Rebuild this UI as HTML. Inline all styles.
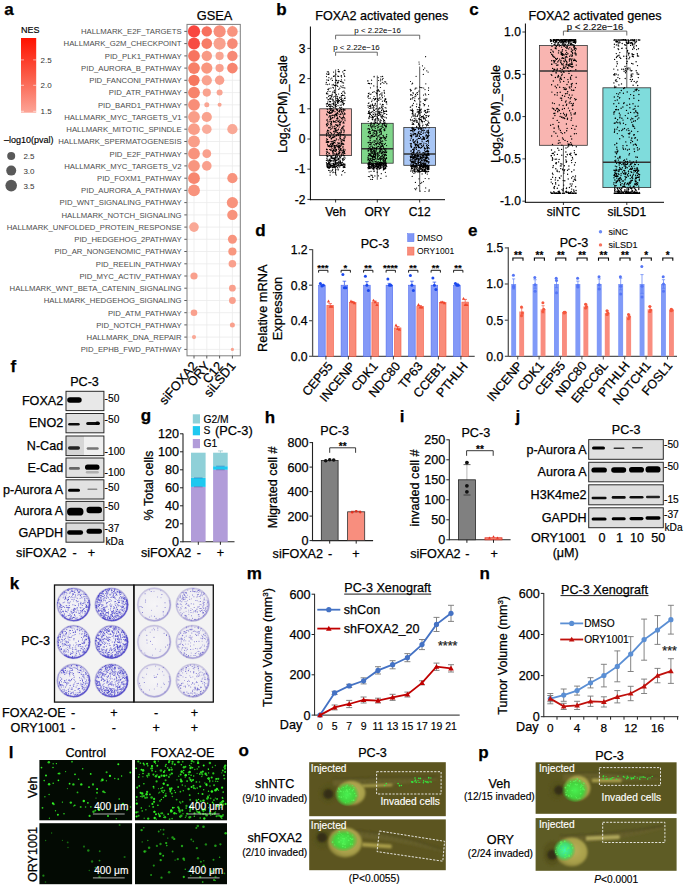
<!DOCTYPE html><html><head><meta charset="utf-8"><style>html,body{margin:0;padding:0;background:#fff;}svg{display:block;}</style></head><body><svg width="685" height="887" viewBox="0 0 685 887" font-family='"Liberation Sans", sans-serif'><text x="4.2" y="15.3" font-size="17" stroke="#000" stroke-width="0.25" font-weight="bold">a</text>
<text x="21.0" y="32.5" font-size="9" stroke="#000" stroke-width="0.15">NES</text>
<defs><linearGradient id="nes" x1="0" y1="0" x2="0" y2="1"><stop offset="0" stop-color="#ff1100"/><stop offset="0.5" stop-color="#fb5a46"/><stop offset="1" stop-color="#fca597"/></linearGradient></defs>
<rect x="21.0" y="38.0" width="15.2" height="74.7" fill="url(#nes)"/>
<line x1="21.0" y1="59.9" x2="24.0" y2="59.9" stroke="#fff" stroke-width="0.6"/>
<line x1="33.2" y1="59.9" x2="36.2" y2="59.9" stroke="#fff" stroke-width="0.6"/>
<text x="40.5" y="62.8" font-size="8" fill="#333">2.5</text>
<line x1="21.0" y1="85.3" x2="24.0" y2="85.3" stroke="#fff" stroke-width="0.6"/>
<line x1="33.2" y1="85.3" x2="36.2" y2="85.3" stroke="#fff" stroke-width="0.6"/>
<text x="40.5" y="88.2" font-size="8" fill="#333">2.0</text>
<line x1="21.0" y1="111.3" x2="24.0" y2="111.3" stroke="#fff" stroke-width="0.6"/>
<line x1="33.2" y1="111.3" x2="36.2" y2="111.3" stroke="#fff" stroke-width="0.6"/>
<text x="40.5" y="114.2" font-size="8" fill="#333">1.5</text>
<text x="4.0" y="143.2" font-size="9" stroke="#000" stroke-width="0.15">–log10(pval)</text>
<circle cx="11.2" cy="156.0" r="4.00" fill="#595959"/>
<text x="23.4" y="158.9" font-size="8" fill="#333">2.5</text>
<circle cx="11.2" cy="170.6" r="5.00" fill="#595959"/>
<text x="23.4" y="173.5" font-size="8" fill="#333">3.0</text>
<circle cx="11.2" cy="185.6" r="5.80" fill="#595959"/>
<text x="23.4" y="188.5" font-size="8" fill="#333">3.5</text>
<rect x="187.0" y="24.4" width="53.3" height="331.4" fill="#fff"/>
<line x1="194.0" y1="24.4" x2="194.0" y2="355.8" stroke="#ebebeb" stroke-width="0.8"/>
<line x1="206.8" y1="24.4" x2="206.8" y2="355.8" stroke="#ebebeb" stroke-width="0.8"/>
<line x1="219.6" y1="24.4" x2="219.6" y2="355.8" stroke="#ebebeb" stroke-width="0.8"/>
<line x1="232.4" y1="24.4" x2="232.4" y2="355.8" stroke="#ebebeb" stroke-width="0.8"/>
<line x1="187.0" y1="31.4" x2="240.3" y2="31.4" stroke="#ebebeb" stroke-width="0.8"/>
<line x1="187.0" y1="43.6" x2="240.3" y2="43.6" stroke="#ebebeb" stroke-width="0.8"/>
<line x1="187.0" y1="55.9" x2="240.3" y2="55.9" stroke="#ebebeb" stroke-width="0.8"/>
<line x1="187.0" y1="68.1" x2="240.3" y2="68.1" stroke="#ebebeb" stroke-width="0.8"/>
<line x1="187.0" y1="80.3" x2="240.3" y2="80.3" stroke="#ebebeb" stroke-width="0.8"/>
<line x1="187.0" y1="92.6" x2="240.3" y2="92.6" stroke="#ebebeb" stroke-width="0.8"/>
<line x1="187.0" y1="104.8" x2="240.3" y2="104.8" stroke="#ebebeb" stroke-width="0.8"/>
<line x1="187.0" y1="117.0" x2="240.3" y2="117.0" stroke="#ebebeb" stroke-width="0.8"/>
<line x1="187.0" y1="129.2" x2="240.3" y2="129.2" stroke="#ebebeb" stroke-width="0.8"/>
<line x1="187.0" y1="141.5" x2="240.3" y2="141.5" stroke="#ebebeb" stroke-width="0.8"/>
<line x1="187.0" y1="153.7" x2="240.3" y2="153.7" stroke="#ebebeb" stroke-width="0.8"/>
<line x1="187.0" y1="165.9" x2="240.3" y2="165.9" stroke="#ebebeb" stroke-width="0.8"/>
<line x1="187.0" y1="178.2" x2="240.3" y2="178.2" stroke="#ebebeb" stroke-width="0.8"/>
<line x1="187.0" y1="190.4" x2="240.3" y2="190.4" stroke="#ebebeb" stroke-width="0.8"/>
<line x1="187.0" y1="202.6" x2="240.3" y2="202.6" stroke="#ebebeb" stroke-width="0.8"/>
<line x1="187.0" y1="214.9" x2="240.3" y2="214.9" stroke="#ebebeb" stroke-width="0.8"/>
<line x1="187.0" y1="227.1" x2="240.3" y2="227.1" stroke="#ebebeb" stroke-width="0.8"/>
<line x1="187.0" y1="239.3" x2="240.3" y2="239.3" stroke="#ebebeb" stroke-width="0.8"/>
<line x1="187.0" y1="251.5" x2="240.3" y2="251.5" stroke="#ebebeb" stroke-width="0.8"/>
<line x1="187.0" y1="263.8" x2="240.3" y2="263.8" stroke="#ebebeb" stroke-width="0.8"/>
<line x1="187.0" y1="276.0" x2="240.3" y2="276.0" stroke="#ebebeb" stroke-width="0.8"/>
<line x1="187.0" y1="288.2" x2="240.3" y2="288.2" stroke="#ebebeb" stroke-width="0.8"/>
<line x1="187.0" y1="300.5" x2="240.3" y2="300.5" stroke="#ebebeb" stroke-width="0.8"/>
<line x1="187.0" y1="312.7" x2="240.3" y2="312.7" stroke="#ebebeb" stroke-width="0.8"/>
<line x1="187.0" y1="324.9" x2="240.3" y2="324.9" stroke="#ebebeb" stroke-width="0.8"/>
<line x1="187.0" y1="337.1" x2="240.3" y2="337.1" stroke="#ebebeb" stroke-width="0.8"/>
<line x1="187.0" y1="349.4" x2="240.3" y2="349.4" stroke="#ebebeb" stroke-width="0.8"/>
<text x="181.6" y="34.2" font-size="7.75" text-anchor="end" fill="#4d4d4d">HALLMARK_E2F_TARGETS</text>
<line x1="184.3" y1="31.4" x2="187.0" y2="31.4" stroke="#333" stroke-width="0.8"/>
<text x="181.6" y="46.4" font-size="7.75" text-anchor="end" fill="#4d4d4d">HALLMARK_G2M_CHECKPOINT</text>
<line x1="184.3" y1="43.6" x2="187.0" y2="43.6" stroke="#333" stroke-width="0.8"/>
<text x="181.6" y="58.7" font-size="7.75" text-anchor="end" fill="#4d4d4d">PID_PLK1_PATHWAY</text>
<line x1="184.3" y1="55.9" x2="187.0" y2="55.9" stroke="#333" stroke-width="0.8"/>
<text x="181.6" y="70.9" font-size="7.75" text-anchor="end" fill="#4d4d4d">PID_AURORA_B_PATHWAY</text>
<line x1="184.3" y1="68.1" x2="187.0" y2="68.1" stroke="#333" stroke-width="0.8"/>
<text x="181.6" y="83.1" font-size="7.75" text-anchor="end" fill="#4d4d4d">PID_FANCONI_PATHWAY</text>
<line x1="184.3" y1="80.3" x2="187.0" y2="80.3" stroke="#333" stroke-width="0.8"/>
<text x="181.6" y="95.4" font-size="7.75" text-anchor="end" fill="#4d4d4d">PID_ATR_PATHWAY</text>
<line x1="184.3" y1="92.6" x2="187.0" y2="92.6" stroke="#333" stroke-width="0.8"/>
<text x="181.6" y="107.6" font-size="7.75" text-anchor="end" fill="#4d4d4d">PID_BARD1_PATHWAY</text>
<line x1="184.3" y1="104.8" x2="187.0" y2="104.8" stroke="#333" stroke-width="0.8"/>
<text x="181.6" y="119.8" font-size="7.75" text-anchor="end" fill="#4d4d4d">HALLMARK_MYC_TARGETS_V1</text>
<line x1="184.3" y1="117.0" x2="187.0" y2="117.0" stroke="#333" stroke-width="0.8"/>
<text x="181.6" y="132.0" font-size="7.75" text-anchor="end" fill="#4d4d4d">HALLMARK_MITOTIC_SPINDLE</text>
<line x1="184.3" y1="129.2" x2="187.0" y2="129.2" stroke="#333" stroke-width="0.8"/>
<text x="181.6" y="144.3" font-size="7.75" text-anchor="end" fill="#4d4d4d">HALLMARK_SPERMATOGENESIS</text>
<line x1="184.3" y1="141.5" x2="187.0" y2="141.5" stroke="#333" stroke-width="0.8"/>
<text x="181.6" y="156.5" font-size="7.75" text-anchor="end" fill="#4d4d4d">PID_E2F_PATHWAY</text>
<line x1="184.3" y1="153.7" x2="187.0" y2="153.7" stroke="#333" stroke-width="0.8"/>
<text x="181.6" y="168.7" font-size="7.75" text-anchor="end" fill="#4d4d4d">HALLMARK_MYC_TARGETS_V2</text>
<line x1="184.3" y1="165.9" x2="187.0" y2="165.9" stroke="#333" stroke-width="0.8"/>
<text x="181.6" y="181.0" font-size="7.75" text-anchor="end" fill="#4d4d4d">PID_FOXM1_PATHWAY</text>
<line x1="184.3" y1="178.2" x2="187.0" y2="178.2" stroke="#333" stroke-width="0.8"/>
<text x="181.6" y="193.2" font-size="7.75" text-anchor="end" fill="#4d4d4d">PID_AURORA_A_PATHWAY</text>
<line x1="184.3" y1="190.4" x2="187.0" y2="190.4" stroke="#333" stroke-width="0.8"/>
<text x="181.6" y="205.4" font-size="7.75" text-anchor="end" fill="#4d4d4d">PID_WNT_SIGNALING_PATHWAY</text>
<line x1="184.3" y1="202.6" x2="187.0" y2="202.6" stroke="#333" stroke-width="0.8"/>
<text x="181.6" y="217.7" font-size="7.75" text-anchor="end" fill="#4d4d4d">HALLMARK_NOTCH_SIGNALING</text>
<line x1="184.3" y1="214.9" x2="187.0" y2="214.9" stroke="#333" stroke-width="0.8"/>
<text x="181.6" y="229.9" font-size="7.75" text-anchor="end" fill="#4d4d4d">HALLMARK_UNFOLDED_PROTEIN_RESPONSE</text>
<line x1="184.3" y1="227.1" x2="187.0" y2="227.1" stroke="#333" stroke-width="0.8"/>
<text x="181.6" y="242.1" font-size="7.75" text-anchor="end" fill="#4d4d4d">PID_HEDGEHOG_2PATHWAY</text>
<line x1="184.3" y1="239.3" x2="187.0" y2="239.3" stroke="#333" stroke-width="0.8"/>
<text x="181.6" y="254.3" font-size="7.75" text-anchor="end" fill="#4d4d4d">PID_AR_NONGENOMIC_PATHWAY</text>
<line x1="184.3" y1="251.5" x2="187.0" y2="251.5" stroke="#333" stroke-width="0.8"/>
<text x="181.6" y="266.6" font-size="7.75" text-anchor="end" fill="#4d4d4d">PID_REELIN_PATHWAY</text>
<line x1="184.3" y1="263.8" x2="187.0" y2="263.8" stroke="#333" stroke-width="0.8"/>
<text x="181.6" y="278.8" font-size="7.75" text-anchor="end" fill="#4d4d4d">PID_MYC_ACTIV_PATHWAY</text>
<line x1="184.3" y1="276.0" x2="187.0" y2="276.0" stroke="#333" stroke-width="0.8"/>
<text x="181.6" y="291.0" font-size="7.75" text-anchor="end" fill="#4d4d4d">HALLMARK_WNT_BETA_CATENIN_SIGNALING</text>
<line x1="184.3" y1="288.2" x2="187.0" y2="288.2" stroke="#333" stroke-width="0.8"/>
<text x="181.6" y="303.3" font-size="7.75" text-anchor="end" fill="#4d4d4d">HALLMARK_HEDGEHOG_SIGNALING</text>
<line x1="184.3" y1="300.5" x2="187.0" y2="300.5" stroke="#333" stroke-width="0.8"/>
<text x="181.6" y="315.5" font-size="7.75" text-anchor="end" fill="#4d4d4d">PID_ATM_PATHWAY</text>
<line x1="184.3" y1="312.7" x2="187.0" y2="312.7" stroke="#333" stroke-width="0.8"/>
<text x="181.6" y="327.7" font-size="7.75" text-anchor="end" fill="#4d4d4d">PID_NOTCH_PATHWAY</text>
<line x1="184.3" y1="324.9" x2="187.0" y2="324.9" stroke="#333" stroke-width="0.8"/>
<text x="181.6" y="339.9" font-size="7.75" text-anchor="end" fill="#4d4d4d">HALLMARK_DNA_REPAIR</text>
<line x1="184.3" y1="337.1" x2="187.0" y2="337.1" stroke="#333" stroke-width="0.8"/>
<text x="181.6" y="352.2" font-size="7.75" text-anchor="end" fill="#4d4d4d">PID_EPHB_FWD_PATHWAY</text>
<line x1="184.3" y1="349.4" x2="187.0" y2="349.4" stroke="#333" stroke-width="0.8"/>
<circle cx="194.0" cy="31.4" r="6.10" fill="#f9463f"/>
<circle cx="206.8" cy="31.4" r="5.20" fill="#f7705e"/>
<circle cx="219.6" cy="31.4" r="6.10" fill="#f88f7c"/>
<circle cx="232.4" cy="31.4" r="5.30" fill="#f8947f"/>
<circle cx="194.0" cy="43.6" r="6.00" fill="#f74c43"/>
<circle cx="206.8" cy="43.6" r="5.30" fill="#f77c67"/>
<circle cx="219.6" cy="43.6" r="6.10" fill="#f9a08d"/>
<circle cx="232.4" cy="43.6" r="5.30" fill="#f78a76"/>
<circle cx="194.0" cy="55.9" r="5.90" fill="#f7735f"/>
<circle cx="206.8" cy="55.9" r="5.20" fill="#f89a86"/>
<circle cx="219.6" cy="55.9" r="4.10" fill="#f9a593"/>
<circle cx="232.4" cy="55.9" r="5.20" fill="#f78a76"/>
<circle cx="194.0" cy="68.1" r="5.90" fill="#f78068"/>
<circle cx="206.8" cy="68.1" r="5.60" fill="#f9977f"/>
<circle cx="219.6" cy="68.1" r="4.10" fill="#f9a08e"/>
<circle cx="232.4" cy="68.1" r="5.30" fill="#f7856f"/>
<circle cx="194.0" cy="80.3" r="5.60" fill="#f6785f"/>
<circle cx="206.8" cy="80.3" r="5.10" fill="#f9a28e"/>
<circle cx="219.6" cy="80.3" r="4.70" fill="#f9a08e"/>
<circle cx="194.0" cy="92.6" r="5.90" fill="#f7836b"/>
<circle cx="206.8" cy="92.6" r="4.10" fill="#f9a28e"/>
<circle cx="219.6" cy="92.6" r="3.00" fill="#f9a593"/>
<circle cx="194.0" cy="104.8" r="5.90" fill="#f88e78"/>
<circle cx="206.8" cy="104.8" r="2.50" fill="#f9a593"/>
<circle cx="219.6" cy="104.8" r="2.00" fill="#f9a593"/>
<circle cx="194.0" cy="117.0" r="5.90" fill="#f99e88"/>
<circle cx="206.8" cy="117.0" r="5.10" fill="#f9a28e"/>
<circle cx="194.0" cy="129.2" r="5.90" fill="#f99e88"/>
<circle cx="206.8" cy="129.2" r="4.80" fill="#f9ab9a"/>
<circle cx="232.4" cy="129.2" r="5.10" fill="#f9a896"/>
<circle cx="194.0" cy="141.5" r="5.90" fill="#f99e88"/>
<circle cx="194.0" cy="153.7" r="5.90" fill="#f8937d"/>
<circle cx="206.8" cy="153.7" r="4.40" fill="#f9a08d"/>
<circle cx="194.0" cy="165.9" r="5.90" fill="#f8957f"/>
<circle cx="206.8" cy="165.9" r="4.80" fill="#f9a08d"/>
<circle cx="194.0" cy="178.2" r="5.90" fill="#f78770"/>
<circle cx="232.4" cy="178.2" r="5.10" fill="#f8937d"/>
<circle cx="194.0" cy="190.4" r="5.90" fill="#f8937d"/>
<circle cx="232.4" cy="202.6" r="5.60" fill="#f8937d"/>
<circle cx="232.4" cy="214.9" r="5.20" fill="#f8937d"/>
<circle cx="194.0" cy="227.1" r="4.80" fill="#f9a896"/>
<circle cx="232.4" cy="239.3" r="4.50" fill="#f8957f"/>
<circle cx="232.4" cy="251.5" r="4.10" fill="#f8977f"/>
<circle cx="232.4" cy="263.8" r="3.80" fill="#f9a08d"/>
<circle cx="194.0" cy="276.0" r="3.60" fill="#f9a08d"/>
<circle cx="232.4" cy="288.2" r="3.40" fill="#f9a08d"/>
<circle cx="232.4" cy="300.5" r="3.40" fill="#f9a08d"/>
<circle cx="194.0" cy="312.7" r="3.30" fill="#f9a08d"/>
<circle cx="232.4" cy="324.9" r="2.50" fill="#f9a08d"/>
<circle cx="194.0" cy="337.1" r="2.10" fill="#f9a896"/>
<circle cx="232.4" cy="349.4" r="1.60" fill="#f9a08d"/>
<rect x="187.0" y="24.4" width="53.3" height="331.4" fill="none" stroke="#7f7f7f" stroke-width="1"/>
<text x="214.5" y="19.5" font-size="12.8" text-anchor="middle" stroke="#000" stroke-width="0.25">GSEA</text>
<line x1="194.0" y1="355.8" x2="194.0" y2="358.5" stroke="#333" stroke-width="0.8"/>
<text x="198.0" y="366.3" font-size="12.8" text-anchor="end" stroke="#000" stroke-width="0.25" transform="rotate(-50 198.0 366.3)">siFOXA2</text>
<line x1="206.8" y1="355.8" x2="206.8" y2="358.5" stroke="#333" stroke-width="0.8"/>
<text x="210.8" y="366.3" font-size="12.8" text-anchor="end" stroke="#000" stroke-width="0.25" transform="rotate(-50 210.8 366.3)">ORY</text>
<line x1="219.6" y1="355.8" x2="219.6" y2="358.5" stroke="#333" stroke-width="0.8"/>
<text x="223.6" y="366.3" font-size="12.8" text-anchor="end" stroke="#000" stroke-width="0.25" transform="rotate(-50 223.6 366.3)">C12</text>
<line x1="232.4" y1="355.8" x2="232.4" y2="358.5" stroke="#333" stroke-width="0.8"/>
<text x="236.4" y="366.3" font-size="12.8" text-anchor="end" stroke="#000" stroke-width="0.25" transform="rotate(-50 236.4 366.3)">siLSD1</text>
<text x="276.2" y="15.3" font-size="17" stroke="#000" stroke-width="0.25" font-weight="bold">b</text>
<text x="381.7" y="19.5" font-size="12.6" text-anchor="middle" stroke="#000" stroke-width="0.25">FOXA2 activated genes</text>
<line x1="310.4" y1="26.5" x2="310.4" y2="200.2" stroke="#000" stroke-width="1"/>
<line x1="309.9" y1="199.7" x2="445.0" y2="199.7" stroke="#000" stroke-width="1"/>
<line x1="307.4" y1="48.4" x2="310.4" y2="48.4" stroke="#000" stroke-width="0.8"/>
<text x="305.4" y="52.6" font-size="12" text-anchor="end" stroke="#000" stroke-width="0.25">3</text>
<line x1="307.4" y1="78.6" x2="310.4" y2="78.6" stroke="#000" stroke-width="0.8"/>
<text x="305.4" y="82.8" font-size="12" text-anchor="end" stroke="#000" stroke-width="0.25">2</text>
<line x1="307.4" y1="108.8" x2="310.4" y2="108.8" stroke="#000" stroke-width="0.8"/>
<text x="305.4" y="113.0" font-size="12" text-anchor="end" stroke="#000" stroke-width="0.25">1</text>
<line x1="307.4" y1="139.0" x2="310.4" y2="139.0" stroke="#000" stroke-width="0.8"/>
<text x="305.4" y="143.2" font-size="12" text-anchor="end" stroke="#000" stroke-width="0.25">0</text>
<line x1="307.4" y1="169.2" x2="310.4" y2="169.2" stroke="#000" stroke-width="0.8"/>
<text x="305.4" y="173.4" font-size="12" text-anchor="end" stroke="#000" stroke-width="0.25">-1</text>
<line x1="307.4" y1="199.4" x2="310.4" y2="199.4" stroke="#000" stroke-width="0.8"/>
<text x="305.4" y="203.6" font-size="12" text-anchor="end" stroke="#000" stroke-width="0.25">-2</text>
<text x="287.0" y="104.2" font-size="12.5" text-anchor="middle" stroke="#000" stroke-width="0.25" transform="rotate(-90 287.0 104.2)">Log<tspan font-size="8.5" dy="3">2</tspan><tspan dy="-3">(CPM)_scale</tspan></text>
<line x1="335.6" y1="69.5" x2="335.6" y2="175.2" stroke="#333" stroke-width="0.8"/>
<rect x="319.7" y="108.8" width="31.8" height="46.8" fill="#fbb8b4" stroke="#333" stroke-width="0.8"/>
<line x1="319.7" y1="135.1" x2="351.5" y2="135.1" stroke="#333" stroke-width="1.5"/>
<path d="M336.7 139.0h0M334.9 90.0h0M337.3 134.2h0M335.8 160.5h0M341.2 121.4h0M331.9 165.3h0M341.5 165.4h0M326.9 114.7h0M344.4 75.8h0M337.8 118.9h0M326.4 162.6h0M327.2 132.1h0M330.7 160.1h0M334.9 167.7h0M342.1 140.0h0M338.3 133.1h0M338.7 135.1h0M331.4 138.6h0M345.0 70.4h0M339.5 100.6h0M330.5 150.2h0M327.4 152.4h0M333.7 107.3h0M333.4 100.0h0M342.2 82.7h0M330.1 175.1h0M335.0 93.0h0M333.7 76.5h0M338.1 166.1h0M331.2 106.2h0M332.4 165.5h0M340.5 81.4h0M330.8 164.4h0M327.2 165.0h0M329.5 104.5h0M334.6 128.8h0M340.0 160.1h0M338.3 163.9h0M334.1 164.4h0M331.2 158.4h0M341.4 79.8h0M342.9 151.2h0M333.6 158.6h0M338.3 99.3h0M344.9 165.0h0M331.0 158.4h0M332.4 106.7h0M327.5 151.8h0M337.2 165.4h0M337.5 156.1h0M334.7 145.6h0M335.3 82.5h0M342.6 127.2h0M329.0 160.7h0M341.6 93.4h0M329.7 155.6h0M344.0 109.9h0M344.2 159.6h0M337.6 96.8h0M328.1 141.5h0M344.4 167.4h0M339.5 156.5h0M341.8 155.0h0M331.7 124.9h0M339.8 161.2h0M330.4 166.2h0M342.3 128.8h0M331.4 123.1h0M330.0 91.5h0M331.2 171.1h0M327.2 139.5h0M333.1 161.2h0M328.6 127.5h0M343.0 146.4h0M338.6 76.4h0M337.2 115.0h0M326.8 163.5h0M343.4 170.7h0M344.4 114.0h0M338.2 169.9h0M340.0 136.5h0M345.1 149.9h0M336.5 166.0h0M343.2 110.2h0M339.5 110.2h0M343.5 104.9h0M339.1 147.2h0M342.7 95.0h0M341.1 141.9h0M337.0 98.5h0M333.4 121.9h0M337.7 126.4h0M338.2 165.8h0M342.8 71.9h0M333.5 111.1h0M337.1 110.4h0M342.0 140.0h0M340.4 165.7h0M337.5 167.7h0M330.5 136.6h0M335.5 114.2h0M343.6 123.0h0M326.3 155.1h0M339.0 151.4h0M329.3 159.2h0M338.6 94.0h0M343.0 139.8h0M338.8 149.3h0M334.3 159.5h0M343.5 103.7h0M333.4 97.0h0M332.1 126.3h0M335.5 163.7h0M342.2 100.9h0M344.2 112.9h0M329.3 153.4h0M331.3 139.1h0M334.0 158.3h0M335.5 121.9h0M342.0 150.2h0M334.7 75.9h0M326.7 166.0h0M326.9 97.7h0M336.9 113.1h0M341.1 150.8h0M328.7 170.4h0M326.6 138.8h0M330.6 101.6h0M327.0 163.5h0M334.6 121.5h0M338.5 121.4h0M344.3 103.6h0M329.9 115.7h0M329.5 137.1h0M335.1 172.5h0M329.5 112.6h0M332.7 153.8h0M336.0 114.3h0M340.5 123.0h0M341.1 143.8h0M327.8 93.9h0M339.8 88.2h0M334.7 163.9h0M343.4 121.9h0M336.9 145.2h0M341.2 97.1h0M334.9 85.7h0M330.0 119.2h0M341.6 111.7h0M339.7 120.2h0M343.2 158.4h0M344.7 76.4h0M341.1 131.2h0M343.4 149.8h0M332.7 99.2h0M334.5 165.7h0M340.7 129.8h0M326.6 136.1h0M327.3 103.4h0M329.4 104.3h0M341.1 148.6h0M328.9 163.5h0M339.8 133.3h0M339.2 100.6h0M335.5 85.3h0M327.7 84.6h0M336.1 157.8h0M339.9 152.3h0M336.0 120.5h0M336.7 100.3h0M333.3 150.5h0M343.2 100.2h0M342.3 158.8h0M336.1 80.4h0M329.9 127.4h0M335.7 131.3h0M326.6 124.0h0M335.9 80.2h0M341.3 143.2h0M335.4 128.5h0M327.4 115.0h0M334.0 131.0h0M343.6 82.9h0M335.1 154.0h0M334.3 164.0h0M343.2 102.8h0M332.1 137.0h0M337.8 160.0h0M328.6 89.8h0M326.5 106.1h0M330.4 159.8h0M332.2 115.4h0M337.9 147.0h0M340.0 164.9h0M335.8 164.2h0M329.9 155.6h0M334.4 131.9h0M334.0 145.3h0M329.1 132.0h0M338.1 159.1h0M336.2 120.5h0M337.7 99.6h0M330.5 99.1h0M341.5 109.8h0M332.1 94.6h0M343.6 150.3h0M345.1 158.0h0M328.6 96.3h0M339.9 156.4h0M327.9 154.8h0M334.1 101.4h0M328.5 105.2h0M339.1 143.1h0M329.9 170.8h0M343.4 115.9h0M328.3 80.5h0M340.5 134.5h0M339.1 134.8h0M327.4 160.2h0M326.8 164.8h0M335.9 129.6h0M328.9 127.8h0M330.0 160.6h0M344.9 100.6h0M327.9 89.4h0M344.2 166.5h0M340.6 138.2h0M335.0 149.3h0M334.3 133.5h0M326.4 124.5h0M342.1 113.9h0M334.7 160.8h0M333.8 109.9h0M329.2 159.8h0M326.4 133.8h0M341.3 95.8h0M342.5 113.6h0M333.8 121.5h0M335.7 124.6h0M341.4 75.6h0M343.4 154.9h0M340.9 109.4h0M333.8 102.9h0M342.8 95.5h0M340.7 114.6h0M333.8 107.4h0M327.4 111.7h0M335.0 148.1h0M332.9 172.6h0M338.0 120.5h0M344.0 157.0h0M332.5 117.6h0M336.9 118.3h0M333.5 131.6h0M338.3 69.6h0M340.6 113.9h0M326.5 76.6h0M340.1 122.9h0M333.7 155.1h0M329.8 166.9h0M328.0 145.3h0M343.3 155.5h0M335.7 129.8h0M336.9 80.7h0M338.2 71.3h0M327.5 103.4h0M340.5 124.8h0M343.8 167.1h0M335.1 162.4h0M335.5 161.7h0M327.2 123.4h0M334.1 85.4h0M337.5 132.3h0M331.5 146.1h0M336.8 118.8h0M339.7 152.9h0M326.4 151.8h0M326.9 156.0h0M340.4 162.7h0M343.2 144.1h0M327.1 109.0h0M344.0 73.5h0M343.3 166.0h0M335.2 140.9h0M330.7 79.0h0M343.9 132.6h0M335.0 111.7h0M341.6 77.0h0M328.3 124.2h0M334.8 122.0h0M327.1 159.1h0M328.5 132.1h0M338.8 139.8h0M331.1 138.7h0M334.1 126.4h0M336.2 106.3h0M344.2 70.4h0M330.6 110.5h0M343.1 164.5h0M338.0 105.7h0M331.3 146.6h0M336.8 115.6h0M338.1 125.4h0M329.7 108.5h0M344.7 155.7h0M342.8 91.8h0M327.3 167.3h0M334.2 153.9h0M328.0 122.1h0M327.5 130.7h0M338.9 165.6h0M338.1 129.8h0M335.2 145.5h0M332.6 158.6h0M342.0 109.3h0M328.4 166.0h0M338.0 103.4h0M330.2 107.1h0M331.0 141.3h0M333.1 103.4h0M344.9 118.9h0M336.5 149.4h0M343.6 109.2h0M333.1 141.0h0M342.7 165.2h0M327.7 165.9h0M335.3 128.3h0M331.8 115.6h0M327.5 106.5h0M338.7 158.4h0M331.9 165.7h0M339.3 111.4h0M328.8 152.9h0M339.9 146.8h0M328.3 146.0h0M336.9 113.1h0M344.0 91.2h0M334.4 92.3h0M331.9 104.0h0M333.7 150.1h0M343.1 87.7h0M333.0 155.7h0M333.0 146.1h0M333.5 143.6h0M336.8 159.8h0M336.4 104.5h0M336.8 101.0h0M340.5 161.2h0M331.4 96.9h0M335.9 169.6h0M336.9 130.4h0M338.5 80.9h0M327.3 103.9h0M341.1 130.2h0M327.7 165.6h0M343.2 110.2h0M338.1 165.6h0M340.3 163.4h0M330.8 119.4h0M340.6 157.8h0M340.6 132.8h0M332.5 143.7h0M338.9 80.5h0M336.3 135.6h0M339.6 111.9h0M333.9 92.0h0M338.8 101.9h0M341.4 99.4h0M343.0 101.2h0M338.3 82.7h0M339.6 132.6h0M334.1 104.1h0M328.9 141.6h0M344.9 109.7h0M329.3 145.3h0M334.2 159.1h0M344.5 152.2h0M332.0 166.6h0M338.4 164.5h0M329.5 106.5h0M334.8 166.5h0M343.4 126.2h0M328.2 167.4h0M330.2 160.6h0M339.7 156.7h0M330.4 125.1h0M331.4 160.5h0M340.5 161.5h0M336.5 150.5h0M335.2 102.7h0M343.0 154.8h0M332.6 92.1h0M344.3 130.1h0M330.3 136.5h0M344.1 166.9h0M333.4 104.1h0M335.9 132.2h0M344.9 153.6h0M330.6 118.5h0M335.1 172.5h0M341.2 145.6h0M337.6 112.7h0M329.1 162.6h0M331.0 149.7h0M335.9 98.0h0M345.0 120.7h0M336.3 154.3h0M340.7 163.1h0M341.7 174.9h0M341.7 100.1h0M331.2 165.7h0M327.9 112.3h0M335.0 136.7h0M337.2 83.2h0M331.9 99.1h0M334.0 105.2h0M327.8 91.6h0M330.1 101.9h0M336.1 130.5h0M341.9 162.6h0M332.0 150.6h0M331.9 166.0h0M339.7 137.8h0M339.2 146.6h0M333.6 164.8h0M344.5 138.2h0M338.5 101.6h0M333.3 172.1h0M330.6 113.0h0M334.8 128.3h0M344.9 172.6h0M330.0 104.3h0M331.6 122.9h0M336.4 145.3h0M332.5 151.7h0M338.8 143.9h0M329.9 155.1h0M332.4 110.8h0M336.8 85.5h0M332.4 111.6h0M327.9 101.8h0M327.9 163.5h0M339.6 116.4h0M333.7 160.9h0M337.4 100.9h0M330.4 165.4h0M328.5 162.6h0M327.5 142.7h0M334.2 90.8h0M338.4 133.9h0M341.7 107.3h0M332.4 144.4h0M326.4 142.3h0M339.4 143.2h0M341.1 75.9h0M337.7 118.2h0M332.4 170.6h0M338.5 148.0h0M333.3 164.8h0M341.1 134.1h0M337.7 102.0h0M340.7 162.5h0M336.5 94.6h0M335.6 147.2h0M339.7 163.5h0M335.9 74.2h0M342.0 112.4h0M344.1 159.6h0M329.9 121.7h0M330.7 165.7h0M339.3 127.0h0M343.8 149.1h0M334.9 146.5h0M344.6 164.1h0M343.3 163.7h0M336.8 130.5h0M331.1 128.7h0M345.0 93.2h0M337.5 102.7h0M341.8 164.2h0M343.1 152.4h0M337.0 156.3h0M329.6 101.5h0M327.5 130.0h0M329.5 167.6h0M343.9 74.1h0M331.9 118.4h0M340.1 117.1h0M337.3 144.8h0M326.4 103.9h0M335.0 159.4h0M333.4 163.4h0M329.4 127.8h0M331.1 133.0h0M332.4 127.9h0M326.8 120.2h0M328.9 117.1h0M337.5 82.4h0M333.9 137.5h0M339.2 122.1h0M340.4 108.1h0M345.0 136.2h0M342.3 100.8h0M334.3 142.5h0M343.3 128.1h0M336.1 132.3h0M343.3 140.6h0M327.1 149.8h0M343.2 111.4h0M337.5 110.7h0M331.9 108.6h0M327.4 125.3h0M334.6 164.1h0M333.6 134.8h0M339.3 166.9h0M330.6 132.3h0M333.6 151.0h0M327.4 156.7h0M344.5 92.8h0M342.6 117.7h0M341.4 141.5h0M340.3 157.7h0M343.3 128.1h0M341.2 165.1h0M336.3 164.1h0M326.1 84.2h0M331.8 156.1h0M327.3 149.5h0M341.6 95.7h0M332.9 143.5h0M327.0 126.1h0M343.2 167.6h0M335.6 150.9h0M344.7 87.9h0M330.0 137.3h0M343.6 151.9h0M329.8 95.5h0M332.8 100.8h0M329.4 137.3h0M345.0 97.0h0M338.1 159.2h0M342.8 160.0h0M328.1 166.9h0M332.0 111.3h0M342.6 95.1h0M328.7 112.7h0M343.9 114.5h0M327.6 139.6h0M331.9 157.6h0M329.8 112.9h0M330.6 160.8h0M341.1 117.8h0M338.7 145.5h0M337.3 96.6h0M331.8 157.2h0M338.8 89.4h0M338.3 153.4h0M344.8 165.4h0M336.1 140.0h0M327.0 131.8h0M331.5 124.6h0M341.4 155.5h0M331.5 165.5h0M330.8 108.3h0M336.5 153.2h0M343.1 160.4h0M326.7 73.9h0M340.4 138.2h0M343.8 144.5h0M329.5 135.1h0M338.4 129.2h0M338.6 146.6h0M335.9 105.8h0M342.2 134.5h0M336.0 115.7h0M329.4 84.1h0M329.2 106.1h0M330.6 123.7h0M340.8 140.0h0M341.1 105.5h0M335.4 156.7h0M337.1 157.8h0M326.8 135.2h0M339.7 124.9h0M342.7 127.4h0M329.0 160.9h0M335.5 170.8h0M334.5 140.4h0M341.3 154.5h0M343.3 166.1h0M336.4 127.8h0M330.6 105.0h0M332.0 163.3h0M332.1 167.2h0M336.1 122.3h0M337.3 154.4h0M341.7 165.5h0M330.9 161.5h0M339.2 162.4h0M341.0 101.5h0M333.9 166.5h0M330.2 146.2h0M326.9 79.9h0M340.6 135.9h0M328.8 74.4h0M340.3 138.7h0M330.7 167.3h0M328.8 96.1h0M331.8 143.9h0M327.6 141.3h0M345.0 167.5h0M340.0 107.6h0M330.9 157.1h0M330.7 129.6h0M343.8 138.2h0M332.5 146.2h0M337.7 76.1h0M333.8 167.3h0M327.2 119.3h0M339.3 148.0h0M337.3 98.4h0M334.9 96.4h0M342.1 143.9h0M340.9 144.8h0M332.7 158.2h0M336.5 160.6h0M330.0 162.1h0M335.0 158.3h0M334.6 150.8h0M339.0 71.9h0M330.0 98.6h0M327.5 144.7h0M333.0 115.0h0M326.5 153.6h0M331.1 160.7h0M343.6 143.9h0M331.2 112.5h0M329.0 146.5h0M332.9 87.3h0M339.8 107.4h0M326.5 93.7h0M333.4 149.7h0M342.9 165.7h0M340.7 149.4h0M327.1 133.0h0M330.6 143.8h0M329.0 167.3h0M326.7 125.0h0M334.2 150.5h0M328.7 130.5h0M331.0 113.4h0M338.8 111.4h0M330.0 163.3h0M339.6 153.1h0M333.4 142.9h0M330.4 98.3h0M332.7 152.2h0M326.9 158.2h0M338.1 169.1h0M341.5 128.1h0M331.8 78.1h0M343.6 117.2h0M339.2 158.2h0M344.2 117.6h0M330.6 98.1h0M327.8 121.1h0M333.6 141.0h0M333.4 166.6h0M335.5 149.2h0M329.1 153.2h0M335.1 143.1h0M338.7 161.9h0M327.9 156.4h0M334.1 148.1h0M337.2 163.1h0M336.6 113.9h0M326.5 114.0h0M333.0 144.0h0M333.8 166.4h0M335.5 166.8h0M335.0 126.0h0M330.9 149.4h0M332.7 169.3h0M336.8 96.0h0M338.8 154.6h0M335.0 160.4h0M344.2 123.0h0M337.0 146.4h0M340.8 86.1h0M337.9 121.7h0M334.0 142.4h0M341.9 153.5h0M333.4 97.0h0M326.8 93.1h0M335.7 163.7h0M332.9 150.8h0M328.9 77.7h0M330.4 160.0h0M330.6 116.1h0M336.4 175.0h0M330.6 143.8h0M338.5 135.6h0M338.0 130.0h0M341.9 128.7h0M332.4 80.4h0M342.9 147.7h0M339.7 150.4h0M339.1 114.5h0M341.8 81.4h0M337.9 162.4h0M336.8 135.8h0M331.5 145.8h0M336.2 108.9h0M330.8 156.6h0M329.5 149.5h0M328.5 133.6h0M327.4 166.4h0M339.5 165.0h0M334.7 164.6h0M335.2 106.8h0M342.6 162.2h0M327.1 97.9h0M335.7 155.3h0M333.6 104.6h0M330.9 112.4h0M332.3 112.4h0M340.5 148.7h0M341.8 100.4h0M334.1 128.0h0M337.9 113.3h0M341.3 101.5h0M333.3 164.1h0M330.5 117.3h0M326.4 160.5h0M344.0 126.1h0M328.6 80.0h0M334.1 115.4h0M333.6 121.3h0M344.9 88.0h0M339.7 167.0h0M326.9 164.4h0M340.0 152.6h0M328.4 71.8h0M326.6 149.0h0M335.3 130.6h0M332.0 145.5h0M342.0 104.2h0M333.5 152.8h0M340.6 122.7h0M333.5 76.2h0M336.5 114.7h0M328.9 104.3h0M328.1 161.3h0M330.9 88.0h0M328.4 136.0h0M326.5 149.6h0M328.8 128.1h0M331.3 121.9h0M335.3 157.3h0M331.0 146.1h0M327.3 166.9h0M332.0 95.9h0M329.6 165.9h0M345.0 136.4h0M342.6 159.2h0M334.0 136.4h0M333.6 103.6h0M336.6 166.6h0M337.9 118.6h0M343.9 153.4h0M345.0 98.4h0M341.9 139.7h0M329.4 111.4h0M329.3 168.5h0M327.5 164.3h0M340.4 146.7h0M335.9 150.7h0M330.1 172.6h0M326.3 82.4h0M341.5 132.2h0M340.1 105.0h0M341.4 143.3h0M340.7 101.8h0M328.0 74.5h0M333.7 84.3h0M330.9 113.5h0M326.5 93.1h0M330.4 127.0h0M333.1 144.2h0M341.5 118.6h0M338.2 146.2h0M331.4 147.1h0M332.2 94.1h0M332.5 165.3h0M330.1 109.7h0M336.5 109.5h0M329.5 116.1h0M328.8 164.8h0M334.3 147.4h0M335.6 172.9h0M332.2 143.0h0M344.2 131.2h0M342.8 159.0h0M340.4 149.8h0M344.9 164.7h0M344.4 140.8h0M333.9 157.9h0M329.5 113.4h0M339.0 153.7h0M332.2 84.9h0M332.9 160.6h0M328.9 73.2h0M333.3 120.9h0M330.1 120.0h0M343.0 122.9h0M338.0 99.2h0M336.9 134.6h0M342.0 164.5h0M334.7 115.1h0M334.1 117.7h0M330.5 144.5h0M337.0 124.5h0M326.7 133.5h0M334.6 121.7h0M337.4 125.3h0M329.0 88.4h0M345.0 137.6h0M332.0 110.1h0M344.9 110.2h0M342.6 143.1h0M344.9 164.0h0M330.5 135.8h0M338.4 100.6h0M341.9 87.1h0M335.8 104.5h0M327.3 71.8h0M339.6 97.9h0M341.4 155.6h0M336.3 138.8h0M329.8 98.3h0M338.3 153.2h0M336.6 166.0h0M335.4 105.4h0M341.3 156.2h0M340.7 99.3h0M343.3 129.9h0M329.0 104.6h0M328.0 146.1h0M332.7 167.4h0M341.9 98.4h0M329.6 164.4h0M342.2 144.2h0M343.2 122.8h0M344.9 166.1h0M338.1 158.9h0M339.9 97.3h0M338.8 159.6h0M326.4 140.8h0M332.1 148.3h0M331.4 121.4h0M339.3 124.2h0M328.5 160.8h0M335.0 114.7h0M328.3 163.9h0M337.7 86.4h0M329.8 146.8h0M339.2 71.4h0M332.9 110.2h0M333.9 150.7h0M338.1 163.3h0M341.7 141.3h0M334.8 142.5h0M344.0 134.4h0M339.5 147.7h0M337.1 156.7h0M342.7 152.7h0M342.3 152.6h0M334.7 116.5h0M333.5 87.9h0M337.5 109.5h0M327.3 139.3h0M331.4 141.7h0M344.2 139.9h0M339.3 152.1h0M330.7 117.0h0M328.6 142.3h0M330.9 95.6h0M332.6 141.6h0M342.3 102.4h0M336.5 125.5h0M343.1 165.1h0M333.0 165.5h0M339.8 145.4h0M332.6 117.3h0M344.1 95.4h0M338.1 169.4h0M333.0 137.6h0M332.1 138.0h0M337.6 117.1h0M344.7 80.0h0M333.6 72.1h0M338.4 101.7h0M345.1 113.9h0M334.9 166.3h0M338.6 143.2h0M344.9 158.0h0M333.1 158.7h0M333.6 163.4h0M327.7 109.7h0M338.4 161.9h0M340.2 122.1h0M341.5 155.3h0M340.8 110.8h0M335.0 164.3h0M342.4 171.3h0M343.1 85.6h0M332.8 169.2h0M336.2 131.3h0M341.1 164.6h0M335.7 151.4h0M336.9 164.1h0M327.8 163.9h0M331.7 133.8h0M330.8 106.3h0M327.1 142.1h0M334.7 158.1h0M334.8 129.0h0M328.1 99.7h0M329.0 99.7h0M336.1 80.0h0M337.7 142.8h0M344.4 98.5h0M326.3 142.2h0M341.7 162.9h0M339.6 110.4h0M336.2 162.7h0M328.2 168.1h0M344.5 151.4h0M342.2 120.0h0M334.0 167.1h0M331.1 165.9h0M343.6 164.6h0M335.4 149.1h0M342.9 118.9h0M336.9 85.2h0M343.3 135.0h0M331.8 143.7h0M331.0 109.9h0M334.3 145.9h0M332.9 137.0h0" stroke="#000" stroke-width="1.24" stroke-linecap="round"/>
<line x1="377.3" y1="75.6" x2="377.3" y2="179.8" stroke="#333" stroke-width="0.8"/>
<rect x="361.4" y="123.3" width="31.8" height="39.9" fill="#7fd68a" stroke="#333" stroke-width="0.8"/>
<line x1="361.4" y1="148.7" x2="393.2" y2="148.7" stroke="#333" stroke-width="1.5"/>
<path d="M380.3 150.1h0M370.5 131.8h0M374.9 175.9h0M383.2 161.8h0M379.2 129.3h0M380.4 142.8h0M376.2 165.7h0M385.0 165.3h0M383.4 168.3h0M380.9 167.9h0M375.5 158.1h0M368.2 113.4h0M385.2 168.3h0M369.5 147.8h0M385.8 82.1h0M375.8 166.7h0M373.7 166.0h0M370.9 136.3h0M368.8 128.7h0M383.3 165.1h0M375.8 154.4h0M376.9 138.9h0M368.4 155.4h0M386.2 125.7h0M380.4 87.5h0M374.7 157.0h0M380.6 129.4h0M372.3 166.7h0M377.5 156.6h0M377.3 116.9h0M383.4 169.9h0M377.7 152.7h0M375.9 163.8h0M382.5 155.1h0M378.2 167.0h0M381.0 164.9h0M373.1 169.0h0M379.9 157.7h0M376.5 168.5h0M373.2 164.2h0M386.0 150.0h0M386.0 149.8h0M385.4 165.2h0M371.4 156.5h0M385.1 123.4h0M372.9 177.4h0M374.3 121.1h0M368.0 163.4h0M379.6 168.9h0M386.8 83.7h0M368.3 148.3h0M382.8 159.0h0M379.9 114.6h0M377.8 163.7h0M379.7 150.0h0M385.8 162.4h0M370.9 107.9h0M384.4 160.8h0M385.7 161.5h0M381.0 147.1h0M371.9 127.9h0M372.6 161.1h0M381.0 130.1h0M384.6 166.1h0M372.4 153.3h0M386.4 152.4h0M379.7 142.6h0M386.1 102.6h0M375.7 122.2h0M384.9 139.7h0M378.8 119.1h0M374.8 157.5h0M378.5 124.7h0M381.3 173.7h0M383.0 106.4h0M385.1 107.6h0M382.8 145.1h0M369.7 155.7h0M373.7 157.2h0M380.9 99.2h0M379.6 144.4h0M378.0 166.3h0M375.3 128.3h0M375.5 163.3h0M380.8 158.9h0M369.5 165.8h0M381.0 159.5h0M380.3 122.3h0M374.7 99.1h0M377.1 169.3h0M371.2 151.9h0M374.3 131.7h0M374.0 163.4h0M367.9 96.9h0M373.1 156.8h0M376.0 164.3h0M385.3 163.9h0M381.1 148.6h0M376.6 165.3h0M383.8 137.9h0M376.5 163.2h0M383.6 112.1h0M378.0 163.7h0M375.3 122.1h0M380.4 131.1h0M378.3 89.5h0M374.5 130.3h0M373.9 125.1h0M374.7 148.7h0M370.4 159.8h0M378.1 163.7h0M368.7 163.1h0M373.2 117.6h0M379.2 98.7h0M384.4 155.1h0M373.9 107.6h0M380.0 166.3h0M379.4 113.4h0M375.6 119.6h0M372.8 136.7h0M375.0 154.1h0M375.4 155.4h0M371.0 117.2h0M372.6 164.2h0M377.7 90.2h0M383.7 168.5h0M383.4 110.1h0M381.8 156.9h0M370.4 159.9h0M383.6 111.0h0M384.5 164.1h0M373.7 171.1h0M371.0 175.2h0M381.4 165.3h0M371.4 160.5h0M373.7 164.8h0M379.3 111.3h0M380.8 167.0h0M376.3 145.0h0M380.2 145.9h0M377.4 117.9h0M376.7 134.9h0M375.2 135.1h0M377.6 153.6h0M373.1 126.8h0M377.1 101.4h0M380.9 112.0h0M380.8 93.9h0M375.5 152.9h0M382.1 137.7h0M370.3 113.8h0M369.9 168.2h0M368.9 167.6h0M372.5 176.8h0M380.8 166.7h0M386.1 136.9h0M382.0 92.9h0M368.3 95.5h0M385.4 163.7h0M371.7 150.1h0M375.8 122.6h0M373.8 144.3h0M369.5 163.4h0M385.9 137.8h0M382.3 82.3h0M374.7 99.4h0M385.3 160.4h0M380.5 138.5h0M372.1 175.4h0M381.7 149.7h0M382.2 115.2h0M375.1 158.0h0M386.6 111.3h0M371.5 149.5h0M378.0 136.0h0M372.2 156.7h0M379.4 155.3h0M378.1 166.3h0M382.0 94.9h0M375.8 163.0h0M381.8 167.0h0M371.1 135.3h0M379.1 143.8h0M375.0 140.8h0M374.5 159.7h0M374.1 76.8h0M376.5 148.4h0M375.4 165.0h0M373.9 164.2h0M374.4 156.4h0M373.4 98.3h0M380.3 158.4h0M377.6 154.6h0M369.2 133.7h0M369.7 131.3h0M383.2 163.1h0M380.6 80.8h0M376.1 165.1h0M383.8 161.3h0M371.5 163.6h0M379.9 134.7h0M376.9 139.6h0M376.5 93.3h0M375.2 98.5h0M374.6 150.7h0M382.1 126.8h0M377.8 163.4h0M377.3 125.7h0M379.5 132.2h0M374.6 126.9h0M368.3 159.9h0M382.8 108.3h0M386.2 155.0h0M370.7 106.7h0M375.8 114.0h0M372.7 159.4h0M368.8 153.7h0M370.0 168.6h0M370.8 159.8h0M383.6 166.4h0M377.1 155.6h0M385.5 138.4h0M372.1 165.7h0M385.1 111.5h0M377.8 99.7h0M371.4 156.4h0M382.3 104.8h0M382.8 143.4h0M377.9 162.5h0M369.9 105.7h0M371.3 136.8h0M383.7 113.9h0M376.1 134.0h0M377.2 172.2h0M375.4 156.8h0M385.3 167.8h0M378.5 146.4h0M384.8 113.4h0M378.1 143.6h0M374.9 112.9h0M368.3 107.2h0M377.8 118.4h0M386.6 136.2h0M375.5 163.9h0M382.0 118.0h0M382.6 146.2h0M384.3 130.7h0M374.7 133.4h0M369.4 161.0h0M368.6 166.4h0M370.5 87.8h0M370.3 138.2h0M377.9 91.6h0M383.5 164.9h0M386.4 111.5h0M375.4 163.8h0M373.2 132.3h0M381.1 141.6h0M383.5 123.1h0M373.2 123.2h0M376.0 122.7h0M368.2 165.1h0M374.6 136.3h0M377.1 167.3h0M374.0 153.6h0M378.0 141.9h0M386.6 145.6h0M373.5 106.2h0M373.8 110.3h0M368.9 98.5h0M385.5 159.2h0M381.2 132.3h0M370.1 164.3h0M369.1 93.1h0M376.0 165.0h0M380.7 115.9h0M382.6 76.4h0M385.1 152.3h0M368.8 159.3h0M384.5 93.2h0M376.9 132.4h0M372.0 164.3h0M369.6 168.1h0M384.8 149.9h0M377.6 99.6h0M376.7 131.1h0M381.2 120.5h0M383.9 83.2h0M379.0 130.6h0M376.8 165.1h0M370.7 151.7h0M375.6 164.3h0M379.7 165.0h0M386.6 158.6h0M377.6 130.0h0M375.2 152.5h0M386.1 164.4h0M380.2 104.1h0M370.5 133.4h0M371.0 144.5h0M379.0 158.9h0M372.2 165.1h0M377.0 125.3h0M370.8 108.4h0M385.6 167.4h0M381.0 137.6h0M370.6 143.0h0M377.2 86.8h0M370.6 105.1h0M378.2 161.7h0M384.1 163.2h0M369.3 162.5h0M373.0 165.3h0M384.5 96.0h0M375.9 131.5h0M383.6 168.9h0M371.6 166.3h0M384.2 152.4h0M369.0 164.8h0M368.0 105.6h0M370.5 124.9h0M371.7 160.3h0M385.3 152.2h0M378.0 113.7h0M371.1 167.5h0M382.9 160.5h0M368.3 103.5h0M386.0 158.3h0M369.3 165.6h0M384.7 162.2h0M381.5 162.4h0M380.3 166.5h0M379.1 165.1h0M384.5 124.1h0M386.5 152.4h0M385.8 154.1h0M386.8 104.0h0M373.0 166.9h0M384.6 128.8h0M382.4 162.8h0M367.9 150.0h0M367.9 167.5h0M385.5 163.7h0M384.2 130.5h0M375.3 103.4h0M380.2 128.8h0M369.6 129.2h0M370.8 108.5h0M380.9 151.8h0M383.5 123.8h0M373.5 159.5h0M368.7 125.6h0M373.8 110.1h0M373.7 154.9h0M371.1 127.0h0M369.1 166.0h0M379.6 166.2h0M367.9 81.1h0M374.6 150.9h0M374.3 159.7h0M375.9 166.8h0M368.9 162.2h0M385.4 166.0h0M386.5 126.5h0M381.8 116.5h0M369.9 163.7h0M380.8 83.6h0M370.5 126.0h0M378.0 118.8h0M371.8 167.5h0M379.6 91.2h0M369.3 167.4h0M374.5 123.3h0M370.4 149.9h0M377.2 164.9h0M371.3 152.9h0M376.3 165.6h0M369.0 166.7h0M368.8 150.2h0M382.4 124.9h0M385.9 127.8h0M375.8 165.2h0M369.2 153.6h0M368.6 111.6h0M380.6 84.1h0M368.9 83.3h0M386.1 108.0h0M378.8 120.3h0M377.0 133.6h0M378.8 112.3h0M375.5 143.8h0M378.9 135.7h0M382.5 97.7h0M381.5 158.5h0M376.9 163.6h0M381.6 146.0h0M370.6 167.9h0M379.6 164.8h0M378.4 165.1h0M375.9 109.2h0M379.1 163.8h0M376.1 153.8h0M380.8 164.9h0M386.5 157.7h0M380.8 148.9h0M386.5 101.5h0M385.4 172.3h0M385.8 167.0h0M372.7 119.2h0M378.5 126.8h0M379.7 151.4h0M380.3 151.2h0M367.9 128.9h0M381.2 134.5h0M378.0 110.9h0M370.6 144.5h0M384.8 164.5h0M384.9 168.2h0M375.1 166.4h0M368.4 136.2h0M383.0 151.7h0M371.1 155.4h0M385.8 168.3h0M380.5 167.0h0M373.1 134.7h0M380.8 142.8h0M372.4 164.2h0M371.7 101.6h0M376.4 149.3h0M384.1 120.3h0M379.7 121.8h0M369.5 144.5h0M376.0 141.1h0M374.9 122.7h0M375.1 166.4h0M377.2 114.6h0M368.9 131.6h0M372.9 163.8h0M370.1 149.6h0M374.1 96.5h0M372.4 179.4h0M379.5 148.5h0M369.4 116.4h0M384.1 90.4h0M380.1 147.2h0M370.6 159.9h0M386.1 176.2h0M376.3 108.3h0M376.9 138.3h0M369.7 129.5h0M371.1 122.9h0M379.6 139.4h0M379.5 112.8h0M383.3 164.9h0M378.5 156.0h0M386.4 117.9h0M376.4 167.0h0M383.9 159.4h0M385.1 154.6h0M375.8 118.6h0M380.7 121.9h0M373.4 166.6h0M383.6 166.0h0M373.5 154.7h0M386.5 126.6h0M380.9 165.8h0M382.8 163.7h0M382.4 123.7h0M370.1 140.2h0M369.9 112.4h0M386.0 140.5h0M376.9 162.1h0M380.1 130.8h0M375.7 158.9h0M381.4 107.7h0M380.7 165.0h0M379.2 112.4h0M372.8 107.9h0M384.2 160.9h0M370.2 162.8h0M384.6 165.6h0M371.6 115.5h0M371.6 124.1h0M368.0 136.3h0M382.1 140.9h0M379.7 148.2h0M376.5 166.6h0M374.9 119.7h0M379.2 123.9h0M381.8 117.1h0M383.4 160.0h0M375.9 116.2h0M375.7 126.5h0M374.0 140.9h0M373.7 150.9h0M379.4 107.9h0M377.7 137.1h0M371.1 150.7h0M376.3 133.8h0M377.5 157.7h0M380.1 166.2h0M374.8 119.8h0M386.2 165.3h0M373.9 136.5h0M378.7 167.4h0M384.9 163.9h0M373.1 126.7h0M369.4 154.1h0M378.4 163.8h0M375.9 109.1h0M372.7 92.4h0M383.7 167.0h0M373.1 155.8h0M379.4 151.9h0M369.8 163.9h0M380.3 138.8h0M370.8 142.5h0M376.0 111.5h0M384.6 144.4h0M377.2 166.1h0M379.9 153.1h0M372.4 163.8h0M378.4 163.7h0M385.4 160.2h0M381.6 110.4h0M383.5 154.1h0M382.7 141.2h0M370.1 94.3h0M385.0 122.1h0M374.3 154.2h0M384.8 169.2h0M368.0 164.2h0M377.6 167.4h0M385.0 130.1h0M369.7 132.0h0M384.4 100.2h0M384.9 117.2h0M380.8 114.2h0M368.2 121.5h0M367.9 80.6h0M378.6 153.0h0M374.2 147.6h0M373.8 147.8h0M368.4 132.3h0M380.2 157.7h0M368.2 151.2h0M385.4 151.0h0M381.7 146.4h0M386.4 155.5h0M383.2 146.1h0M383.3 135.9h0M385.4 154.9h0M384.9 81.6h0M374.7 105.5h0M384.8 158.0h0M379.0 115.2h0M368.0 142.6h0M368.9 142.7h0M372.0 146.0h0M370.8 137.8h0M382.4 158.7h0M370.3 140.6h0M368.2 83.3h0M381.4 153.7h0M380.2 140.4h0M369.6 106.5h0M372.6 147.8h0M376.6 138.6h0M383.0 135.6h0M375.8 148.5h0M371.0 142.9h0M375.2 104.2h0M383.8 148.7h0M386.7 114.4h0M377.9 127.5h0M382.6 152.7h0M368.0 136.4h0M380.5 142.3h0M383.6 156.9h0M384.6 124.2h0M380.4 160.7h0M374.3 142.5h0M369.5 160.4h0M373.0 114.1h0M372.6 157.6h0M377.2 142.9h0M369.3 110.9h0M383.7 157.8h0M369.0 118.6h0M386.7 151.8h0M373.8 85.9h0M374.1 123.9h0M384.8 168.2h0M386.7 166.3h0M384.0 151.5h0M384.9 150.0h0M371.1 123.7h0M371.0 171.3h0M369.9 137.9h0M375.1 167.9h0M373.6 168.5h0M372.1 135.4h0M372.8 118.9h0M375.5 156.5h0M368.7 112.7h0M369.6 116.8h0M378.4 90.3h0M377.6 123.3h0M380.8 131.4h0M371.5 165.7h0M372.0 105.1h0M368.8 163.3h0M382.8 127.0h0M384.2 169.0h0M377.2 166.6h0M372.6 147.2h0M377.1 158.9h0M372.6 119.7h0M386.4 163.6h0M369.8 162.3h0M385.4 99.8h0M377.9 164.0h0M373.9 110.2h0M367.9 157.9h0M379.3 166.2h0M384.2 148.9h0M373.0 151.8h0M370.5 154.8h0M380.9 149.8h0M378.9 164.7h0M381.0 76.7h0M380.1 159.2h0M369.9 166.8h0M381.2 117.0h0M378.5 136.0h0M383.7 157.3h0M383.5 147.1h0M374.2 124.9h0M374.4 116.3h0M383.8 136.9h0M379.6 94.8h0M370.9 164.4h0M373.6 114.7h0M378.8 165.7h0M381.9 153.4h0M377.5 164.9h0M371.1 94.0h0M375.3 155.1h0M370.5 166.2h0M378.2 159.4h0M379.9 166.0h0M373.5 156.0h0M381.9 112.6h0M372.7 151.8h0M380.1 147.7h0M380.4 122.2h0M370.8 179.4h0M378.2 77.6h0M370.0 147.3h0M383.5 119.4h0M373.0 159.7h0M373.6 167.9h0M376.3 147.4h0M369.7 176.7h0M383.6 163.5h0M384.2 92.0h0M374.7 149.0h0M382.2 107.8h0M381.1 133.8h0M377.8 98.3h0M381.7 162.8h0M372.1 100.0h0M382.3 155.4h0M368.8 117.9h0M372.4 117.2h0M368.7 166.3h0M376.4 150.9h0M381.3 164.7h0M385.4 164.7h0M374.1 76.3h0M369.1 171.8h0M374.5 145.1h0M375.6 120.2h0M370.9 162.7h0M382.3 79.7h0M372.0 130.3h0M382.2 152.0h0M373.1 133.8h0M383.2 157.3h0M380.1 168.5h0M377.6 127.8h0M385.4 143.3h0M382.1 158.9h0M381.8 126.1h0M381.0 168.1h0M370.3 155.9h0M372.8 105.4h0M373.6 150.7h0M373.3 166.7h0M379.9 137.2h0M370.7 123.5h0M383.6 161.8h0M381.8 146.2h0M375.8 150.9h0M383.8 169.1h0M381.4 106.1h0M379.8 164.0h0M373.2 130.4h0M384.7 155.8h0M379.4 162.4h0M368.2 168.7h0M373.6 168.8h0M378.8 100.3h0M370.6 149.6h0M370.3 142.8h0M374.1 168.1h0M382.7 162.7h0M380.0 142.2h0M375.3 161.5h0M373.3 166.7h0M380.5 79.1h0M379.8 158.1h0M383.2 104.7h0M370.8 146.1h0M369.1 168.5h0M382.6 115.8h0M381.5 128.3h0M378.8 165.9h0M368.4 176.5h0M367.9 136.5h0M374.5 153.7h0M374.5 110.5h0M380.7 164.2h0M386.4 165.5h0M386.6 102.0h0M371.2 136.6h0M381.4 164.3h0M381.2 152.2h0M378.6 164.1h0M373.2 112.1h0M370.5 114.3h0M368.6 131.9h0M369.2 163.3h0M377.9 164.4h0M383.3 116.7h0M372.5 104.1h0M375.9 98.4h0M381.5 131.8h0M373.1 161.9h0M374.3 152.4h0M384.3 125.5h0M368.7 132.3h0M382.4 118.2h0M371.4 83.7h0M375.3 99.4h0M371.6 143.1h0M375.8 163.1h0M372.7 142.2h0M375.9 143.3h0M380.1 163.9h0M368.5 159.1h0M375.8 163.4h0M369.1 136.8h0M369.3 108.5h0M368.3 96.3h0M374.2 159.8h0M369.5 131.0h0M383.4 164.2h0M368.9 102.9h0M374.3 167.1h0M380.7 156.7h0M379.9 97.3h0M372.0 158.4h0M369.1 168.2h0M384.2 111.3h0M372.0 156.2h0M372.2 111.3h0M384.7 154.2h0M374.5 171.1h0M376.3 164.4h0M386.0 99.0h0M383.9 122.9h0M381.8 155.8h0M385.0 125.3h0M383.9 156.5h0M378.9 164.6h0M381.9 95.9h0M371.2 122.5h0M378.5 156.1h0M372.3 117.4h0M382.0 144.6h0M372.7 129.5h0M374.6 167.1h0M378.5 164.5h0M368.7 146.0h0M385.2 98.7h0M373.0 164.5h0M368.4 93.6h0M374.7 165.3h0M368.9 113.3h0M382.2 145.8h0M376.2 135.8h0M381.3 133.4h0M372.9 149.6h0M383.1 135.3h0M380.0 167.2h0M370.9 153.4h0M369.1 158.6h0M378.4 115.5h0M384.3 152.4h0M375.3 114.9h0M379.0 169.1h0M379.3 163.6h0M383.0 167.1h0M371.3 112.4h0M369.6 115.9h0M378.5 165.8h0M375.3 163.4h0M382.2 156.2h0M384.6 120.6h0M372.7 163.4h0M375.4 114.6h0M377.4 166.6h0M379.8 163.4h0M370.9 154.2h0M384.7 123.2h0M371.8 165.5h0M370.9 148.7h0M376.1 92.6h0M371.6 167.9h0M372.6 163.9h0M384.5 137.7h0M378.2 154.7h0M377.2 93.8h0M384.4 155.6h0M375.7 130.6h0M372.5 116.4h0M372.2 167.1h0M384.1 158.4h0M369.2 162.9h0M383.0 166.8h0M385.9 148.5h0M370.5 158.3h0M382.1 164.8h0M383.8 148.3h0M377.1 95.8h0M383.9 167.4h0M378.7 109.2h0M382.7 145.4h0M368.2 156.9h0M376.7 93.8h0M384.6 158.0h0M376.2 105.9h0M386.8 124.1h0M377.4 146.9h0M370.3 98.1h0M371.7 128.1h0M382.7 158.9h0M385.2 167.8h0M385.4 126.5h0M379.1 113.0h0M369.6 154.4h0M382.6 104.3h0M373.3 159.1h0M374.1 91.7h0M372.2 165.1h0M383.2 127.6h0M380.7 162.1h0M380.5 138.6h0M382.6 165.3h0M369.8 167.0h0M385.0 138.3h0M384.0 129.4h0M380.5 112.1h0M386.2 101.6h0M370.6 114.0h0M376.3 161.0h0M376.6 143.9h0M380.0 108.3h0M386.6 101.9h0M373.3 168.8h0M369.7 83.7h0M371.1 155.6h0M376.5 131.9h0M386.2 110.7h0M373.7 109.0h0M386.7 134.5h0M376.1 153.2h0M378.6 80.5h0M378.4 175.8h0M368.5 166.2h0M382.1 109.6h0M385.6 154.3h0M368.7 163.9h0M377.1 168.4h0M380.4 162.7h0M376.8 90.8h0M370.0 114.4h0M371.8 126.1h0M378.1 111.9h0M375.2 156.8h0M381.6 163.6h0M370.5 149.5h0M375.0 161.5h0M370.9 161.5h0M381.4 143.6h0M380.9 178.4h0M377.3 164.4h0M373.4 117.0h0M369.5 113.6h0M367.8 159.9h0M381.0 165.4h0M382.4 101.2h0M379.3 163.9h0M373.0 135.1h0M384.2 168.2h0M374.3 100.0h0M382.9 166.9h0M368.7 164.5h0M371.6 80.2h0M380.3 163.4h0M380.1 126.3h0M384.9 165.2h0M371.7 156.4h0M372.1 119.1h0M372.8 153.1h0M382.2 150.1h0M386.8 166.3h0M383.9 148.4h0M374.9 151.5h0M369.1 142.1h0M370.1 164.4h0M372.8 164.9h0M385.3 165.1h0M372.7 168.7h0M379.0 168.1h0M378.3 108.9h0M382.7 155.1h0M381.4 138.7h0M372.7 125.9h0M373.5 168.0h0M381.9 164.2h0M369.0 113.3h0M378.0 140.8h0M372.3 151.8h0M383.0 78.4h0M383.5 121.2h0M384.7 101.4h0M380.5 119.9h0M373.9 169.5h0" stroke="#000" stroke-width="1.24" stroke-linecap="round"/>
<line x1="419.7" y1="66.5" x2="419.7" y2="191.8" stroke="#333" stroke-width="0.8"/>
<rect x="403.8" y="127.5" width="31.8" height="37.8" fill="#a8c6f5" stroke="#333" stroke-width="0.8"/>
<line x1="403.8" y1="154.1" x2="435.6" y2="154.1" stroke="#333" stroke-width="1.5"/>
<path d="M423.2 164.9h0M426.3 134.5h0M414.6 166.2h0M414.5 166.9h0M412.7 129.2h0M414.3 150.8h0M418.4 163.3h0M421.8 116.6h0M415.4 182.4h0M426.8 166.9h0M425.5 120.1h0M424.4 118.0h0M425.3 93.9h0M426.3 165.0h0M424.5 154.7h0M418.4 147.3h0M418.4 160.2h0M412.4 162.4h0M425.4 118.8h0M423.3 74.4h0M424.4 148.3h0M423.1 167.5h0M413.6 156.6h0M420.1 166.0h0M418.9 165.1h0M417.7 142.9h0M419.5 167.7h0M414.7 165.5h0M417.2 166.1h0M422.6 170.3h0M417.6 92.6h0M427.9 130.8h0M412.9 171.6h0M426.1 120.5h0M413.2 139.3h0M426.7 158.0h0M425.5 110.5h0M426.4 166.0h0M423.8 159.7h0M428.7 167.4h0M423.9 143.1h0M421.9 165.9h0M421.4 145.5h0M424.0 160.4h0M415.8 161.2h0M423.2 166.6h0M414.5 168.5h0M422.4 170.4h0M420.5 148.1h0M418.6 171.8h0M412.0 161.1h0M429.2 189.9h0M415.9 168.1h0M421.5 164.4h0M419.1 170.1h0M426.1 160.1h0M416.6 188.1h0M428.6 154.3h0M419.2 152.3h0M415.8 136.1h0M419.7 172.1h0M424.2 105.7h0M423.2 164.9h0M415.1 115.2h0M417.0 144.7h0M415.7 165.4h0M416.9 166.0h0M417.8 171.9h0M424.6 169.6h0M410.3 143.5h0M413.8 124.5h0M420.7 155.0h0M415.7 161.6h0M412.8 157.0h0M412.3 113.3h0M414.3 118.3h0M417.6 162.9h0M412.6 172.1h0M418.6 160.3h0M429.0 111.7h0M420.4 171.6h0M425.5 167.7h0M427.2 162.0h0M412.6 149.3h0M414.9 188.6h0M413.0 112.8h0M417.3 155.0h0M425.4 161.0h0M423.8 165.8h0M428.0 136.4h0M427.7 152.0h0M421.1 156.8h0M426.2 141.3h0M412.4 109.1h0M420.3 167.4h0M420.3 119.7h0M428.5 163.1h0M411.9 163.1h0M410.8 171.2h0M412.2 130.0h0M426.7 131.1h0M425.6 56.7h0M422.0 157.5h0M423.8 117.1h0M424.7 163.5h0M416.1 168.6h0M419.2 64.1h0M425.1 164.5h0M410.3 156.3h0M415.1 172.7h0M428.0 161.6h0M426.4 165.3h0M418.1 114.6h0M424.7 68.0h0M415.2 154.8h0M427.3 155.8h0M413.9 150.2h0M419.2 159.7h0M421.1 166.2h0M425.8 172.0h0M412.2 166.4h0M416.0 144.7h0M419.6 110.7h0M426.1 151.8h0M424.4 165.8h0M418.3 138.3h0M410.6 90.9h0M412.9 113.5h0M413.1 116.3h0M419.7 171.2h0M415.1 101.0h0M421.8 154.7h0M420.3 165.4h0M418.7 185.6h0M416.7 126.3h0M411.2 165.7h0M418.3 132.8h0M424.3 104.6h0M427.6 169.0h0M425.7 99.2h0M423.1 117.4h0M422.9 130.6h0M415.1 144.5h0M424.0 167.5h0M411.3 143.8h0M421.8 139.0h0M424.9 152.9h0M417.4 111.8h0M419.7 119.4h0M418.1 146.5h0M418.6 98.8h0M416.6 93.0h0M427.5 135.8h0M417.3 134.6h0M419.3 170.1h0M425.7 157.9h0M428.9 123.2h0M418.0 156.4h0M424.4 147.3h0M414.3 170.0h0M416.4 167.0h0M428.6 163.0h0M427.9 165.9h0M414.1 163.3h0M411.9 84.0h0M412.6 168.5h0M417.5 170.5h0M413.2 165.8h0M423.5 181.6h0M414.6 171.3h0M427.0 147.1h0M423.7 137.2h0M425.3 132.8h0M413.1 114.7h0M422.0 171.1h0M420.1 152.1h0M413.5 123.5h0M418.3 132.2h0M414.8 157.6h0M421.2 163.9h0M427.4 148.4h0M423.8 163.9h0M422.6 169.2h0M426.5 166.6h0M415.0 89.1h0M414.4 120.3h0M412.2 162.8h0M412.2 156.7h0M421.1 132.4h0M423.7 157.7h0M416.5 165.5h0M410.2 160.2h0M411.9 110.4h0M425.4 169.0h0M418.7 119.0h0M412.8 157.6h0M420.1 191.1h0M413.1 165.4h0M410.6 107.1h0M424.5 160.3h0M412.2 127.9h0M420.9 128.4h0M428.1 140.3h0M421.6 121.5h0M419.5 125.0h0M425.7 148.6h0M417.4 141.4h0M425.2 178.5h0M418.4 161.2h0M420.8 163.6h0M426.0 158.5h0M420.8 144.1h0M418.6 123.4h0M424.5 150.2h0M424.3 130.4h0M420.8 109.9h0M413.8 148.2h0M418.5 165.4h0M427.3 154.2h0M416.8 171.6h0M418.9 128.6h0M413.2 115.2h0M418.4 124.9h0M411.3 146.9h0M425.5 158.4h0M420.9 129.1h0M410.9 157.5h0M418.7 132.9h0M421.8 130.3h0M426.8 158.5h0M428.4 167.6h0M428.6 169.7h0M418.7 144.9h0M419.9 98.0h0M411.3 153.2h0M422.3 121.6h0M412.4 165.4h0M428.0 157.7h0M419.0 112.5h0M425.9 172.0h0M424.1 166.0h0M428.5 154.1h0M425.3 166.9h0M410.5 130.7h0M415.8 147.1h0M428.5 133.3h0M419.6 136.4h0M414.9 143.1h0M412.4 155.5h0M411.4 130.6h0M413.6 151.2h0M411.3 147.4h0M422.1 173.9h0M427.1 130.8h0M429.1 135.3h0M422.1 167.1h0M413.5 139.6h0M414.8 167.2h0M425.2 151.6h0M421.1 131.7h0M423.9 170.1h0M413.4 152.8h0M414.9 141.5h0M418.8 162.6h0M412.2 127.4h0M414.7 156.7h0M425.7 135.9h0M423.9 164.6h0M414.3 155.7h0M420.4 164.1h0M421.6 120.4h0M425.0 191.5h0M418.2 145.6h0M418.6 165.4h0M415.4 133.7h0M426.9 167.3h0M411.5 156.7h0M412.3 110.0h0M422.0 160.1h0M427.3 136.6h0M421.0 166.4h0M419.1 111.4h0M419.1 131.3h0M428.4 131.1h0M424.2 161.3h0M427.1 161.0h0M426.5 125.8h0M421.5 112.1h0M413.2 93.6h0M411.6 146.2h0M423.3 145.3h0M425.6 163.7h0M414.0 157.8h0M421.2 166.1h0M411.1 159.3h0M428.7 162.8h0M423.2 155.3h0M411.6 157.4h0M414.2 142.2h0M421.9 168.0h0M410.4 135.4h0M410.6 94.9h0M416.4 166.5h0M424.3 121.6h0M418.4 128.2h0M412.7 105.2h0M411.2 90.4h0M424.5 166.7h0M423.0 125.1h0M426.7 165.3h0M414.1 152.5h0M429.0 169.2h0M414.4 171.1h0M427.2 160.5h0M426.2 117.4h0M410.4 140.2h0M413.8 128.8h0M428.6 94.5h0M424.1 170.6h0M412.2 165.4h0M418.6 111.9h0M420.8 163.3h0M418.3 170.7h0M426.6 138.2h0M427.2 168.0h0M414.1 168.8h0M413.4 161.5h0M422.7 169.5h0M413.8 158.6h0M412.6 152.5h0M428.5 134.8h0M418.2 155.6h0M417.2 158.6h0M413.6 158.0h0M423.3 163.2h0M411.5 155.0h0M426.2 167.0h0M426.0 160.7h0M422.1 141.7h0M421.2 160.6h0M420.0 157.9h0M412.2 95.3h0M427.4 165.8h0M425.6 100.6h0M412.2 113.7h0M412.6 130.9h0M417.7 115.3h0M420.1 154.6h0M421.0 165.9h0M418.7 113.5h0M417.2 156.8h0M415.6 166.2h0M428.5 116.6h0M415.7 159.7h0M426.6 161.4h0M413.7 164.7h0M411.8 162.4h0M414.6 166.9h0M427.9 138.0h0M415.8 164.9h0M410.8 144.9h0M421.1 169.5h0M416.9 155.7h0M410.6 157.9h0M413.6 164.8h0M411.5 165.4h0M410.5 119.3h0M413.5 157.9h0M424.6 166.0h0M428.5 90.3h0M420.5 161.6h0M411.7 157.2h0M421.8 157.5h0M425.1 158.6h0M415.8 156.5h0M421.0 109.4h0M427.4 165.0h0M421.7 155.0h0M426.5 155.5h0M418.6 129.5h0M424.9 160.1h0M421.6 116.6h0M420.2 112.2h0M416.2 157.9h0M413.1 164.4h0M420.7 101.8h0M414.2 169.8h0M425.5 157.5h0M424.6 114.3h0M418.3 163.4h0M417.6 94.5h0M411.2 138.2h0M419.8 155.0h0M428.5 105.9h0M416.5 127.2h0M427.6 112.3h0M418.3 170.1h0M416.0 148.7h0M425.1 165.4h0M420.7 165.9h0M419.0 178.8h0M410.3 89.4h0M427.3 168.7h0M419.8 104.4h0M415.9 163.3h0M421.2 129.3h0M423.3 156.5h0M417.6 169.1h0M427.5 111.5h0M425.1 154.7h0M420.1 110.7h0M412.2 167.1h0M416.7 135.9h0M411.0 151.3h0M415.5 94.4h0M422.0 139.8h0M414.2 160.5h0M416.4 147.5h0M413.5 170.1h0M427.3 171.8h0M427.7 166.0h0M428.4 141.5h0M415.0 155.5h0M422.0 169.8h0M423.1 133.4h0M412.1 105.8h0M423.6 138.6h0M415.0 96.3h0M410.7 99.4h0M416.4 144.6h0M413.5 152.1h0M416.8 159.3h0M417.9 155.7h0M413.4 165.8h0M429.0 155.5h0M413.0 115.2h0M413.0 139.8h0M429.1 161.9h0M412.1 161.3h0M421.4 147.6h0M428.2 153.0h0M417.1 152.7h0M421.2 165.9h0M419.8 128.1h0M415.0 159.0h0M429.0 115.6h0M423.7 145.0h0M413.2 161.9h0M421.9 171.0h0M423.3 103.6h0M426.5 135.7h0M418.3 158.0h0M426.0 164.8h0M420.2 133.9h0M427.5 123.9h0M414.4 171.5h0M423.8 155.5h0M418.6 165.4h0M415.8 136.7h0M411.3 136.1h0M422.3 158.0h0M419.9 113.3h0M422.8 136.6h0M418.8 138.4h0M412.6 162.3h0M424.9 110.4h0M424.5 138.0h0M413.6 162.4h0M419.1 150.7h0M426.8 138.3h0M417.3 158.9h0M427.0 132.3h0M421.5 147.1h0M427.7 109.8h0M428.7 171.5h0M420.7 169.3h0M428.8 154.1h0M411.0 165.5h0M418.9 91.1h0M418.3 156.0h0M410.8 164.1h0M414.3 148.1h0M429.1 154.1h0M416.1 76.3h0M412.5 161.5h0M413.6 142.7h0M427.6 167.9h0M427.1 147.9h0M413.6 165.8h0M423.3 145.8h0M419.7 166.4h0M419.7 147.5h0M418.7 162.4h0M412.1 168.6h0M426.0 170.9h0M423.0 165.3h0M427.0 168.4h0M425.5 173.2h0M427.5 150.8h0M410.4 110.1h0M414.9 171.3h0M426.6 171.6h0M423.0 167.1h0M423.5 95.1h0M422.5 65.8h0M428.7 159.1h0M420.7 165.8h0M420.6 157.9h0M428.4 163.1h0M423.5 69.7h0M428.3 154.2h0M411.1 94.5h0M412.3 110.7h0M415.0 169.4h0M419.4 159.9h0M413.0 92.5h0M419.8 138.5h0M429.1 167.9h0M416.8 104.1h0M418.8 112.5h0M427.8 135.7h0M417.1 139.3h0M419.1 171.2h0M415.4 145.7h0M410.5 146.0h0M419.3 165.1h0M423.6 154.9h0M415.5 165.6h0M415.6 129.4h0M422.0 166.8h0M421.4 160.8h0M428.6 87.9h0M428.7 122.4h0M417.0 122.2h0M412.6 98.8h0M419.8 165.9h0M421.7 168.0h0M414.2 149.3h0M411.8 128.2h0M415.4 154.6h0M412.9 97.4h0M423.8 159.4h0M425.9 162.9h0M411.6 168.5h0M420.8 183.4h0M420.4 155.0h0M426.9 155.3h0M413.0 165.8h0M426.0 165.3h0M412.3 119.9h0M429.0 191.2h0M415.4 88.1h0M411.1 150.7h0M413.5 153.1h0M413.2 134.7h0M416.5 147.2h0M428.3 154.9h0M428.7 151.6h0M414.5 130.7h0M425.7 165.1h0M412.9 124.2h0M415.9 120.1h0M427.1 147.0h0M413.5 103.3h0M415.3 167.1h0M428.5 142.9h0M424.7 137.8h0M419.2 118.5h0M425.4 159.6h0M427.0 141.3h0M419.0 62.0h0M412.6 161.1h0M416.2 145.1h0M419.8 162.4h0M423.1 129.8h0M422.6 155.9h0M427.6 140.5h0M426.3 134.6h0M426.4 165.4h0M425.7 187.9h0M421.8 182.3h0M413.3 164.2h0M412.8 128.3h0M411.8 134.9h0M417.7 165.9h0M422.7 146.6h0M426.7 160.4h0M413.9 173.3h0M421.8 158.9h0M427.1 137.7h0M422.4 160.8h0M413.2 133.9h0M418.6 160.0h0M420.3 143.5h0M414.1 167.3h0M411.9 161.8h0M427.2 124.9h0M414.4 129.2h0M410.8 144.8h0M415.0 165.9h0M421.3 143.7h0M413.3 149.7h0M424.4 153.9h0M417.2 112.2h0M426.7 156.4h0M421.7 171.5h0M425.5 168.9h0M411.6 135.4h0M428.1 171.6h0M421.2 162.7h0M417.5 145.6h0M424.0 169.1h0M418.3 161.5h0M428.0 121.1h0M416.5 163.7h0M418.8 124.4h0M417.3 109.7h0M415.6 171.1h0M421.2 109.0h0M425.8 83.8h0M413.6 134.9h0M410.6 157.9h0M414.4 161.5h0M413.2 97.5h0M410.6 161.0h0M423.4 166.7h0M419.8 158.4h0M423.4 118.7h0M424.4 165.8h0M421.4 134.5h0M427.6 154.0h0M411.4 143.5h0M422.7 116.4h0M424.9 164.5h0M424.1 99.3h0M425.9 155.1h0M411.2 169.9h0M420.0 158.4h0M422.7 138.9h0M417.3 152.2h0M420.8 129.3h0M421.2 165.9h0M425.3 156.0h0M428.9 132.6h0M419.9 125.8h0M415.8 136.0h0M429.0 148.4h0M418.3 168.1h0M423.8 157.2h0M423.2 166.2h0M428.5 168.5h0M422.5 169.9h0M420.7 127.7h0M417.1 164.4h0M418.9 109.7h0M428.3 147.5h0M425.7 154.8h0M426.0 143.5h0M412.8 141.0h0M415.4 165.6h0M421.4 165.7h0M417.1 157.8h0M428.9 178.7h0M414.2 154.8h0M411.9 136.8h0M428.1 167.0h0M417.0 136.3h0M424.0 167.5h0M416.4 165.4h0M422.2 163.9h0M411.2 165.4h0M420.3 115.2h0M411.4 167.9h0M419.9 105.3h0M427.3 148.8h0M412.2 176.4h0M423.5 165.9h0M420.9 168.4h0M417.8 122.1h0M411.0 136.5h0M417.3 154.9h0M417.7 135.5h0M427.3 137.0h0M425.6 99.1h0M428.5 132.2h0M410.6 157.2h0M417.0 120.7h0M428.2 161.5h0M412.7 158.6h0M410.3 107.2h0M423.5 171.2h0M423.9 166.4h0M415.7 189.7h0M422.1 158.8h0M423.1 128.1h0M426.4 166.1h0M418.6 171.1h0M424.8 171.3h0M418.6 155.4h0M414.8 98.0h0M423.4 137.7h0M424.8 170.4h0M424.1 161.2h0M416.6 127.1h0M418.0 158.8h0M421.0 169.0h0M428.4 130.1h0M420.6 156.6h0M424.7 139.2h0M428.4 136.7h0M428.5 116.1h0M420.6 156.7h0M420.0 166.5h0M417.0 152.8h0M426.9 98.9h0M415.9 118.8h0M426.5 145.5h0M421.3 159.0h0M428.1 166.1h0M418.7 146.4h0M415.3 113.9h0M418.0 150.8h0M419.7 109.1h0M425.8 95.0h0M421.3 168.5h0M413.1 154.5h0M425.7 111.8h0M419.5 87.0h0M422.6 167.0h0M415.3 116.6h0M419.4 126.4h0M428.9 159.2h0M428.6 133.0h0M425.9 124.4h0M424.4 165.8h0M424.8 169.1h0M417.8 134.1h0M428.5 145.4h0M415.8 134.6h0M425.0 89.6h0M418.1 162.9h0M418.6 161.1h0M417.4 116.5h0M416.0 95.8h0M415.8 160.6h0M412.3 122.8h0M425.6 166.7h0M413.1 128.1h0M411.3 157.5h0M426.9 115.7h0M425.1 171.8h0M428.9 165.3h0M428.2 166.7h0M420.7 163.3h0M425.3 148.9h0M425.1 160.7h0M422.7 121.3h0M418.8 171.2h0M429.1 165.7h0M427.0 157.7h0M415.1 157.8h0M423.8 166.2h0M419.2 169.0h0M428.3 150.9h0M411.5 117.0h0M418.3 160.5h0M412.2 124.3h0M415.7 133.5h0M417.1 142.8h0M426.4 166.5h0M417.0 116.4h0M414.2 159.8h0M418.1 160.8h0M427.7 168.1h0M415.1 156.6h0M413.3 164.8h0M418.1 155.3h0M416.4 122.1h0M413.4 165.8h0M413.2 131.9h0M411.8 166.7h0M416.5 149.5h0M417.1 128.0h0M414.8 115.8h0M424.9 159.5h0M425.5 112.6h0M419.5 135.0h0M427.8 157.4h0M418.0 161.5h0M420.6 134.3h0M416.5 106.7h0M424.4 118.0h0M427.6 167.4h0M427.9 132.9h0M426.9 151.5h0M427.3 150.3h0M413.9 121.1h0M413.3 110.8h0M416.7 153.1h0M415.6 156.8h0M424.2 162.8h0M420.0 158.6h0M413.2 166.8h0M417.9 133.8h0M427.5 146.9h0M415.1 169.5h0M423.3 115.8h0M413.1 120.8h0M426.4 157.2h0M423.7 88.0h0M416.7 88.0h0M427.9 136.4h0M421.8 166.6h0M420.2 162.4h0M418.5 111.3h0M419.9 168.1h0M415.4 144.9h0M415.9 120.8h0M420.8 155.1h0M427.3 174.1h0M415.5 140.8h0M424.8 104.5h0M419.7 143.9h0M414.5 133.9h0M410.6 156.0h0M421.6 171.1h0M426.3 151.1h0M424.3 139.4h0M417.7 136.0h0M413.5 129.8h0M421.9 87.7h0M423.1 156.9h0M415.9 156.7h0M428.5 140.1h0M427.1 144.6h0M428.4 159.0h0M424.6 100.5h0M427.5 169.7h0M418.9 147.2h0M421.2 119.2h0M421.0 117.4h0M428.0 166.4h0M420.0 165.7h0M411.5 165.6h0M417.9 154.3h0M426.0 168.8h0M421.6 147.5h0M416.8 166.7h0M421.8 128.6h0M416.6 158.9h0M419.3 107.5h0M423.0 165.9h0M423.7 139.2h0M418.9 164.4h0M411.0 161.0h0M422.4 155.1h0M427.4 154.1h0M423.3 162.9h0M424.0 118.9h0M428.6 166.7h0M410.8 166.3h0M415.8 144.2h0M413.1 161.4h0M410.9 120.6h0M429.0 162.1h0M423.5 167.8h0M417.0 139.9h0M413.3 140.9h0M426.3 117.5h0M410.9 133.6h0M413.2 161.9h0M410.5 81.5h0M428.2 125.3h0M414.5 100.3h0M412.5 111.7h0M424.4 157.1h0M414.5 156.7h0M417.6 142.3h0M425.8 115.7h0M425.8 169.8h0M414.3 165.8h0M428.1 72.1h0M427.1 146.3h0M415.0 144.1h0M422.8 152.8h0M416.4 168.6h0M422.5 126.0h0M412.8 170.3h0M412.6 83.2h0M424.3 111.2h0M415.4 163.4h0M412.6 159.2h0M429.0 166.2h0M426.1 154.2h0M414.2 121.7h0M425.6 127.9h0M416.9 169.8h0M420.8 159.1h0M418.9 147.7h0M428.8 109.3h0M427.1 155.3h0M427.5 165.5h0M423.9 171.5h0M423.3 144.9h0M422.6 163.2h0M414.5 156.0h0M422.8 157.0h0M426.8 70.8h0M419.1 133.3h0M414.7 133.3h0M425.8 160.0h0M411.3 161.9h0M410.8 171.2h0M411.2 130.7h0M418.6 118.8h0M417.3 152.7h0M424.1 127.7h0M420.6 137.7h0M420.8 164.4h0M419.9 156.6h0M420.7 87.5h0M419.3 119.3h0M426.8 157.3h0M424.8 165.4h0M414.7 130.2h0M426.8 166.4h0M418.8 107.4h0M414.2 166.2h0M414.6 147.3h0M422.5 171.1h0M411.6 110.4h0M410.9 98.6h0M412.8 166.0h0M415.9 155.6h0M414.3 154.8h0M423.7 152.7h0M414.2 160.1h0M423.7 132.0h0M429.1 127.8h0M421.4 160.7h0M418.1 145.0h0M418.5 156.3h0M418.5 158.9h0M422.2 122.8h0M427.3 109.4h0M414.8 162.4h0M427.5 151.4h0M417.3 167.5h0M412.0 154.4h0M426.4 112.8h0" stroke="#000" stroke-width="1.24" stroke-linecap="round"/>
<line x1="335.6" y1="199.7" x2="335.6" y2="202.5" stroke="#000" stroke-width="0.8"/>
<text x="335.6" y="216.0" font-size="12" text-anchor="middle" stroke="#000" stroke-width="0.25">Veh</text>
<line x1="377.3" y1="199.7" x2="377.3" y2="202.5" stroke="#000" stroke-width="0.8"/>
<text x="377.3" y="216.0" font-size="12" text-anchor="middle" stroke="#000" stroke-width="0.25">ORY</text>
<line x1="419.7" y1="199.7" x2="419.7" y2="202.5" stroke="#000" stroke-width="0.8"/>
<text x="419.7" y="216.0" font-size="12" text-anchor="middle" stroke="#000" stroke-width="0.25">C12</text>
<line x1="335.6" y1="35.2" x2="419.7" y2="35.2" stroke="#444" stroke-width="0.8"/>
<line x1="335.6" y1="35.2" x2="335.6" y2="39.3" stroke="#444" stroke-width="0.8"/>
<line x1="419.7" y1="35.2" x2="419.7" y2="39.3" stroke="#444" stroke-width="0.8"/>
<text x="377.6" y="33.4" font-size="7.9" text-anchor="middle">p &lt; 2.22e−16</text>
<line x1="335.6" y1="52.2" x2="377.3" y2="52.2" stroke="#444" stroke-width="0.8"/>
<line x1="335.6" y1="52.2" x2="335.6" y2="55.8" stroke="#444" stroke-width="0.8"/>
<line x1="377.3" y1="52.2" x2="377.3" y2="55.8" stroke="#444" stroke-width="0.8"/>
<text x="356.5" y="50.2" font-size="7.9" text-anchor="middle">p &lt; 2.22e−16</text>
<text x="469.3" y="15.1" font-size="17" stroke="#000" stroke-width="0.25" font-weight="bold">c</text>
<text x="595.0" y="19.5" font-size="12.6" text-anchor="middle" stroke="#000" stroke-width="0.25">FOXA2 activated genes</text>
<line x1="525.4" y1="23.5" x2="525.4" y2="202.8" stroke="#000" stroke-width="1"/>
<line x1="524.9" y1="202.3" x2="664.0" y2="202.3" stroke="#000" stroke-width="1"/>
<line x1="522.4" y1="32.0" x2="525.4" y2="32.0" stroke="#000" stroke-width="0.8"/>
<text x="520.9" y="36.2" font-size="12.1" text-anchor="end" stroke="#000" stroke-width="0.25">1.0</text>
<line x1="522.4" y1="74.3" x2="525.4" y2="74.3" stroke="#000" stroke-width="0.8"/>
<text x="520.9" y="78.5" font-size="12.1" text-anchor="end" stroke="#000" stroke-width="0.25">0.5</text>
<line x1="522.4" y1="116.6" x2="525.4" y2="116.6" stroke="#000" stroke-width="0.8"/>
<text x="520.9" y="120.8" font-size="12.1" text-anchor="end" stroke="#000" stroke-width="0.25">0.0</text>
<line x1="522.4" y1="158.9" x2="525.4" y2="158.9" stroke="#000" stroke-width="0.8"/>
<text x="520.9" y="163.1" font-size="12.1" text-anchor="end" stroke="#000" stroke-width="0.25">-0.5</text>
<line x1="522.4" y1="201.2" x2="525.4" y2="201.2" stroke="#000" stroke-width="0.8"/>
<text x="520.9" y="205.4" font-size="12.1" text-anchor="end" stroke="#000" stroke-width="0.25">-1.0</text>
<text x="499.5" y="114.0" font-size="12.5" text-anchor="middle" stroke="#000" stroke-width="0.25" transform="rotate(-90 499.5 114.0)">Log<tspan font-size="8.5" dy="3">2</tspan><tspan dy="-3">(CPM)_scale</tspan></text>
<line x1="563.4" y1="40.5" x2="563.4" y2="192.7" stroke="#333" stroke-width="0.8"/>
<rect x="539.5" y="45.5" width="47.8" height="99.8" fill="#f9b5b1" stroke="#333" stroke-width="0.8"/>
<line x1="539.5" y1="70.9" x2="587.3" y2="70.9" stroke="#333" stroke-width="1.5"/>
<path d="M562.9 169.9h0M571.0 155.6h0M556.5 41.5h0M560.0 193.2h0M556.4 59.4h0M551.5 150.0h0M566.4 40.0h0M559.0 193.2h0M560.0 70.9h0M571.7 171.8h0M564.8 180.7h0M563.0 117.9h0M556.5 162.6h0M555.8 41.5h0M570.2 40.0h0M569.4 61.1h0M555.6 182.6h0M573.5 40.0h0M560.4 98.1h0M560.5 40.0h0M576.2 193.2h0M563.2 71.7h0M566.2 64.5h0M566.6 64.0h0M574.5 165.0h0M565.9 116.3h0M571.6 128.4h0M560.1 41.6h0M575.3 48.1h0M576.1 99.4h0M563.2 40.0h0M556.8 108.4h0M571.3 40.0h0M563.0 41.7h0M557.9 40.0h0M554.8 94.8h0M576.0 192.9h0M562.9 42.2h0M569.3 144.2h0M555.9 193.2h0M566.0 40.0h0M565.5 93.8h0M557.6 40.1h0M550.7 41.5h0M565.8 47.3h0M572.5 52.7h0M575.3 60.2h0M553.9 40.0h0M562.0 189.6h0M573.0 176.5h0M558.8 50.8h0M556.1 72.4h0M568.9 169.2h0M551.6 64.2h0M571.0 44.4h0M562.5 193.2h0M568.9 192.8h0M568.5 144.8h0M558.4 126.0h0M558.1 40.0h0M553.0 71.5h0M563.6 58.4h0M568.6 43.2h0M565.0 67.7h0M559.6 192.3h0M576.2 126.2h0M571.6 185.9h0M562.0 42.1h0M561.9 54.9h0M560.5 68.6h0M561.7 100.2h0M568.7 146.1h0M556.5 40.8h0M563.1 105.5h0M562.9 54.0h0M569.0 73.4h0M570.1 40.0h0M572.7 50.2h0M574.2 45.8h0M566.4 105.2h0M550.6 40.0h0M558.5 127.0h0M552.5 103.0h0M574.9 129.3h0M575.3 43.3h0M555.8 45.3h0M557.2 120.4h0M558.8 40.0h0M568.1 144.0h0M565.9 159.9h0M562.5 137.9h0M566.4 89.0h0M557.5 136.1h0M575.4 162.6h0M568.7 193.2h0M563.4 193.2h0M556.6 193.2h0M564.6 193.2h0M573.7 189.9h0M553.9 109.2h0M551.7 41.1h0M560.9 163.7h0M572.3 64.2h0M573.4 40.0h0M573.8 193.2h0M570.1 43.0h0M566.2 162.3h0M562.6 55.4h0M559.6 41.3h0M566.7 130.8h0M563.7 40.0h0M555.3 48.3h0M563.3 139.3h0M567.4 47.9h0M564.4 170.8h0M568.4 97.6h0M571.9 44.1h0M551.5 155.8h0M554.9 115.5h0M563.2 45.1h0M574.0 170.0h0M556.1 48.8h0M574.0 41.3h0M560.5 40.0h0M550.7 40.0h0M566.4 115.3h0M554.6 57.3h0M564.3 40.0h0M564.8 40.0h0M569.6 40.3h0M560.9 40.0h0M564.4 165.7h0M551.1 40.9h0M565.5 93.7h0M553.2 193.2h0M564.0 40.0h0M556.6 40.0h0M567.1 93.5h0M557.0 41.9h0M560.2 92.3h0M562.3 74.1h0M571.8 193.2h0M569.4 59.7h0M560.2 40.0h0M565.5 102.0h0M576.3 61.2h0M571.5 160.4h0M551.8 75.3h0M562.4 109.3h0M566.7 104.3h0M569.9 58.7h0M556.9 109.0h0M555.6 41.4h0M573.6 40.9h0M554.2 192.1h0M557.3 40.0h0M555.8 47.9h0M568.9 71.4h0M567.3 154.7h0M555.4 110.5h0M561.2 175.9h0M573.3 181.3h0M565.9 50.6h0M563.4 87.6h0M566.9 40.0h0M559.4 110.5h0M563.8 42.7h0M570.9 153.3h0M556.2 193.2h0M565.6 60.3h0M571.2 191.5h0M558.9 122.4h0M554.3 155.0h0M572.4 55.1h0M553.4 153.2h0M570.2 98.8h0M552.6 158.9h0M566.0 148.0h0M571.7 189.1h0M567.7 67.8h0M574.1 193.2h0M570.8 113.0h0M570.5 193.2h0M555.1 60.8h0M570.6 40.0h0M564.2 43.9h0M567.5 170.3h0M571.2 103.4h0M558.8 193.2h0M570.0 41.2h0M567.6 174.2h0M556.4 87.8h0M568.4 108.1h0M562.7 55.0h0M563.3 63.9h0M559.0 128.9h0M555.6 163.1h0M556.0 193.2h0M556.4 40.0h0M562.1 51.3h0M557.7 43.9h0M572.0 59.0h0M573.6 47.0h0M554.2 40.0h0M575.5 48.1h0M556.8 40.0h0M575.8 40.0h0M560.7 168.6h0M571.0 55.0h0M569.7 56.3h0M571.8 40.8h0M563.4 40.0h0M567.4 46.6h0M567.7 91.7h0M554.0 131.7h0M552.8 193.2h0M567.0 84.5h0M563.7 185.1h0M561.1 132.4h0M569.3 102.9h0M572.1 184.0h0M557.1 40.0h0M572.4 55.3h0M559.4 177.6h0M571.7 40.0h0M570.8 136.3h0M559.4 193.2h0M551.1 155.7h0M564.8 40.8h0M572.4 40.0h0M552.9 55.1h0M558.4 40.0h0M571.0 144.5h0M569.8 40.0h0M558.3 43.9h0M573.1 90.4h0M574.3 40.0h0M568.4 82.0h0M575.9 41.3h0M574.1 40.0h0M574.0 191.5h0M564.7 169.6h0M551.2 182.1h0M554.1 128.3h0M575.1 53.8h0M561.9 40.0h0M560.8 61.9h0M569.9 88.1h0M556.2 163.7h0M574.1 191.8h0M557.2 171.5h0M564.4 114.7h0M552.5 183.7h0M556.6 159.1h0M567.5 118.3h0M570.5 78.1h0M569.8 47.6h0M570.0 66.0h0M567.9 53.8h0M564.1 40.0h0M557.3 40.0h0M561.4 42.3h0M572.9 66.5h0M566.7 52.4h0M555.7 184.0h0M568.5 65.0h0M570.7 70.6h0M561.6 149.4h0M557.2 95.1h0M561.6 47.1h0M555.5 193.2h0M576.2 48.9h0M563.2 40.0h0M573.6 60.5h0M559.3 193.2h0M551.9 92.1h0M555.2 47.9h0M571.1 120.2h0M565.9 152.0h0M567.9 44.6h0M562.9 190.6h0M566.0 40.0h0M562.5 169.2h0M554.7 193.2h0M562.0 164.1h0M575.4 99.9h0M563.8 117.8h0M553.3 165.7h0M567.4 119.2h0M571.1 64.4h0M560.9 77.1h0M575.8 42.3h0M563.4 67.8h0M553.0 124.4h0M570.2 101.6h0M571.2 40.0h0M571.0 97.4h0M557.3 45.2h0M561.5 79.3h0M574.4 40.9h0M575.0 42.0h0M555.3 40.0h0M557.8 111.8h0M575.4 87.6h0M574.0 191.1h0M562.6 40.0h0M556.3 41.0h0M570.7 142.6h0M555.6 177.8h0M564.2 54.9h0M573.9 40.0h0M554.2 42.6h0M575.4 42.0h0M561.2 72.3h0M554.8 152.0h0M551.7 43.6h0M565.2 58.9h0M557.7 40.0h0M576.1 190.5h0M568.3 40.0h0M560.4 40.3h0M560.1 116.5h0M564.4 77.6h0M575.6 180.3h0M568.7 64.7h0M574.1 45.2h0M551.7 60.8h0M558.4 42.5h0M554.8 44.1h0M557.3 193.2h0M570.9 40.4h0M557.1 40.0h0M559.4 46.1h0M570.8 79.3h0M572.5 145.7h0M567.7 147.1h0M567.2 154.5h0M575.1 52.7h0M557.1 170.3h0M554.1 40.0h0M567.5 141.6h0M574.4 152.7h0M572.6 53.5h0M572.9 125.4h0M575.2 179.8h0M560.4 130.5h0M572.4 157.4h0M564.7 118.5h0M566.9 40.0h0M561.0 60.5h0M550.6 52.5h0M565.3 57.3h0M562.2 40.8h0M572.0 67.2h0M554.2 69.1h0M563.9 40.0h0M575.8 193.2h0M557.3 92.7h0M556.8 40.0h0M567.9 79.6h0M559.4 192.9h0M568.9 166.0h0M571.5 90.0h0M575.8 69.8h0M566.2 40.9h0M552.4 108.1h0M572.7 40.0h0M576.3 65.1h0M560.2 78.7h0M571.7 61.9h0M568.0 68.2h0M566.0 41.6h0M558.3 193.2h0M570.2 184.0h0M555.8 168.7h0M574.4 46.3h0M566.6 192.6h0M550.8 192.2h0M566.3 191.4h0M568.2 179.0h0M572.5 40.0h0M565.1 40.0h0M558.5 52.9h0M566.7 54.6h0M555.0 40.0h0M560.7 113.6h0M562.2 44.6h0M567.1 128.4h0M573.8 90.3h0M562.3 53.5h0M559.5 192.3h0M564.2 45.4h0M562.9 190.7h0M573.2 42.4h0M554.4 40.4h0M561.6 63.8h0M571.5 40.0h0M561.9 116.9h0M569.4 187.5h0M574.2 179.6h0M562.0 58.4h0M554.1 62.7h0M557.8 40.0h0M557.6 108.4h0M565.9 40.0h0M558.8 76.8h0M561.7 75.3h0M561.6 41.8h0M564.7 96.3h0M566.4 161.4h0M571.1 66.4h0M556.5 40.0h0M562.2 40.0h0M575.2 40.0h0M555.7 41.1h0M568.7 48.9h0M559.2 191.3h0M562.5 193.2h0M566.3 188.6h0M553.6 40.0h0M561.8 155.2h0M566.5 114.3h0M575.8 40.0h0M551.1 179.4h0M562.6 40.4h0M561.9 40.0h0M571.6 178.0h0M575.5 176.0h0M572.7 109.2h0M551.2 74.6h0M571.9 63.3h0M559.7 87.2h0M575.3 112.8h0M570.4 58.9h0M560.4 165.9h0M573.0 193.2h0M557.9 180.5h0M559.0 140.5h0M556.8 65.3h0M557.6 40.0h0M551.1 49.7h0M574.3 42.2h0M564.1 46.4h0M558.8 185.3h0M557.8 193.2h0M552.1 153.6h0M551.3 193.2h0M562.3 43.7h0M571.4 60.2h0M561.6 98.2h0M566.5 40.0h0M564.3 61.7h0M559.6 59.1h0M552.6 153.4h0M560.6 45.4h0M556.7 40.0h0M553.8 70.0h0M562.2 64.7h0M576.0 55.1h0M575.7 186.8h0M563.3 40.0h0M550.4 40.0h0M566.1 42.5h0M553.0 174.6h0M564.1 68.4h0M574.3 150.6h0M573.8 193.2h0M562.3 57.6h0M575.4 154.5h0M574.4 60.2h0M566.1 40.0h0M571.6 118.0h0M570.0 63.6h0M559.1 159.4h0M558.2 191.5h0M553.5 41.1h0M556.6 40.0h0M562.3 133.6h0M552.6 55.8h0M551.0 40.7h0M562.6 40.0h0M571.9 56.4h0M570.9 41.0h0M558.3 143.3h0M559.3 40.0h0M553.1 118.3h0M551.0 40.1h0M576.3 83.5h0M568.6 192.3h0M554.9 113.3h0M552.0 46.4h0M574.7 98.6h0M570.2 192.7h0M551.6 84.8h0M551.9 64.3h0M553.1 40.0h0M560.5 78.2h0M565.1 41.6h0M571.7 162.6h0M551.0 40.0h0M575.4 193.2h0M564.7 132.8h0M554.4 40.0h0M569.3 87.0h0M559.7 80.1h0M558.6 40.0h0M575.1 40.0h0M561.2 54.3h0M556.2 40.0h0M566.3 191.3h0M575.0 178.0h0M571.7 139.0h0M553.9 40.0h0M575.5 40.0h0M552.9 167.5h0M554.6 186.5h0M554.4 61.5h0M570.9 40.0h0M553.6 108.8h0M561.8 40.0h0M557.3 69.0h0M569.5 193.2h0M576.3 154.5h0M561.2 165.9h0M567.9 41.7h0M562.0 41.2h0M572.2 105.8h0M575.2 113.9h0M574.1 114.0h0M561.4 40.0h0M571.7 85.0h0M558.6 161.9h0M576.1 193.1h0M574.3 49.2h0M552.3 160.2h0M566.7 61.6h0M554.6 193.2h0M561.4 52.7h0M573.3 103.5h0M564.8 41.0h0M557.3 188.3h0M555.6 58.5h0M565.8 44.1h0M571.1 186.1h0M558.8 60.8h0M565.0 88.0h0M564.3 46.3h0M572.7 158.9h0M572.5 44.6h0M553.6 60.8h0M568.4 40.0h0M565.4 40.0h0M567.5 40.0h0M574.2 40.4h0M562.7 41.7h0M554.8 193.2h0M574.0 193.0h0M562.2 42.1h0M560.8 62.6h0M558.7 193.2h0M552.6 68.4h0M572.2 83.4h0M571.3 86.8h0M563.4 41.9h0M559.2 193.2h0M563.3 58.1h0M576.3 133.6h0M554.1 44.8h0M566.9 46.0h0M562.8 40.1h0M565.2 44.8h0M566.6 161.5h0M568.9 40.9h0M575.4 40.0h0M554.1 128.0h0M557.9 65.0h0M576.1 77.2h0M555.2 159.3h0M556.1 192.8h0M576.1 53.9h0M564.1 41.6h0M570.3 154.3h0M569.6 154.2h0M561.1 53.9h0M563.2 180.6h0M569.7 65.0h0M563.9 61.0h0M563.5 113.2h0M561.9 145.2h0M560.6 193.2h0M566.4 124.0h0M572.2 41.0h0M557.4 58.5h0M558.9 150.3h0M552.6 177.2h0M568.4 40.0h0M555.6 42.7h0M562.2 69.5h0M565.6 40.0h0M567.3 67.7h0M565.8 191.7h0M550.6 125.2h0M552.2 193.2h0M555.9 133.2h0M567.2 64.9h0M565.9 66.2h0M557.8 148.3h0M555.3 40.1h0M557.6 77.0h0M557.7 111.2h0M568.5 43.2h0M564.2 40.0h0M551.7 136.0h0M555.2 86.2h0M567.8 192.2h0M565.5 89.6h0M572.6 104.9h0M562.0 41.4h0M572.1 64.3h0M553.2 40.0h0M561.2 40.0h0M553.4 52.1h0M571.9 51.9h0M559.2 171.7h0M576.3 146.8h0M565.0 140.4h0M553.5 56.7h0M554.2 188.5h0M555.4 77.5h0M569.1 193.2h0M560.3 82.0h0M572.6 192.9h0M566.8 48.2h0M569.7 40.0h0M555.2 40.0h0M553.3 81.0h0M571.7 75.5h0M571.6 144.3h0M565.5 191.9h0M568.4 193.2h0M572.1 95.1h0M560.1 42.8h0M561.5 42.1h0M564.0 173.1h0M554.9 69.6h0M564.9 40.0h0M563.3 188.8h0M570.5 77.1h0M574.8 40.0h0M552.5 173.2h0M563.7 81.4h0M566.0 157.0h0M552.4 157.7h0M574.4 48.0h0M558.7 40.0h0M562.4 95.5h0M572.6 193.2h0M566.6 187.9h0M563.3 63.9h0M554.4 103.6h0M554.0 187.7h0M553.4 41.6h0M560.5 40.6h0M561.2 40.0h0M551.6 54.2h0M556.3 46.5h0M557.4 154.4h0M552.8 158.9h0M561.8 40.4h0M564.5 40.0h0M556.0 63.6h0M575.4 50.8h0M552.5 55.1h0M551.5 40.3h0M562.9 40.0h0M560.8 52.1h0M571.3 43.1h0M557.6 40.0h0M560.0 142.7h0M557.9 64.9h0M571.2 84.1h0M574.6 41.6h0M568.4 40.0h0M563.1 54.2h0M553.1 40.0h0M553.9 113.5h0M559.2 44.7h0M558.4 75.5h0M556.1 73.0h0M567.6 67.9h0M574.1 59.2h0M563.5 42.4h0M557.7 61.9h0M563.6 71.6h0M572.9 193.2h0M568.6 65.9h0M564.4 108.5h0M566.3 56.5h0M569.5 40.0h0M574.1 46.7h0M558.7 193.2h0M571.2 114.9h0M567.7 40.0h0M560.1 193.2h0M557.7 84.9h0M555.3 179.9h0M558.7 109.8h0M568.9 42.2h0M554.1 187.1h0M565.6 54.0h0M553.9 40.9h0M573.7 45.0h0M562.5 49.7h0M558.3 40.0h0M561.6 117.2h0M557.1 69.8h0M556.9 70.5h0M568.9 40.0h0M558.3 40.3h0M569.6 193.2h0M571.3 51.2h0M566.3 61.4h0M569.3 95.0h0M564.0 72.2h0M552.8 51.1h0M556.0 42.0h0M567.0 62.8h0M566.1 100.9h0M569.4 40.0h0M574.4 133.7h0M574.1 193.2h0M563.7 66.0h0M567.0 57.3h0M552.5 144.4h0M553.8 191.7h0M568.2 41.2h0M573.1 105.3h0M568.3 40.0h0M559.3 104.9h0M567.8 40.0h0M570.6 192.8h0M564.2 89.2h0M559.8 178.2h0M565.8 156.6h0M564.9 41.0h0M568.5 45.1h0M551.7 193.2h0M570.2 44.3h0M569.6 110.8h0M571.4 49.0h0" stroke="#000" stroke-width="1.40" stroke-linecap="round"/>
<line x1="626.8" y1="40.5" x2="626.8" y2="192.7" stroke="#333" stroke-width="0.8"/>
<rect x="602.9" y="87.8" width="47.8" height="99.8" fill="#7fdcdc" stroke="#333" stroke-width="0.8"/>
<line x1="602.9" y1="162.3" x2="650.7" y2="162.3" stroke="#333" stroke-width="1.5"/>
<path d="M639.8 40.0h0M616.9 191.2h0M619.8 117.7h0M622.1 40.0h0M637.8 131.6h0M615.1 100.6h0M618.7 49.6h0M629.0 58.8h0M628.5 40.8h0M629.7 104.3h0M634.1 186.5h0M630.7 40.0h0M618.6 192.3h0M627.6 193.2h0M627.3 193.2h0M631.0 171.7h0M628.9 42.7h0M629.3 182.5h0M627.5 150.0h0M639.7 193.2h0M638.0 177.3h0M627.1 40.0h0M618.3 171.6h0M622.9 147.9h0M614.8 179.9h0M634.5 151.5h0M615.2 118.3h0M635.3 170.7h0M626.8 43.0h0M629.0 154.9h0M632.7 40.0h0M623.0 120.1h0M638.3 77.6h0M626.8 193.2h0M631.8 122.3h0M620.8 168.7h0M616.9 193.2h0M620.4 189.6h0M616.3 53.6h0M619.2 165.0h0M635.5 178.2h0M623.6 193.2h0M626.5 58.5h0M633.3 174.2h0M619.8 97.6h0M615.5 185.9h0M630.6 112.4h0M626.8 193.2h0M614.6 130.9h0M613.9 82.9h0M619.9 122.2h0M617.4 152.1h0M614.0 177.8h0M630.4 175.1h0M628.1 191.2h0M635.9 177.1h0M617.9 158.3h0M627.1 61.5h0M618.8 103.3h0M636.5 172.9h0M618.9 84.9h0M615.1 191.5h0M639.0 174.5h0M628.3 191.7h0M633.8 54.6h0M638.5 193.2h0M616.4 106.5h0M618.4 193.2h0M624.5 160.0h0M633.0 126.2h0M632.7 178.3h0M634.6 43.9h0M620.0 117.1h0M637.9 193.2h0M616.5 182.4h0M622.4 167.8h0M623.0 191.9h0M621.8 69.2h0M623.5 149.2h0M638.5 193.2h0M620.0 158.0h0M617.4 181.3h0M616.7 193.2h0M634.6 164.3h0M623.7 160.6h0M629.0 42.6h0M631.6 166.5h0M631.2 70.9h0M615.9 176.4h0M625.6 192.1h0M630.3 79.4h0M614.3 123.3h0M620.0 42.6h0M638.1 106.2h0M618.3 179.2h0M637.7 171.5h0M636.4 145.3h0M619.7 78.6h0M629.5 153.6h0M628.2 188.7h0M639.3 176.9h0M619.7 138.7h0M615.0 170.4h0M621.8 130.5h0M632.4 79.5h0M617.2 188.2h0M614.0 175.4h0M634.8 168.5h0M618.0 191.6h0M623.4 193.2h0M626.8 164.6h0M625.4 187.1h0M619.7 167.5h0M636.1 191.9h0M635.3 193.2h0M637.8 150.0h0M632.8 124.9h0M634.7 188.3h0M628.4 171.3h0M637.3 192.3h0M631.7 42.8h0M617.9 151.0h0M623.8 40.0h0M629.9 193.2h0M629.7 57.3h0M618.2 74.9h0M635.0 184.5h0M635.4 181.1h0M616.7 166.8h0M633.5 186.5h0M631.1 75.2h0M623.4 93.3h0M618.7 193.2h0M615.7 173.3h0M633.0 44.6h0M637.2 193.2h0M626.2 71.3h0M617.7 193.2h0M616.9 181.0h0M616.7 178.1h0M617.7 189.1h0M620.1 115.0h0M633.7 47.2h0M620.5 178.0h0M632.9 193.2h0M632.2 176.7h0M624.0 184.7h0M619.0 42.9h0M638.8 189.6h0M619.7 41.1h0M616.7 193.2h0M633.8 170.5h0M634.2 193.2h0M625.9 164.2h0M620.0 156.4h0M615.0 180.1h0M619.9 191.5h0M626.9 145.5h0M631.4 188.2h0M627.0 105.2h0M634.6 138.1h0M616.5 174.7h0M616.7 170.2h0M636.5 162.6h0M616.3 173.4h0M629.4 182.3h0M620.7 58.4h0M617.0 176.4h0M620.8 185.2h0M633.0 193.2h0M633.1 40.0h0M633.1 85.2h0M619.9 162.3h0M616.1 169.3h0M627.4 174.8h0M616.1 79.8h0M631.6 177.6h0M634.6 41.0h0M639.4 148.9h0M629.2 134.0h0M623.5 173.5h0M632.7 43.2h0M623.3 40.0h0M631.0 193.2h0M614.7 87.6h0M621.1 108.2h0M625.9 173.3h0M618.5 193.2h0M615.0 189.8h0M616.0 193.2h0M627.2 92.0h0M634.2 193.0h0M636.2 192.5h0M636.2 181.3h0M636.3 178.6h0M635.0 40.0h0M632.6 191.2h0M628.8 188.9h0M634.7 184.0h0M623.0 145.8h0M620.9 189.3h0M619.7 181.1h0M630.1 183.5h0M631.1 42.5h0M633.2 193.2h0M616.2 153.0h0M625.4 165.1h0M614.7 190.3h0M627.4 161.4h0M628.4 133.6h0M621.7 188.6h0M624.7 44.7h0M625.2 40.0h0M635.6 144.2h0M630.2 178.6h0M624.2 173.9h0M626.8 193.2h0M633.0 103.8h0M632.4 180.2h0M631.0 192.1h0M637.5 119.1h0M619.2 40.0h0M616.6 163.2h0M629.8 169.4h0M619.6 169.2h0M632.4 162.9h0M627.6 183.2h0M637.0 72.7h0M616.9 40.0h0M624.1 102.8h0M614.6 59.4h0M624.5 128.5h0M631.7 63.4h0M625.1 179.8h0M635.4 171.4h0M636.1 61.7h0M637.1 167.8h0M626.2 48.3h0M630.3 43.3h0M614.9 75.1h0M627.6 175.0h0M620.6 193.2h0M629.1 53.3h0M624.6 184.0h0M618.4 160.1h0M633.4 161.9h0M630.6 45.4h0M637.0 112.5h0M632.4 40.0h0M621.1 173.7h0M627.5 193.1h0M619.1 163.0h0M628.7 41.8h0M620.6 40.0h0M616.9 175.4h0M620.2 123.8h0M633.2 109.3h0M617.8 55.9h0M613.8 74.7h0M633.9 193.2h0M624.3 40.0h0M630.5 193.2h0M637.5 56.1h0M617.9 77.6h0M633.3 56.7h0M627.7 68.6h0M617.7 193.2h0M636.8 193.2h0M631.9 43.4h0M636.4 183.4h0M634.0 166.1h0M625.0 190.6h0M625.4 163.9h0M617.9 193.2h0M639.4 192.7h0M618.1 44.1h0M626.4 56.3h0M626.5 110.4h0M623.8 186.4h0M622.2 193.2h0M624.1 71.2h0M614.0 182.6h0M634.0 193.2h0M631.9 70.6h0M625.5 40.0h0M625.3 40.0h0M633.7 95.5h0M630.7 180.9h0M632.8 73.9h0M617.9 96.5h0M622.3 193.2h0M617.6 127.3h0M632.5 141.5h0M628.3 193.2h0M632.1 193.2h0M627.6 193.2h0M626.5 192.0h0M621.5 83.9h0M630.2 164.7h0M634.6 191.8h0M614.4 174.5h0M630.8 182.6h0M639.2 193.2h0M635.4 181.8h0M622.7 40.0h0M613.8 69.1h0M623.4 123.3h0M616.8 41.2h0M619.4 170.9h0M625.5 173.2h0M617.6 41.8h0M633.9 98.2h0M625.8 193.2h0M634.4 134.7h0M615.9 41.7h0M637.5 175.4h0M625.7 124.6h0M628.4 193.2h0M630.0 40.6h0M625.0 66.5h0M619.8 193.2h0M627.9 69.6h0M631.0 77.1h0M635.8 111.7h0M625.9 40.6h0M634.1 112.8h0M618.8 180.6h0M619.8 157.2h0M636.6 49.6h0M617.6 119.7h0M637.4 147.8h0M623.7 69.2h0M635.1 193.2h0M632.5 168.3h0M634.9 192.5h0M631.3 81.2h0M621.4 191.8h0M623.2 136.8h0M613.9 114.0h0M628.9 130.5h0M620.2 169.2h0M617.9 122.7h0M637.5 168.8h0M627.4 51.9h0M617.3 100.0h0M638.7 186.1h0M617.3 133.6h0M623.7 192.8h0M637.9 182.9h0M624.2 166.0h0M618.9 174.4h0M637.6 169.1h0M630.3 175.6h0M624.0 164.5h0M621.8 48.4h0M628.5 173.3h0M639.6 174.8h0M636.3 90.6h0M632.6 45.0h0M627.6 163.2h0M615.2 123.0h0M614.7 185.6h0M630.9 181.4h0M632.4 190.7h0M636.5 170.2h0M624.7 170.4h0M636.5 41.8h0M630.6 94.6h0M614.2 193.2h0M618.8 178.8h0M631.5 188.7h0M631.9 53.9h0M632.3 54.0h0M618.2 40.0h0M614.7 129.3h0M623.1 163.7h0M621.0 175.6h0M625.8 40.0h0M637.9 193.2h0M638.5 48.7h0M622.8 186.4h0M614.8 174.3h0M632.0 190.3h0M621.3 190.5h0M629.4 193.2h0M627.7 118.3h0M613.8 103.7h0M626.3 42.3h0M615.0 40.0h0M634.0 193.2h0M629.6 193.2h0M615.6 109.6h0M628.6 40.0h0M619.8 180.0h0M634.7 128.3h0M616.1 41.4h0M614.4 44.3h0M618.3 191.4h0M633.4 144.9h0M615.6 193.2h0M635.6 184.4h0M632.8 54.5h0M635.1 144.2h0M627.6 50.5h0M638.5 193.2h0M637.1 89.2h0M628.6 43.3h0M625.4 168.2h0M620.5 163.2h0M630.7 168.4h0M623.5 40.0h0M637.8 115.1h0M634.0 193.2h0M613.9 112.3h0M616.4 44.9h0M620.3 193.2h0M625.0 193.2h0M625.3 115.6h0M628.8 183.9h0M622.0 135.4h0M629.9 107.8h0M613.8 184.1h0M632.2 168.1h0M619.1 190.9h0M619.2 193.1h0M628.1 67.9h0M630.3 186.1h0M622.2 43.5h0M631.9 40.0h0M614.8 189.3h0M618.3 162.6h0M618.7 193.2h0M629.3 192.8h0M628.2 189.6h0M613.9 40.1h0M636.1 82.7h0M634.1 149.0h0M623.8 163.6h0M614.7 186.1h0M614.7 111.7h0M630.8 119.7h0M631.5 118.1h0M635.8 110.8h0M638.6 177.4h0M628.1 190.8h0M617.0 56.5h0M618.1 48.8h0M625.8 40.0h0M630.7 188.3h0M617.0 61.8h0M629.9 187.4h0M625.7 68.6h0M623.7 103.5h0M618.7 45.9h0M616.5 66.1h0M616.7 143.1h0M626.7 129.9h0M617.4 180.8h0M637.7 85.5h0M632.6 49.2h0M635.4 120.9h0M624.6 87.8h0M614.5 86.1h0M631.3 191.8h0M637.1 193.2h0M634.3 40.0h0M616.0 182.9h0M629.7 192.3h0M615.7 170.9h0M639.2 192.5h0M620.7 193.2h0M618.1 173.6h0M625.7 70.3h0M615.9 160.1h0M614.3 47.1h0M625.4 174.2h0M622.8 129.3h0M632.9 187.9h0M636.8 116.1h0M637.1 182.7h0M636.4 45.8h0M622.5 172.0h0M630.9 163.7h0M638.7 100.5h0M632.8 118.7h0M634.1 192.3h0M629.9 133.0h0M617.7 192.6h0M629.3 193.2h0M617.2 193.2h0M615.3 156.8h0M628.3 42.2h0M635.1 42.7h0M636.3 89.3h0M618.1 109.8h0M638.4 164.6h0M616.0 109.9h0M614.0 170.2h0M630.3 192.2h0M633.6 135.0h0M625.8 141.9h0M633.2 40.9h0M626.6 63.4h0M622.1 48.3h0M637.4 157.3h0M634.0 91.6h0M634.0 46.1h0M626.0 166.9h0M614.7 191.0h0M619.1 40.0h0M629.9 160.9h0M624.4 191.2h0M617.3 63.7h0M634.9 193.2h0M627.5 164.0h0M638.8 188.2h0M624.7 172.0h0M635.4 164.6h0M615.5 118.2h0M633.1 192.3h0M614.9 175.4h0M631.1 40.0h0M635.2 106.3h0M619.8 52.6h0M637.5 55.8h0M633.3 193.2h0M614.3 40.0h0M615.2 151.9h0M631.2 163.0h0M617.8 188.1h0M628.9 184.3h0M631.8 138.2h0M616.2 185.6h0M630.7 142.7h0M634.9 184.7h0M629.3 149.2h0M631.5 169.4h0M635.1 89.9h0M625.1 182.6h0M634.4 170.4h0M634.4 193.2h0M631.6 193.2h0M619.1 191.9h0M635.6 175.2h0M616.8 40.0h0M638.5 40.0h0M635.7 170.3h0M621.8 191.6h0M616.6 153.7h0M617.9 193.2h0M637.5 184.5h0M621.9 118.2h0M631.1 140.3h0M635.3 120.7h0M619.3 113.3h0M616.9 129.1h0M632.0 76.3h0M627.7 43.5h0M619.8 57.3h0M634.0 172.1h0M637.1 81.5h0M631.7 172.4h0M622.1 183.6h0M623.9 193.2h0M637.3 74.1h0M620.2 177.4h0M632.7 190.9h0M636.7 40.0h0M632.7 124.9h0M617.8 69.9h0M618.1 41.9h0M618.7 193.2h0M619.7 178.3h0M634.8 108.8h0M621.9 193.2h0M615.3 166.1h0M627.2 167.7h0M619.3 191.5h0M629.1 137.1h0M616.9 81.5h0M624.9 189.6h0M615.3 40.0h0M619.2 130.7h0M615.2 173.0h0M626.6 191.5h0M634.1 40.0h0M627.8 193.2h0M638.7 74.2h0M628.2 176.2h0M634.2 48.6h0M637.0 177.4h0M625.5 72.8h0M617.1 176.6h0M621.7 193.2h0M622.2 192.7h0M623.8 56.2h0M628.5 53.2h0M618.3 109.8h0M618.7 193.2h0M635.6 192.9h0M638.8 117.9h0M635.3 190.0h0M624.6 183.4h0M631.8 138.0h0M635.2 193.2h0M625.2 78.5h0M614.9 172.8h0M636.2 70.8h0M620.6 184.4h0M627.9 193.2h0M618.5 94.1h0M633.0 63.9h0M624.3 162.7h0M614.8 187.8h0M631.6 180.5h0M621.7 169.6h0M627.4 192.4h0M629.1 166.2h0M618.0 189.6h0M632.2 56.1h0M621.6 193.2h0M626.4 191.4h0M623.6 193.2h0M637.5 172.0h0M614.8 73.8h0M628.2 113.3h0M634.5 40.0h0M626.7 159.1h0M626.5 177.2h0M623.6 88.5h0M633.8 126.5h0M614.6 193.2h0M628.5 189.4h0M625.6 166.7h0M634.2 81.4h0M633.4 186.5h0M632.3 56.3h0M618.3 179.1h0M626.9 184.2h0M639.3 177.1h0M639.4 179.2h0M623.8 170.4h0M628.1 128.6h0M618.1 191.0h0M614.8 144.7h0M618.0 176.2h0M619.3 163.2h0M621.3 179.2h0M636.0 193.2h0M633.6 193.2h0M616.3 74.1h0M635.9 183.7h0M635.9 157.0h0M618.2 45.8h0M619.9 92.7h0M632.0 43.4h0M615.0 176.3h0M614.8 40.0h0M635.1 179.9h0M638.1 171.0h0M622.2 181.0h0M615.6 161.8h0M631.3 74.1h0M615.1 171.0h0M625.5 178.0h0M619.6 188.3h0M635.2 42.2h0M630.5 193.2h0M628.7 184.9h0M620.3 182.6h0M636.9 172.9h0M638.9 94.5h0M614.7 193.2h0M636.2 190.3h0M637.8 113.2h0M638.8 40.0h0M625.9 45.2h0M628.0 187.5h0M619.2 193.2h0M631.2 169.5h0M619.5 163.1h0M635.5 137.7h0M616.3 109.4h0M617.1 151.4h0M625.6 161.5h0M618.3 190.5h0M637.6 193.2h0M615.9 87.0h0M616.6 122.0h0M615.5 80.8h0M637.3 53.8h0M624.9 191.0h0M616.4 57.6h0M629.9 68.1h0M632.0 40.1h0M639.3 180.6h0M616.1 181.9h0M638.1 173.8h0M635.3 116.5h0M638.7 193.2h0M632.3 43.9h0M616.8 147.3h0M614.4 132.2h0M625.5 149.0h0M628.6 54.9h0M635.4 189.4h0M624.5 186.2h0M626.1 173.0h0M614.9 160.7h0M616.8 143.6h0M614.7 188.6h0M631.0 164.2h0M625.4 193.2h0M623.4 181.0h0M637.4 54.0h0M633.6 121.2h0M616.7 93.6h0M631.5 131.3h0M629.4 98.7h0M636.4 185.1h0M619.9 193.2h0M624.6 40.0h0M623.1 40.0h0M637.5 65.6h0M637.4 140.0h0M630.2 69.9h0M614.3 97.0h0M616.9 42.1h0M618.3 170.0h0M617.0 149.2h0M619.0 55.2h0M638.8 90.6h0M628.6 171.3h0M632.8 175.6h0M630.6 193.2h0M636.4 160.9h0M637.7 169.8h0M622.9 107.0h0M638.7 170.7h0M638.6 56.1h0M619.5 157.3h0M621.8 164.6h0M622.0 40.0h0M625.1 176.4h0M632.4 168.7h0M621.5 40.0h0M636.9 168.7h0M621.3 90.5h0M619.5 98.0h0M622.0 187.7h0" stroke="#000" stroke-width="1.40" stroke-linecap="round"/>
<line x1="563.4" y1="202.3" x2="563.4" y2="205.0" stroke="#000" stroke-width="0.8"/>
<text x="563.4" y="216.0" font-size="12" text-anchor="middle" stroke="#000" stroke-width="0.25">siNTC</text>
<line x1="626.8" y1="202.3" x2="626.8" y2="205.0" stroke="#000" stroke-width="0.8"/>
<text x="626.8" y="216.0" font-size="12" text-anchor="middle" stroke="#000" stroke-width="0.25">siLSD1</text>
<line x1="563.4" y1="31.1" x2="626.8" y2="31.1" stroke="#444" stroke-width="0.8"/>
<line x1="563.4" y1="31.1" x2="563.4" y2="35.5" stroke="#444" stroke-width="0.8"/>
<line x1="626.8" y1="31.1" x2="626.8" y2="35.5" stroke="#444" stroke-width="0.8"/>
<text x="595.1" y="30.4" font-size="9.6" text-anchor="middle" fill="#111" stroke="#111" stroke-width="0.15">p &lt; 2.22e−16</text>
<text x="255.3" y="235.8" font-size="17" stroke="#000" stroke-width="0.25" font-weight="bold">d</text>
<text x="375.0" y="247.5" font-size="12.6" text-anchor="middle" stroke="#000" stroke-width="0.25">PC-3</text>
<rect x="407.6" y="233.7" width="6.4" height="8.0" fill="#7f96f6" stroke="#5a76f0" stroke-width="0.5"/>
<text x="417.0" y="240.8" font-size="8.5">DMSO</text>
<rect x="407.6" y="247.1" width="6.4" height="8.0" fill="#f98c7a" stroke="#f0604a" stroke-width="0.5"/>
<text x="417.0" y="254.2" font-size="8.5">ORY1001</text>
<line x1="312.6" y1="249.2" x2="312.6" y2="356.8" stroke="#555" stroke-width="1.3"/>
<line x1="312.6" y1="356.3" x2="474.7" y2="356.3" stroke="#555" stroke-width="1.3"/>
<line x1="309.1" y1="249.6" x2="312.6" y2="249.6" stroke="#555" stroke-width="1.2"/>
<text x="307.6" y="253.9" font-size="12.2" text-anchor="end" stroke="#000" stroke-width="0.25">1.2</text>
<line x1="309.1" y1="285.2" x2="312.6" y2="285.2" stroke="#555" stroke-width="1.2"/>
<text x="307.6" y="289.5" font-size="12.2" text-anchor="end" stroke="#000" stroke-width="0.25">0.8</text>
<line x1="309.1" y1="320.7" x2="312.6" y2="320.7" stroke="#555" stroke-width="1.2"/>
<text x="307.6" y="325.0" font-size="12.2" text-anchor="end" stroke="#000" stroke-width="0.25">0.4</text>
<line x1="309.1" y1="356.3" x2="312.6" y2="356.3" stroke="#555" stroke-width="1.2"/>
<text x="307.6" y="360.6" font-size="12.2" text-anchor="end" stroke="#000" stroke-width="0.25">0.0</text>
<text x="266.8" y="308.2" font-size="12.8" text-anchor="middle" stroke="#000" stroke-width="0.25" transform="rotate(-90 266.8 308.2)">Relative mRNA</text>
<text x="282.2" y="308.5" font-size="12.8" text-anchor="middle" stroke="#000" stroke-width="0.25" transform="rotate(-90 282.2 308.5)">Expression</text>
<rect x="318.6" y="285.2" width="6.6" height="71.1" fill="#8499f7" stroke="#4e6cf0" stroke-width="0.6"/>
<rect x="326.9" y="305.4" width="6.6" height="50.9" fill="#f98c7a" stroke="#f25a44" stroke-width="0.6"/>
<line x1="321.9" y1="284.3" x2="321.9" y2="285.2" stroke="#2048e8" stroke-width="0.7"/>
<line x1="320.1" y1="284.3" x2="323.7" y2="284.3" stroke="#2048e8" stroke-width="0.7"/>
<line x1="330.2" y1="303.6" x2="330.2" y2="305.4" stroke="#f04030" stroke-width="0.7"/>
<line x1="328.4" y1="303.6" x2="332.0" y2="303.6" stroke="#f04030" stroke-width="0.7"/>
<circle cx="320.4" cy="283.4" r="1.50" fill="#1a48ee"/>
<circle cx="321.9" cy="286.1" r="1.50" fill="#1a48ee"/>
<circle cx="323.4" cy="285.2" r="1.50" fill="#1a48ee"/>
<path d="M328.5 299.6L330.1 302.4L326.9 302.4Z" fill="#f0452c"/>
<path d="M330.2 304.9L331.8 307.7L328.6 307.7Z" fill="#f0452c"/>
<path d="M331.9 304.9L333.5 307.7L330.3 307.7Z" fill="#f0452c"/>
<path d="M318.6 272.6V270.3H327.9V272.6" fill="none" stroke="#000" stroke-width="0.9"/>
<text x="322.9" y="271.2" font-size="9.5" text-anchor="middle" stroke="#000" stroke-width="0.15" font-weight="bold">***</text>
<line x1="325.9" y1="356.3" x2="325.9" y2="359.5" stroke="#444" stroke-width="1.0"/>
<text x="333.4" y="366.5" font-size="12.5" text-anchor="end" stroke="#000" stroke-width="0.25" transform="rotate(-50 333.4 366.5)">CEP55</text>
<rect x="341.1" y="285.2" width="6.6" height="71.1" fill="#8499f7" stroke="#4e6cf0" stroke-width="0.6"/>
<rect x="349.4" y="302.5" width="6.6" height="53.8" fill="#f98c7a" stroke="#f25a44" stroke-width="0.6"/>
<line x1="344.4" y1="281.2" x2="344.4" y2="285.2" stroke="#2048e8" stroke-width="0.7"/>
<line x1="342.6" y1="281.2" x2="346.2" y2="281.2" stroke="#2048e8" stroke-width="0.7"/>
<line x1="352.7" y1="301.6" x2="352.7" y2="302.5" stroke="#f04030" stroke-width="0.7"/>
<line x1="350.9" y1="301.6" x2="354.5" y2="301.6" stroke="#f04030" stroke-width="0.7"/>
<circle cx="342.9" cy="274.5" r="1.50" fill="#1a48ee"/>
<circle cx="344.4" cy="287.8" r="1.50" fill="#1a48ee"/>
<circle cx="345.9" cy="287.8" r="1.50" fill="#1a48ee"/>
<path d="M351.0 299.6L352.6 302.4L349.4 302.4Z" fill="#f0452c"/>
<path d="M352.7 300.5L354.3 303.3L351.1 303.3Z" fill="#f0452c"/>
<path d="M354.4 301.4L356.0 304.2L352.8 304.2Z" fill="#f0452c"/>
<path d="M341.1 272.6V270.3H350.4V272.6" fill="none" stroke="#000" stroke-width="0.9"/>
<text x="345.4" y="271.2" font-size="9.5" text-anchor="middle" stroke="#000" stroke-width="0.15" font-weight="bold">*</text>
<line x1="348.4" y1="356.3" x2="348.4" y2="359.5" stroke="#444" stroke-width="1.0"/>
<text x="355.9" y="366.5" font-size="12.5" text-anchor="end" stroke="#000" stroke-width="0.25" transform="rotate(-50 355.9 366.5)">INCENP</text>
<rect x="363.6" y="285.2" width="6.6" height="71.1" fill="#8499f7" stroke="#4e6cf0" stroke-width="0.6"/>
<rect x="371.9" y="302.5" width="6.6" height="53.8" fill="#f98c7a" stroke="#f25a44" stroke-width="0.6"/>
<line x1="366.9" y1="281.6" x2="366.9" y2="285.2" stroke="#2048e8" stroke-width="0.7"/>
<line x1="365.1" y1="281.6" x2="368.7" y2="281.6" stroke="#2048e8" stroke-width="0.7"/>
<line x1="375.2" y1="301.2" x2="375.2" y2="302.5" stroke="#f04030" stroke-width="0.7"/>
<line x1="373.4" y1="301.2" x2="377.0" y2="301.2" stroke="#f04030" stroke-width="0.7"/>
<circle cx="365.4" cy="276.3" r="1.50" fill="#1a48ee"/>
<circle cx="366.9" cy="285.2" r="1.50" fill="#1a48ee"/>
<circle cx="368.4" cy="290.5" r="1.50" fill="#1a48ee"/>
<path d="M373.5 298.7L375.1 301.5L371.9 301.5Z" fill="#f0452c"/>
<path d="M375.2 300.5L376.8 303.3L373.6 303.3Z" fill="#f0452c"/>
<path d="M376.9 303.1L378.5 305.9L375.3 305.9Z" fill="#f0452c"/>
<path d="M363.6 272.6V270.3H372.9V272.6" fill="none" stroke="#000" stroke-width="0.9"/>
<text x="367.9" y="271.2" font-size="9.5" text-anchor="middle" stroke="#000" stroke-width="0.15" font-weight="bold">**</text>
<line x1="370.9" y1="356.3" x2="370.9" y2="359.5" stroke="#444" stroke-width="1.0"/>
<text x="378.4" y="366.5" font-size="12.5" text-anchor="end" stroke="#000" stroke-width="0.25" transform="rotate(-50 378.4 366.5)">CDK1</text>
<rect x="386.1" y="285.2" width="6.6" height="71.1" fill="#8499f7" stroke="#4e6cf0" stroke-width="0.6"/>
<rect x="394.4" y="327.9" width="6.6" height="28.4" fill="#f98c7a" stroke="#f25a44" stroke-width="0.6"/>
<line x1="389.4" y1="283.4" x2="389.4" y2="285.2" stroke="#2048e8" stroke-width="0.7"/>
<line x1="387.6" y1="283.4" x2="391.2" y2="283.4" stroke="#2048e8" stroke-width="0.7"/>
<line x1="397.7" y1="326.5" x2="397.7" y2="327.9" stroke="#f04030" stroke-width="0.7"/>
<line x1="395.9" y1="326.5" x2="399.5" y2="326.5" stroke="#f04030" stroke-width="0.7"/>
<circle cx="387.9" cy="279.0" r="1.50" fill="#1a48ee"/>
<circle cx="389.4" cy="285.2" r="1.50" fill="#1a48ee"/>
<circle cx="390.9" cy="285.2" r="1.50" fill="#1a48ee"/>
<path d="M396.0 323.6L397.6 326.4L394.4 326.4Z" fill="#f0452c"/>
<path d="M397.7 327.1L399.3 329.9L396.1 329.9Z" fill="#f0452c"/>
<path d="M399.4 328.0L401.0 330.8L397.8 330.8Z" fill="#f0452c"/>
<path d="M386.1 272.6V270.3H395.4V272.6" fill="none" stroke="#000" stroke-width="0.9"/>
<text x="390.4" y="271.2" font-size="9.5" text-anchor="middle" stroke="#000" stroke-width="0.15" font-weight="bold">****</text>
<line x1="393.4" y1="356.3" x2="393.4" y2="359.5" stroke="#444" stroke-width="1.0"/>
<text x="400.9" y="366.5" font-size="12.5" text-anchor="end" stroke="#000" stroke-width="0.25" transform="rotate(-50 400.9 366.5)">NDC80</text>
<rect x="408.6" y="285.2" width="6.6" height="71.1" fill="#8499f7" stroke="#4e6cf0" stroke-width="0.6"/>
<rect x="416.9" y="306.5" width="6.6" height="49.8" fill="#f98c7a" stroke="#f25a44" stroke-width="0.6"/>
<line x1="411.9" y1="281.2" x2="411.9" y2="285.2" stroke="#2048e8" stroke-width="0.7"/>
<line x1="410.1" y1="281.2" x2="413.7" y2="281.2" stroke="#2048e8" stroke-width="0.7"/>
<line x1="420.2" y1="305.6" x2="420.2" y2="306.5" stroke="#f04030" stroke-width="0.7"/>
<line x1="418.4" y1="305.6" x2="422.0" y2="305.6" stroke="#f04030" stroke-width="0.7"/>
<circle cx="410.4" cy="275.4" r="1.50" fill="#1a48ee"/>
<circle cx="411.9" cy="285.2" r="1.50" fill="#1a48ee"/>
<circle cx="413.4" cy="290.5" r="1.50" fill="#1a48ee"/>
<path d="M418.5 303.1L420.1 305.9L416.9 305.9Z" fill="#f0452c"/>
<path d="M420.2 305.8L421.8 308.6L418.6 308.6Z" fill="#f0452c"/>
<path d="M421.9 305.8L423.5 308.6L420.3 308.6Z" fill="#f0452c"/>
<path d="M408.6 272.6V270.3H417.9V272.6" fill="none" stroke="#000" stroke-width="0.9"/>
<text x="412.9" y="271.2" font-size="9.5" text-anchor="middle" stroke="#000" stroke-width="0.15" font-weight="bold">**</text>
<line x1="415.9" y1="356.3" x2="415.9" y2="359.5" stroke="#444" stroke-width="1.0"/>
<text x="423.4" y="366.5" font-size="12.5" text-anchor="end" stroke="#000" stroke-width="0.25" transform="rotate(-50 423.4 366.5)">TP63</text>
<rect x="431.1" y="285.2" width="6.6" height="71.1" fill="#8499f7" stroke="#4e6cf0" stroke-width="0.6"/>
<rect x="439.4" y="302.5" width="6.6" height="53.8" fill="#f98c7a" stroke="#f25a44" stroke-width="0.6"/>
<line x1="434.4" y1="282.1" x2="434.4" y2="285.2" stroke="#2048e8" stroke-width="0.7"/>
<line x1="432.6" y1="282.1" x2="436.2" y2="282.1" stroke="#2048e8" stroke-width="0.7"/>
<line x1="442.7" y1="302.1" x2="442.7" y2="302.5" stroke="#f04030" stroke-width="0.7"/>
<line x1="440.9" y1="302.1" x2="444.5" y2="302.1" stroke="#f04030" stroke-width="0.7"/>
<circle cx="432.9" cy="278.1" r="1.50" fill="#1a48ee"/>
<circle cx="434.4" cy="285.2" r="1.50" fill="#1a48ee"/>
<circle cx="435.9" cy="289.6" r="1.50" fill="#1a48ee"/>
<path d="M441.0 300.5L442.6 303.3L439.4 303.3Z" fill="#f0452c"/>
<path d="M442.7 300.5L444.3 303.3L441.1 303.3Z" fill="#f0452c"/>
<path d="M444.4 301.4L446.0 304.2L442.8 304.2Z" fill="#f0452c"/>
<path d="M431.1 272.6V270.3H440.4V272.6" fill="none" stroke="#000" stroke-width="0.9"/>
<text x="435.4" y="271.2" font-size="9.5" text-anchor="middle" stroke="#000" stroke-width="0.15" font-weight="bold">**</text>
<line x1="438.4" y1="356.3" x2="438.4" y2="359.5" stroke="#444" stroke-width="1.0"/>
<text x="445.9" y="366.5" font-size="12.5" text-anchor="end" stroke="#000" stroke-width="0.25" transform="rotate(-50 445.9 366.5)">CCEB1</text>
<rect x="453.6" y="285.2" width="6.6" height="71.1" fill="#8499f7" stroke="#4e6cf0" stroke-width="0.6"/>
<rect x="461.9" y="302.1" width="6.6" height="54.2" fill="#f98c7a" stroke="#f25a44" stroke-width="0.6"/>
<line x1="456.9" y1="283.4" x2="456.9" y2="285.2" stroke="#2048e8" stroke-width="0.7"/>
<line x1="455.1" y1="283.4" x2="458.7" y2="283.4" stroke="#2048e8" stroke-width="0.7"/>
<line x1="465.2" y1="299.4" x2="465.2" y2="302.1" stroke="#f04030" stroke-width="0.7"/>
<line x1="463.4" y1="299.4" x2="467.0" y2="299.4" stroke="#f04030" stroke-width="0.7"/>
<circle cx="455.4" cy="283.4" r="1.50" fill="#1a48ee"/>
<circle cx="456.9" cy="285.2" r="1.50" fill="#1a48ee"/>
<circle cx="458.4" cy="285.2" r="1.50" fill="#1a48ee"/>
<path d="M463.5 296.9L465.1 299.7L461.9 299.7Z" fill="#f0452c"/>
<path d="M465.2 303.1L466.8 305.9L463.6 305.9Z" fill="#f0452c"/>
<path d="M466.9 303.1L468.5 305.9L465.3 305.9Z" fill="#f0452c"/>
<path d="M453.6 272.6V270.3H462.9V272.6" fill="none" stroke="#000" stroke-width="0.9"/>
<text x="457.9" y="271.2" font-size="9.5" text-anchor="middle" stroke="#000" stroke-width="0.15" font-weight="bold">**</text>
<line x1="460.9" y1="356.3" x2="460.9" y2="359.5" stroke="#444" stroke-width="1.0"/>
<text x="468.4" y="366.5" font-size="12.5" text-anchor="end" stroke="#000" stroke-width="0.25" transform="rotate(-50 468.4 366.5)">PTHLH</text>
<text x="467.9" y="235.8" font-size="17" stroke="#000" stroke-width="0.25" font-weight="bold">e</text>
<text x="574.0" y="246.8" font-size="12.6" text-anchor="middle" stroke="#000" stroke-width="0.25">PC-3</text>
<circle cx="600.5" cy="231.7" r="1.70" fill="#6d8cf6"/>
<text x="608.5" y="235.0" font-size="9.0" fill="#111" stroke="#111" stroke-width="0.15">siNC</text>
<circle cx="600.5" cy="244.9" r="1.70" fill="#f6735f"/>
<text x="608.5" y="248.2" font-size="9.0" fill="#111" stroke="#111" stroke-width="0.15">siLSD1</text>
<line x1="508.3" y1="247.3" x2="508.3" y2="356.8" stroke="#555" stroke-width="1.3"/>
<line x1="508.3" y1="356.3" x2="677.0" y2="356.3" stroke="#555" stroke-width="1.3"/>
<line x1="504.8" y1="247.9" x2="508.3" y2="247.9" stroke="#555" stroke-width="1.2"/>
<text x="503.3" y="252.2" font-size="12.2" text-anchor="end" stroke="#000" stroke-width="0.25">1.5</text>
<line x1="504.8" y1="284.0" x2="508.3" y2="284.0" stroke="#555" stroke-width="1.2"/>
<text x="503.3" y="288.3" font-size="12.2" text-anchor="end" stroke="#000" stroke-width="0.25">1.0</text>
<line x1="504.8" y1="320.2" x2="508.3" y2="320.2" stroke="#555" stroke-width="1.2"/>
<text x="503.3" y="324.5" font-size="12.2" text-anchor="end" stroke="#000" stroke-width="0.25">0.5</text>
<line x1="504.8" y1="356.3" x2="508.3" y2="356.3" stroke="#555" stroke-width="1.2"/>
<text x="503.3" y="360.6" font-size="12.2" text-anchor="end" stroke="#000" stroke-width="0.25">0.0</text>
<rect x="511.2" y="284.0" width="4.9" height="72.3" fill="#809af8"/>
<rect x="519.2" y="311.5" width="4.9" height="44.8" fill="#f98d7f"/>
<line x1="513.6" y1="278.9" x2="513.6" y2="289.1" stroke="#5a7cf5" stroke-width="0.7"/>
<line x1="512.0" y1="278.9" x2="515.2" y2="278.9" stroke="#5a7cf5" stroke-width="0.7"/>
<line x1="512.0" y1="289.1" x2="515.2" y2="289.1" stroke="#5a7cf5" stroke-width="0.7"/>
<line x1="521.7" y1="307.9" x2="521.7" y2="315.1" stroke="#f5604a" stroke-width="0.7"/>
<line x1="520.1" y1="307.9" x2="523.3" y2="307.9" stroke="#f5604a" stroke-width="0.7"/>
<line x1="520.1" y1="315.1" x2="523.3" y2="315.1" stroke="#f5604a" stroke-width="0.7"/>
<circle cx="513.4" cy="275.3" r="1.50" fill="#5575f5"/>
<circle cx="513.6" cy="286.2" r="1.50" fill="#5575f5"/>
<circle cx="513.6" cy="287.6" r="1.50" fill="#5575f5"/>
<circle cx="521.5" cy="307.1" r="1.50" fill="#f5583e"/>
<circle cx="522.3" cy="312.9" r="1.50" fill="#f5583e"/>
<circle cx="521.5" cy="315.8" r="1.50" fill="#f5583e"/>
<path d="M512.9 260.8V258.0H523.0V260.8" fill="none" stroke="#000" stroke-width="1.1"/>
<text x="518.0" y="259.4" font-size="10" text-anchor="middle" stroke="#000" stroke-width="0.15" font-weight="bold">**</text>
<line x1="517.7" y1="356.3" x2="517.7" y2="359.5" stroke="#555" stroke-width="1.0"/>
<text x="523.2" y="366.0" font-size="12.5" text-anchor="end" stroke="#000" stroke-width="0.25" transform="rotate(-50 523.2 366.0)">INCENP</text>
<rect x="532.6" y="284.0" width="4.9" height="72.3" fill="#809af8"/>
<rect x="540.6" y="309.3" width="4.9" height="47.0" fill="#f98d7f"/>
<line x1="535.1" y1="279.7" x2="535.1" y2="288.3" stroke="#5a7cf5" stroke-width="0.7"/>
<line x1="533.5" y1="279.7" x2="536.7" y2="279.7" stroke="#5a7cf5" stroke-width="0.7"/>
<line x1="533.5" y1="288.3" x2="536.7" y2="288.3" stroke="#5a7cf5" stroke-width="0.7"/>
<line x1="543.1" y1="305.7" x2="543.1" y2="312.9" stroke="#f5604a" stroke-width="0.7"/>
<line x1="541.5" y1="305.7" x2="544.7" y2="305.7" stroke="#f5604a" stroke-width="0.7"/>
<line x1="541.5" y1="312.9" x2="544.7" y2="312.9" stroke="#f5604a" stroke-width="0.7"/>
<circle cx="534.8" cy="277.5" r="1.50" fill="#5575f5"/>
<circle cx="535.1" cy="284.7" r="1.50" fill="#5575f5"/>
<circle cx="535.1" cy="291.2" r="1.50" fill="#5575f5"/>
<circle cx="542.9" cy="302.8" r="1.50" fill="#f5583e"/>
<circle cx="543.7" cy="309.3" r="1.50" fill="#f5583e"/>
<circle cx="542.9" cy="311.5" r="1.50" fill="#f5583e"/>
<path d="M534.4 260.8V258.0H544.4V260.8" fill="none" stroke="#000" stroke-width="1.1"/>
<text x="539.4" y="259.4" font-size="10" text-anchor="middle" stroke="#000" stroke-width="0.15" font-weight="bold">**</text>
<line x1="539.1" y1="356.3" x2="539.1" y2="359.5" stroke="#555" stroke-width="1.0"/>
<text x="544.6" y="366.0" font-size="12.5" text-anchor="end" stroke="#000" stroke-width="0.25" transform="rotate(-50 544.6 366.0)">CDK1</text>
<rect x="554.0" y="284.0" width="4.9" height="72.3" fill="#809af8"/>
<rect x="562.0" y="312.2" width="4.9" height="44.1" fill="#f98d7f"/>
<line x1="556.5" y1="280.4" x2="556.5" y2="287.6" stroke="#5a7cf5" stroke-width="0.7"/>
<line x1="554.9" y1="280.4" x2="558.1" y2="280.4" stroke="#5a7cf5" stroke-width="0.7"/>
<line x1="554.9" y1="287.6" x2="558.1" y2="287.6" stroke="#5a7cf5" stroke-width="0.7"/>
<line x1="564.5" y1="311.8" x2="564.5" y2="312.6" stroke="#f5604a" stroke-width="0.7"/>
<line x1="562.9" y1="311.8" x2="566.1" y2="311.8" stroke="#f5604a" stroke-width="0.7"/>
<line x1="562.9" y1="312.6" x2="566.1" y2="312.6" stroke="#f5604a" stroke-width="0.7"/>
<circle cx="556.2" cy="278.2" r="1.50" fill="#5575f5"/>
<circle cx="556.5" cy="280.4" r="1.50" fill="#5575f5"/>
<circle cx="556.5" cy="292.7" r="1.50" fill="#5575f5"/>
<circle cx="564.2" cy="312.2" r="1.50" fill="#f5583e"/>
<circle cx="565.1" cy="312.2" r="1.50" fill="#f5583e"/>
<circle cx="564.2" cy="312.9" r="1.50" fill="#f5583e"/>
<path d="M555.8 260.8V258.0H565.8V260.8" fill="none" stroke="#000" stroke-width="1.1"/>
<text x="560.8" y="259.4" font-size="10" text-anchor="middle" stroke="#000" stroke-width="0.15" font-weight="bold">**</text>
<line x1="560.5" y1="356.3" x2="560.5" y2="359.5" stroke="#555" stroke-width="1.0"/>
<text x="566.0" y="366.0" font-size="12.5" text-anchor="end" stroke="#000" stroke-width="0.25" transform="rotate(-50 566.0 366.0)">CEP55</text>
<rect x="575.4" y="284.0" width="4.9" height="72.3" fill="#809af8"/>
<rect x="583.4" y="306.4" width="4.9" height="49.9" fill="#f98d7f"/>
<line x1="577.9" y1="281.1" x2="577.9" y2="286.9" stroke="#5a7cf5" stroke-width="0.7"/>
<line x1="576.2" y1="281.1" x2="579.5" y2="281.1" stroke="#5a7cf5" stroke-width="0.7"/>
<line x1="576.2" y1="286.9" x2="579.5" y2="286.9" stroke="#5a7cf5" stroke-width="0.7"/>
<line x1="585.9" y1="304.2" x2="585.9" y2="308.6" stroke="#f5604a" stroke-width="0.7"/>
<line x1="584.2" y1="304.2" x2="587.5" y2="304.2" stroke="#f5604a" stroke-width="0.7"/>
<line x1="584.2" y1="308.6" x2="587.5" y2="308.6" stroke="#f5604a" stroke-width="0.7"/>
<circle cx="577.6" cy="278.2" r="1.50" fill="#5575f5"/>
<circle cx="577.9" cy="285.4" r="1.50" fill="#5575f5"/>
<circle cx="577.9" cy="286.9" r="1.50" fill="#5575f5"/>
<circle cx="585.6" cy="304.2" r="1.50" fill="#f5583e"/>
<circle cx="586.5" cy="306.4" r="1.50" fill="#f5583e"/>
<circle cx="585.6" cy="307.9" r="1.50" fill="#f5583e"/>
<path d="M577.1 260.8V258.0H587.1V260.8" fill="none" stroke="#000" stroke-width="1.1"/>
<text x="582.1" y="259.4" font-size="10" text-anchor="middle" stroke="#000" stroke-width="0.15" font-weight="bold">**</text>
<line x1="581.9" y1="356.3" x2="581.9" y2="359.5" stroke="#555" stroke-width="1.0"/>
<text x="587.4" y="366.0" font-size="12.5" text-anchor="end" stroke="#000" stroke-width="0.25" transform="rotate(-50 587.4 366.0)">NDC80</text>
<rect x="596.8" y="284.0" width="4.9" height="72.3" fill="#809af8"/>
<rect x="604.8" y="312.9" width="4.9" height="43.4" fill="#f98d7f"/>
<line x1="599.2" y1="278.9" x2="599.2" y2="289.1" stroke="#5a7cf5" stroke-width="0.7"/>
<line x1="597.6" y1="278.9" x2="600.9" y2="278.9" stroke="#5a7cf5" stroke-width="0.7"/>
<line x1="597.6" y1="289.1" x2="600.9" y2="289.1" stroke="#5a7cf5" stroke-width="0.7"/>
<line x1="607.2" y1="310.8" x2="607.2" y2="315.1" stroke="#f5604a" stroke-width="0.7"/>
<line x1="605.6" y1="310.8" x2="608.9" y2="310.8" stroke="#f5604a" stroke-width="0.7"/>
<line x1="605.6" y1="315.1" x2="608.9" y2="315.1" stroke="#f5604a" stroke-width="0.7"/>
<circle cx="599.0" cy="276.8" r="1.50" fill="#5575f5"/>
<circle cx="599.2" cy="284.7" r="1.50" fill="#5575f5"/>
<circle cx="599.2" cy="289.1" r="1.50" fill="#5575f5"/>
<circle cx="607.0" cy="310.8" r="1.50" fill="#f5583e"/>
<circle cx="607.9" cy="312.9" r="1.50" fill="#f5583e"/>
<circle cx="607.0" cy="314.4" r="1.50" fill="#f5583e"/>
<path d="M598.5 260.8V258.0H608.5V260.8" fill="none" stroke="#000" stroke-width="1.1"/>
<text x="603.5" y="259.4" font-size="10" text-anchor="middle" stroke="#000" stroke-width="0.15" font-weight="bold">**</text>
<line x1="603.3" y1="356.3" x2="603.3" y2="359.5" stroke="#555" stroke-width="1.0"/>
<text x="608.8" y="366.0" font-size="12.5" text-anchor="end" stroke="#000" stroke-width="0.25" transform="rotate(-50 608.8 366.0)">ERCC6L</text>
<rect x="618.2" y="284.0" width="4.9" height="72.3" fill="#809af8"/>
<rect x="626.2" y="316.5" width="4.9" height="39.8" fill="#f98d7f"/>
<line x1="620.7" y1="278.2" x2="620.7" y2="289.8" stroke="#5a7cf5" stroke-width="0.7"/>
<line x1="619.1" y1="278.2" x2="622.3" y2="278.2" stroke="#5a7cf5" stroke-width="0.7"/>
<line x1="619.1" y1="289.8" x2="622.3" y2="289.8" stroke="#5a7cf5" stroke-width="0.7"/>
<line x1="628.7" y1="314.4" x2="628.7" y2="318.7" stroke="#f5604a" stroke-width="0.7"/>
<line x1="627.1" y1="314.4" x2="630.3" y2="314.4" stroke="#f5604a" stroke-width="0.7"/>
<line x1="627.1" y1="318.7" x2="630.3" y2="318.7" stroke="#f5604a" stroke-width="0.7"/>
<circle cx="620.4" cy="276.8" r="1.50" fill="#5575f5"/>
<circle cx="620.7" cy="286.2" r="1.50" fill="#5575f5"/>
<circle cx="620.7" cy="294.1" r="1.50" fill="#5575f5"/>
<circle cx="628.5" cy="314.4" r="1.50" fill="#f5583e"/>
<circle cx="629.3" cy="316.5" r="1.50" fill="#f5583e"/>
<circle cx="628.5" cy="318.7" r="1.50" fill="#f5583e"/>
<path d="M620.0 260.8V258.0H630.0V260.8" fill="none" stroke="#000" stroke-width="1.1"/>
<text x="625.0" y="259.4" font-size="10" text-anchor="middle" stroke="#000" stroke-width="0.15" font-weight="bold">**</text>
<line x1="624.7" y1="356.3" x2="624.7" y2="359.5" stroke="#555" stroke-width="1.0"/>
<text x="630.2" y="366.0" font-size="12.5" text-anchor="end" stroke="#000" stroke-width="0.25" transform="rotate(-50 630.2 366.0)">PTHLH</text>
<rect x="639.6" y="284.0" width="4.9" height="72.3" fill="#809af8"/>
<rect x="647.6" y="309.3" width="4.9" height="47.0" fill="#f98d7f"/>
<line x1="642.0" y1="274.6" x2="642.0" y2="293.4" stroke="#5a7cf5" stroke-width="0.7"/>
<line x1="640.4" y1="274.6" x2="643.6" y2="274.6" stroke="#5a7cf5" stroke-width="0.7"/>
<line x1="640.4" y1="293.4" x2="643.6" y2="293.4" stroke="#5a7cf5" stroke-width="0.7"/>
<line x1="650.0" y1="306.4" x2="650.0" y2="312.2" stroke="#f5604a" stroke-width="0.7"/>
<line x1="648.4" y1="306.4" x2="651.6" y2="306.4" stroke="#f5604a" stroke-width="0.7"/>
<line x1="648.4" y1="312.2" x2="651.6" y2="312.2" stroke="#f5604a" stroke-width="0.7"/>
<circle cx="641.8" cy="266.6" r="1.50" fill="#5575f5"/>
<circle cx="642.0" cy="286.2" r="1.50" fill="#5575f5"/>
<circle cx="642.0" cy="297.0" r="1.50" fill="#5575f5"/>
<circle cx="649.8" cy="306.4" r="1.50" fill="#f5583e"/>
<circle cx="650.6" cy="310.0" r="1.50" fill="#f5583e"/>
<circle cx="649.8" cy="311.5" r="1.50" fill="#f5583e"/>
<path d="M641.3 260.8V258.0H651.3V260.8" fill="none" stroke="#000" stroke-width="1.1"/>
<text x="646.3" y="259.4" font-size="10" text-anchor="middle" stroke="#000" stroke-width="0.15" font-weight="bold">*</text>
<line x1="646.1" y1="356.3" x2="646.1" y2="359.5" stroke="#555" stroke-width="1.0"/>
<text x="651.6" y="366.0" font-size="12.5" text-anchor="end" stroke="#000" stroke-width="0.25" transform="rotate(-50 651.6 366.0)">NOTCH1</text>
<rect x="661.0" y="284.0" width="4.9" height="72.3" fill="#809af8"/>
<rect x="669.0" y="310.0" width="4.9" height="46.3" fill="#f98d7f"/>
<line x1="663.5" y1="279.7" x2="663.5" y2="288.3" stroke="#5a7cf5" stroke-width="0.7"/>
<line x1="661.9" y1="279.7" x2="665.1" y2="279.7" stroke="#5a7cf5" stroke-width="0.7"/>
<line x1="661.9" y1="288.3" x2="665.1" y2="288.3" stroke="#5a7cf5" stroke-width="0.7"/>
<line x1="671.5" y1="309.3" x2="671.5" y2="310.8" stroke="#f5604a" stroke-width="0.7"/>
<line x1="669.9" y1="309.3" x2="673.1" y2="309.3" stroke="#f5604a" stroke-width="0.7"/>
<line x1="669.9" y1="310.8" x2="673.1" y2="310.8" stroke="#f5604a" stroke-width="0.7"/>
<circle cx="663.2" cy="276.8" r="1.50" fill="#5575f5"/>
<circle cx="663.5" cy="284.0" r="1.50" fill="#5575f5"/>
<circle cx="663.5" cy="291.2" r="1.50" fill="#5575f5"/>
<circle cx="671.2" cy="309.3" r="1.50" fill="#f5583e"/>
<circle cx="672.1" cy="310.0" r="1.50" fill="#f5583e"/>
<circle cx="671.2" cy="310.8" r="1.50" fill="#f5583e"/>
<path d="M662.8 260.8V258.0H672.8V260.8" fill="none" stroke="#000" stroke-width="1.1"/>
<text x="667.8" y="259.4" font-size="10" text-anchor="middle" stroke="#000" stroke-width="0.15" font-weight="bold">*</text>
<line x1="667.5" y1="356.3" x2="667.5" y2="359.5" stroke="#555" stroke-width="1.0"/>
<text x="673.0" y="366.0" font-size="12.5" text-anchor="end" stroke="#000" stroke-width="0.25" transform="rotate(-50 673.0 366.0)">FOSL1</text>
<defs><filter id="bl" x="-50%" y="-100%" width="200%" height="300%"><feGaussianBlur stdDeviation="0.7"/></filter><filter id="bl2" x="-50%" y="-100%" width="200%" height="300%"><feGaussianBlur stdDeviation="0.6"/></filter><filter id="bl3" x="-50%" y="-50%" width="200%" height="200%"><feGaussianBlur stdDeviation="1.6"/></filter></defs>
<text x="10.5" y="372.4" font-size="17" stroke="#000" stroke-width="0.25" font-weight="bold">f</text>
<text x="84.5" y="385.8" font-size="12.6" text-anchor="middle" stroke="#000" stroke-width="0.25">PC-3</text>
<rect x="66.0" y="391.3" width="37.9" height="19.3" fill="#e8e8e8"/>
<g filter="url(#bl)"><rect x="67.2" y="397.2" width="14.5" height="5.6" rx="2.8" fill="#000"/></g>
<rect x="66.0" y="391.3" width="37.9" height="19.3" fill="none" stroke="#2a2a2a" stroke-width="1.0"/>
<text x="63.2" y="405.3" font-size="12.6" text-anchor="end" stroke="#000" stroke-width="0.25">FOXA2</text>
<rect x="66.0" y="413.5" width="37.9" height="19.3" fill="#e0e0e0"/>
<g filter="url(#bl)"><rect x="68.2" y="422.9" width="11.5" height="2.6" rx="1.3" fill="#111"/><rect x="86.2" y="422.1" width="13.5" height="3.0" rx="1.5" fill="#111"/><rect x="95.2" y="421.6" width="4.5" height="3.4" rx="1.7" fill="#000"/></g>
<rect x="66.0" y="413.5" width="37.9" height="19.3" fill="none" stroke="#2a2a2a" stroke-width="1.0"/>
<text x="63.2" y="427.4" font-size="12.6" text-anchor="end" stroke="#000" stroke-width="0.25">ENO2</text>
<rect x="66.0" y="436.0" width="37.9" height="19.6" fill="#e4e4e4"/>
<rect x="66.0" y="436.0" width="18.0" height="19.6" fill="#d6d6d6"/>
<rect x="84.0" y="436.0" width="19.9" height="19.6" fill="#f0f0f0"/>
<g filter="url(#bl)"><rect x="68.0" y="446.3" width="12.0" height="3.4" rx="1.7" fill="#222"/><rect x="86.7" y="447.3" width="12.0" height="2.4" rx="1.2" fill="#777"/></g>
<rect x="66.0" y="436.0" width="37.9" height="19.6" fill="none" stroke="#2a2a2a" stroke-width="1.0"/>
<text x="63.2" y="450.1" font-size="12.6" text-anchor="end" stroke="#000" stroke-width="0.25">N-Cad</text>
<rect x="66.0" y="458.0" width="37.9" height="19.4" fill="#e2e2e2"/>
<g filter="url(#bl)"><rect x="68.9" y="467.1" width="11.0" height="2.6" rx="1.3" fill="#666"/><rect x="85.0" y="464.6" width="14.5" height="5.2" rx="2.6" fill="#000"/><rect x="85.8" y="470.9" width="13.0" height="2.6" rx="1.3" fill="#b0b0b0"/></g>
<rect x="66.0" y="458.0" width="37.9" height="19.4" fill="none" stroke="#2a2a2a" stroke-width="1.0"/>
<text x="63.2" y="472.0" font-size="12.6" text-anchor="end" stroke="#000" stroke-width="0.25">E-Cad</text>
<rect x="66.0" y="479.8" width="37.9" height="19.2" fill="#e2e2e2"/>
<g filter="url(#bl)"><rect x="68.0" y="488.8" width="12.0" height="3.0" rx="1.5" fill="#000"/><rect x="87.4" y="488.6" width="10.0" height="1.4" rx="0.7" fill="#8a8a8a"/></g>
<rect x="66.0" y="479.8" width="37.9" height="19.2" fill="none" stroke="#2a2a2a" stroke-width="1.0"/>
<text x="63.2" y="493.7" font-size="12.6" text-anchor="end" stroke="#000" stroke-width="0.25">p-Aurora A</text>
<rect x="66.0" y="501.4" width="37.9" height="19.2" fill="#dadada"/>
<g filter="url(#bl)"><rect x="67.0" y="507.8" width="16.5" height="7.8" rx="3.9" fill="#000"/><rect x="86.5" y="506.8" width="15.5" height="6.4" rx="3.2" fill="#000"/></g>
<rect x="66.0" y="501.4" width="37.9" height="19.2" fill="none" stroke="#2a2a2a" stroke-width="1.0"/>
<text x="63.2" y="515.3" font-size="12.6" text-anchor="end" stroke="#000" stroke-width="0.25">Aurora A</text>
<rect x="66.0" y="523.0" width="37.9" height="19.2" fill="#dadada"/>
<g filter="url(#bl)"><rect x="67.1" y="530.3" width="16.0" height="4.4" rx="2.2" fill="#000"/><rect x="86.5" y="528.7" width="15.5" height="5.0" rx="2.5" fill="#000"/></g>
<rect x="66.0" y="523.0" width="37.9" height="19.2" fill="none" stroke="#2a2a2a" stroke-width="1.0"/>
<text x="63.2" y="536.9" font-size="12.6" text-anchor="end" stroke="#000" stroke-width="0.25">GAPDH</text>
<text x="104.6" y="401.8" font-size="10.2" stroke="#000" stroke-width="0.15">-50</text>
<text x="104.6" y="423.2" font-size="10.2" stroke="#000" stroke-width="0.15">-50</text>
<text x="104.6" y="454.8" font-size="10.2" stroke="#000" stroke-width="0.15">-100</text>
<text x="104.6" y="475.5" font-size="10.2" stroke="#000" stroke-width="0.15">-100</text>
<text x="104.6" y="490.9" font-size="10.2" stroke="#000" stroke-width="0.15">-50</text>
<text x="104.6" y="510.0" font-size="10.2" stroke="#000" stroke-width="0.15">-50</text>
<text x="104.6" y="531.5" font-size="10.2" stroke="#000" stroke-width="0.15">-37</text>
<text x="105.5" y="545.3" font-size="10.2" stroke="#000" stroke-width="0.15">kDa</text>
<text x="66.5" y="556.9" font-size="12.6" text-anchor="end" stroke="#000" stroke-width="0.25">siFOXA2</text>
<text x="74.5" y="556.9" font-size="12.6" text-anchor="middle" stroke="#000" stroke-width="0.25">-</text>
<text x="91.5" y="556.9" font-size="12.6" text-anchor="middle" stroke="#000" stroke-width="0.25">+</text>
<text x="140.7" y="420.5" font-size="17" stroke="#000" stroke-width="0.25" font-weight="bold">g</text>
<rect x="192.8" y="414.3" width="7.2" height="9.2" fill="#8fd0d8"/>
<rect x="192.8" y="426.1" width="7.2" height="9.2" fill="#1ec8f0"/>
<rect x="192.8" y="439.0" width="7.2" height="9.2" fill="#b19cd9"/>
<text x="203.5" y="422.6" font-size="10.3" stroke="#000" stroke-width="0.15">G2/M</text>
<text x="203.5" y="434.4" font-size="10.3" stroke="#000" stroke-width="0.15">S</text>
<text x="215.0" y="435.4" font-size="12.8" stroke="#000" stroke-width="0.25">(PC-3)</text>
<text x="203.5" y="447.3" font-size="10.3" stroke="#000" stroke-width="0.15">G1</text>
<line x1="183.0" y1="433.5" x2="183.0" y2="542.3" stroke="#222" stroke-width="1.1"/>
<line x1="183.0" y1="541.8" x2="234.5" y2="541.8" stroke="#222" stroke-width="1.1"/>
<line x1="180.0" y1="433.8" x2="183.0" y2="433.8" stroke="#222" stroke-width="1"/>
<text x="179.0" y="438.2" font-size="12.6" text-anchor="end" stroke="#000" stroke-width="0.25">120</text>
<line x1="180.0" y1="451.8" x2="183.0" y2="451.8" stroke="#222" stroke-width="1"/>
<text x="179.0" y="456.2" font-size="12.6" text-anchor="end" stroke="#000" stroke-width="0.25">100</text>
<line x1="180.0" y1="469.8" x2="183.0" y2="469.8" stroke="#222" stroke-width="1"/>
<text x="179.0" y="474.2" font-size="12.6" text-anchor="end" stroke="#000" stroke-width="0.25">80</text>
<line x1="180.0" y1="487.8" x2="183.0" y2="487.8" stroke="#222" stroke-width="1"/>
<text x="179.0" y="492.2" font-size="12.6" text-anchor="end" stroke="#000" stroke-width="0.25">60</text>
<line x1="180.0" y1="505.8" x2="183.0" y2="505.8" stroke="#222" stroke-width="1"/>
<text x="179.0" y="510.2" font-size="12.6" text-anchor="end" stroke="#000" stroke-width="0.25">40</text>
<line x1="180.0" y1="523.8" x2="183.0" y2="523.8" stroke="#222" stroke-width="1"/>
<text x="179.0" y="528.2" font-size="12.6" text-anchor="end" stroke="#000" stroke-width="0.25">20</text>
<line x1="180.0" y1="541.8" x2="183.0" y2="541.8" stroke="#222" stroke-width="1"/>
<text x="179.0" y="546.2" font-size="12.6" text-anchor="end" stroke="#000" stroke-width="0.25">0</text>
<text x="153.5" y="485.6" font-size="12.6" text-anchor="middle" stroke="#000" stroke-width="0.25" transform="rotate(-90 153.5 485.6)">% Total cells</text>
<rect x="191.0" y="486.9" width="14.6" height="54.9" fill="#b19cd9"/>
<rect x="191.0" y="477.9" width="14.6" height="9.0" fill="#1ec8f0"/>
<rect x="191.0" y="452.7" width="14.6" height="25.2" fill="#8fd0d8"/>
<line x1="194.0" y1="486.9" x2="202.6" y2="486.9" stroke="#6a5aa8" stroke-width="0.6"/>
<line x1="194.0" y1="477.9" x2="202.6" y2="477.9" stroke="#1a78c8" stroke-width="0.6"/>
<rect x="213.1" y="469.8" width="14.6" height="72.0" fill="#b19cd9"/>
<rect x="213.1" y="466.2" width="14.6" height="3.6" fill="#1ec8f0"/>
<rect x="213.1" y="452.7" width="14.6" height="13.5" fill="#8fd0d8"/>
<line x1="216.1" y1="469.8" x2="224.7" y2="469.8" stroke="#6a5aa8" stroke-width="0.6"/>
<line x1="216.1" y1="466.2" x2="224.7" y2="466.2" stroke="#1a78c8" stroke-width="0.6"/>
<line x1="220.4" y1="452.7" x2="220.4" y2="450.9" stroke="#7ab8c0" stroke-width="0.6"/>
<line x1="218.0" y1="450.9" x2="223.0" y2="450.9" stroke="#7ab8c0" stroke-width="0.6"/>
<line x1="198.3" y1="541.8" x2="198.3" y2="544.8" stroke="#222" stroke-width="1"/>
<line x1="220.4" y1="541.8" x2="220.4" y2="544.8" stroke="#222" stroke-width="1"/>
<text x="191.3" y="557.4" font-size="12.6" text-anchor="end" stroke="#000" stroke-width="0.25">siFOXA2</text>
<text x="198.8" y="557.2" font-size="12.6" text-anchor="middle" stroke="#000" stroke-width="0.25">-</text>
<text x="220.4" y="557.2" font-size="12.6" text-anchor="middle" stroke="#000" stroke-width="0.25">+</text>
<text x="264.7" y="422.6" font-size="17" stroke="#000" stroke-width="0.25" font-weight="bold">h</text>
<text x="334.6" y="434.6" font-size="12.6" text-anchor="middle" stroke="#000" stroke-width="0.25">PC-3</text>
<line x1="312.5" y1="442.0" x2="312.5" y2="541.1" stroke="#222" stroke-width="1.1"/>
<line x1="312.5" y1="540.6" x2="373.1" y2="540.6" stroke="#222" stroke-width="1.1"/>
<line x1="309.5" y1="442.6" x2="312.5" y2="442.6" stroke="#222" stroke-width="1"/>
<text x="308.5" y="447.0" font-size="12.6" text-anchor="end" stroke="#000" stroke-width="0.25">800</text>
<line x1="309.5" y1="467.1" x2="312.5" y2="467.1" stroke="#222" stroke-width="1"/>
<text x="308.5" y="471.5" font-size="12.6" text-anchor="end" stroke="#000" stroke-width="0.25">600</text>
<line x1="309.5" y1="491.6" x2="312.5" y2="491.6" stroke="#222" stroke-width="1"/>
<text x="308.5" y="496.0" font-size="12.6" text-anchor="end" stroke="#000" stroke-width="0.25">400</text>
<line x1="309.5" y1="516.1" x2="312.5" y2="516.1" stroke="#222" stroke-width="1"/>
<text x="308.5" y="520.5" font-size="12.6" text-anchor="end" stroke="#000" stroke-width="0.25">200</text>
<line x1="309.5" y1="540.6" x2="312.5" y2="540.6" stroke="#222" stroke-width="1"/>
<text x="308.5" y="545.0" font-size="12.6" text-anchor="end" stroke="#000" stroke-width="0.25">0</text>
<text x="277.5" y="487.4" font-size="12.6" text-anchor="middle" stroke="#000" stroke-width="0.25" transform="rotate(-90 277.5 487.4)">Migrated cell #</text>
<rect x="321.3" y="460.4" width="16.8" height="80.2" fill="#808080" stroke="#222" stroke-width="0.8"/>
<rect x="347.6" y="511.8" width="17.1" height="28.8" fill="#f88e7e" stroke="#333" stroke-width="0.8"/>
<circle cx="325.7" cy="460.7" r="1.80" fill="#111"/>
<circle cx="329.7" cy="459.8" r="1.80" fill="#111"/>
<circle cx="333.7" cy="460.0" r="1.80" fill="#111"/>
<circle cx="352.2" cy="512.2" r="1.30" fill="#e83020"/>
<circle cx="356.2" cy="511.2" r="1.30" fill="#e83020"/>
<circle cx="360.2" cy="512.1" r="1.30" fill="#e83020"/>
<line x1="351.0" y1="511.2" x2="361.0" y2="511.2" stroke="#c03020" stroke-width="0.6"/>
<path d="M329.7 452.8V447.8H355.6V452.8" fill="none" stroke="#222" stroke-width="0.9"/>
<text x="342.7" y="450.3" font-size="10" text-anchor="middle" stroke="#000" stroke-width="0.15" font-weight="bold">**</text>
<line x1="329.7" y1="540.6" x2="329.7" y2="543.6" stroke="#222" stroke-width="1"/>
<line x1="356.2" y1="540.6" x2="356.2" y2="543.6" stroke="#222" stroke-width="1"/>
<text x="323.0" y="558.0" font-size="12.6" text-anchor="end" stroke="#000" stroke-width="0.25">siFOXA2</text>
<text x="330.2" y="558.0" font-size="12.6" text-anchor="middle" stroke="#000" stroke-width="0.25">-</text>
<text x="356.0" y="558.0" font-size="12.6" text-anchor="middle" stroke="#000" stroke-width="0.25">+</text>
<text x="399.8" y="421.7" font-size="17" stroke="#000" stroke-width="0.25" font-weight="bold">i</text>
<text x="475.8" y="436.8" font-size="12.6" text-anchor="middle" stroke="#000" stroke-width="0.25">PC-3</text>
<line x1="449.3" y1="439.5" x2="449.3" y2="540.3" stroke="#222" stroke-width="1.1"/>
<line x1="449.3" y1="539.8" x2="510.6" y2="539.8" stroke="#222" stroke-width="1.1"/>
<line x1="446.3" y1="439.8" x2="449.3" y2="439.8" stroke="#222" stroke-width="1"/>
<text x="445.3" y="444.2" font-size="12.6" text-anchor="end" stroke="#000" stroke-width="0.25">250</text>
<line x1="446.3" y1="459.8" x2="449.3" y2="459.8" stroke="#222" stroke-width="1"/>
<text x="445.3" y="464.2" font-size="12.6" text-anchor="end" stroke="#000" stroke-width="0.25">200</text>
<line x1="446.3" y1="479.8" x2="449.3" y2="479.8" stroke="#222" stroke-width="1"/>
<text x="445.3" y="484.2" font-size="12.6" text-anchor="end" stroke="#000" stroke-width="0.25">150</text>
<line x1="446.3" y1="499.8" x2="449.3" y2="499.8" stroke="#222" stroke-width="1"/>
<text x="445.3" y="504.2" font-size="12.6" text-anchor="end" stroke="#000" stroke-width="0.25">100</text>
<line x1="446.3" y1="519.8" x2="449.3" y2="519.8" stroke="#222" stroke-width="1"/>
<text x="445.3" y="524.2" font-size="12.6" text-anchor="end" stroke="#000" stroke-width="0.25">50</text>
<line x1="446.3" y1="539.8" x2="449.3" y2="539.8" stroke="#222" stroke-width="1"/>
<text x="445.3" y="544.2" font-size="12.6" text-anchor="end" stroke="#000" stroke-width="0.25">0</text>
<text x="418.5" y="488.0" font-size="12.6" text-anchor="middle" stroke="#000" stroke-width="0.25" transform="rotate(-90 418.5 488.0)">invaded cell #</text>
<line x1="466.9" y1="464.6" x2="466.9" y2="495.0" stroke="#999" stroke-width="0.7"/>
<line x1="463.5" y1="464.6" x2="470.5" y2="464.6" stroke="#222" stroke-width="0.7"/>
<rect x="458.5" y="479.8" width="16.9" height="60.0" fill="#808080" stroke="#222" stroke-width="0.8"/>
<line x1="463.5" y1="495.0" x2="470.5" y2="495.0" stroke="#222" stroke-width="0.7"/>
<circle cx="466.9" cy="462.6" r="1.90" fill="#111"/>
<circle cx="466.9" cy="485.8" r="1.90" fill="#111"/>
<circle cx="466.9" cy="491.8" r="1.90" fill="#111"/>
<rect x="485.0" y="537.8" width="17.0" height="2.0" fill="#f88e7e" stroke="#e03020" stroke-width="0.8"/>
<path d="M489.5 536.5L490.8 538.8L488.2 538.8Z" fill="#e83020"/>
<path d="M493.5 535.3L494.8 537.6L492.2 537.6Z" fill="#e83020"/>
<path d="M497.5 536.5L498.8 538.8L496.2 538.8Z" fill="#e83020"/>
<path d="M466.6 455.8V450.7H493.2V455.8" fill="none" stroke="#222" stroke-width="0.9"/>
<text x="479.9" y="452.6" font-size="10" text-anchor="middle" stroke="#000" stroke-width="0.15" font-weight="bold">**</text>
<line x1="466.9" y1="539.8" x2="466.9" y2="542.8" stroke="#222" stroke-width="1"/>
<line x1="493.5" y1="539.8" x2="493.5" y2="542.8" stroke="#222" stroke-width="1"/>
<text x="460.6" y="557.8" font-size="12.6" text-anchor="end" stroke="#000" stroke-width="0.25">siFOXA2</text>
<text x="467.3" y="557.8" font-size="12.6" text-anchor="middle" stroke="#000" stroke-width="0.25">-</text>
<text x="494.2" y="557.8" font-size="12.6" text-anchor="middle" stroke="#000" stroke-width="0.25">+</text>
<text x="515.5" y="422.0" font-size="17" stroke="#000" stroke-width="0.25" font-weight="bold">j</text>
<text x="626.2" y="433.6" font-size="12.6" text-anchor="middle" stroke="#000" stroke-width="0.25">PC-3</text>
<rect x="588.7" y="439.6" width="74.6" height="19.7" fill="#dfdfdf"/>
<g filter="url(#bl)"><rect x="592.0" y="446.5" width="13.0" height="3.0" rx="1.5" fill="#000"/><rect x="613.5" y="447.4" width="11.0" height="1.6" rx="0.8" fill="#333"/><rect x="632.0" y="446.9" width="11.0" height="1.5" rx="0.8" fill="#444"/></g>
<rect x="588.7" y="439.6" width="74.6" height="19.7" fill="none" stroke="#2a2a2a" stroke-width="1.0"/>
<text x="586.6" y="453.8" font-size="12.6" text-anchor="end" stroke="#000" stroke-width="0.25">p-Aurora A</text>
<rect x="588.7" y="462.3" width="74.6" height="19.5" fill="#dcdcdc"/>
<g filter="url(#bl)"><rect x="591.4" y="467.4" width="15.5" height="5.2" rx="2.6" fill="#000"/><rect x="611.2" y="467.2" width="15.0" height="5.6" rx="2.8" fill="#000"/><rect x="629.0" y="467.0" width="15.0" height="5.6" rx="2.8" fill="#000"/><rect x="645.5" y="466.2" width="15.0" height="6.4" rx="3.2" fill="#000"/></g>
<rect x="588.7" y="462.3" width="74.6" height="19.5" fill="none" stroke="#2a2a2a" stroke-width="1.0"/>
<text x="586.6" y="476.4" font-size="12.6" text-anchor="end" stroke="#000" stroke-width="0.25">Aurora A</text>
<rect x="588.7" y="484.8" width="74.6" height="20.0" fill="#dedede"/>
<g filter="url(#bl)"><rect x="591.6" y="496.8" width="15.0" height="2.4" rx="1.2" fill="#111"/><rect x="611.7" y="496.1" width="14.0" height="2.6" rx="1.3" fill="#111"/><rect x="629.5" y="495.9" width="14.0" height="2.6" rx="1.3" fill="#111"/><rect x="646.0" y="495.8" width="14.0" height="2.4" rx="1.2" fill="#222"/></g>
<rect x="588.7" y="484.8" width="74.6" height="20.0" fill="none" stroke="#2a2a2a" stroke-width="1.0"/>
<text x="586.6" y="499.1" font-size="12.6" text-anchor="end" stroke="#000" stroke-width="0.25">H3K4me2</text>
<rect x="588.7" y="507.8" width="74.6" height="19.9" fill="#dedede"/>
<g filter="url(#bl)"><rect x="591.6" y="517.4" width="15.0" height="3.2" rx="1.6" fill="#000"/><rect x="611.7" y="517.3" width="14.0" height="3.0" rx="1.5" fill="#000"/><rect x="629.5" y="517.0" width="14.0" height="3.2" rx="1.6" fill="#000"/><rect x="645.5" y="516.3" width="15.0" height="3.4" rx="1.7" fill="#000"/></g>
<rect x="588.7" y="507.8" width="74.6" height="19.9" fill="none" stroke="#2a2a2a" stroke-width="1.0"/>
<text x="586.6" y="522.0" font-size="12.6" text-anchor="end" stroke="#000" stroke-width="0.25">GAPDH</text>
<text x="664.0" y="448.2" font-size="10.2" stroke="#000" stroke-width="0.15">-50</text>
<text x="664.0" y="469.5" font-size="10.2" stroke="#000" stroke-width="0.15">-50</text>
<text x="664.0" y="503.1" font-size="10.2" stroke="#000" stroke-width="0.15">-15</text>
<text x="664.0" y="517.7" font-size="10.2" stroke="#000" stroke-width="0.15">-37</text>
<text x="664.5" y="531.2" font-size="10.2" stroke="#000" stroke-width="0.15">kDa</text>
<text x="586.0" y="542.3" font-size="12.6" text-anchor="end" stroke="#000" stroke-width="0.25">ORY1001</text>
<text x="565.7" y="557.0" font-size="12.6" text-anchor="middle" stroke="#000" stroke-width="0.25">(μM)</text>
<text x="602.0" y="542.3" font-size="12.6" text-anchor="middle" stroke="#000" stroke-width="0.25">0</text>
<text x="619.4" y="542.3" font-size="12.6" text-anchor="middle" stroke="#000" stroke-width="0.25">1</text>
<text x="637.0" y="542.3" font-size="12.6" text-anchor="middle" stroke="#000" stroke-width="0.25">10</text>
<text x="658.2" y="542.3" font-size="12.6" text-anchor="middle" stroke="#000" stroke-width="0.25">50</text>
<text x="9.8" y="588.5" font-size="17" stroke="#000" stroke-width="0.25" font-weight="bold">k</text>
<text x="50.0" y="644.5" font-size="12.6" text-anchor="end" stroke="#000" stroke-width="0.25">PC-3</text>
<defs><radialGradient id="well" cx="0.5" cy="0.5" r="0.5"><stop offset="0" stop-color="#f4f3f6"/><stop offset="0.8" stop-color="#eeedf3"/><stop offset="0.93" stop-color="#d9d6ea"/><stop offset="1" stop-color="#b8b2d8"/></radialGradient><radialGradient id="well2" cx="0.5" cy="0.5" r="0.5"><stop offset="0" stop-color="#f6f5f7"/><stop offset="0.85" stop-color="#efeef3"/><stop offset="0.95" stop-color="#dcd8e8"/><stop offset="1" stop-color="#c4bedc"/></radialGradient></defs>
<rect x="54.5" y="585.0" width="79.3" height="117.1" fill="#f3f3f3"/>
<rect x="134.0" y="585.0" width="79.3" height="117.1" fill="#f3f3f3"/>
<circle cx="73.6" cy="604.6" r="16.9" fill="url(#well)" stroke="#cfcde0" stroke-width="0.6"/>
<path d="M77.6 590.8h0M72.6 588.8h0M89.0 607.4h0M84.8 600.4h0M84.7 596.6h0M66.9 605.9h0M64.7 602.1h0M86.5 605.7h0M72.0 613.3h0M75.1 589.0h0M75.9 597.2h0M68.2 599.6h0M80.7 604.7h0M77.5 619.5h0M82.3 603.6h0M69.8 619.5h0M58.1 600.7h0M77.5 617.9h0M67.8 589.9h0M86.2 594.7h0M67.2 612.3h0M78.4 610.9h0M71.9 609.8h0M86.9 604.9h0M66.3 616.4h0M77.8 595.4h0M68.7 615.7h0M70.2 593.0h0M78.7 603.8h0M73.6 601.0h0M88.7 606.3h0M63.8 615.6h0M86.6 605.3h0M75.6 608.9h0M78.9 619.6h0M86.7 598.4h0M64.7 617.7h0M63.0 602.9h0M85.0 613.8h0M77.8 590.8h0M88.5 608.1h0M86.9 613.2h0M65.5 597.8h0M65.2 617.8h0M58.5 600.2h0M69.4 613.9h0M80.8 608.4h0M70.8 597.6h0M82.1 618.4h0M78.4 604.2h0M63.1 611.6h0M66.0 599.5h0M59.1 608.7h0M84.4 608.5h0M88.9 607.8h0M80.1 594.2h0M72.8 597.5h0M62.7 593.0h0M85.2 613.8h0M80.5 614.0h0M69.4 619.2h0M85.4 604.5h0M88.6 602.3h0M61.8 605.5h0M59.4 606.5h0M65.5 610.2h0M68.2 609.9h0M89.2 600.6h0M60.1 604.7h0M82.5 610.2h0M75.5 595.2h0M63.7 616.3h0M75.9 590.0h0M66.4 592.6h0M64.1 615.6h0M70.9 618.4h0M75.1 592.5h0M69.8 618.1h0M64.3 591.8h0M86.6 605.5h0M73.5 617.3h0M60.1 607.8h0M64.6 592.6h0M65.0 616.7h0M72.6 591.0h0M64.8 616.8h0M84.0 593.5h0M87.4 602.5h0M57.8 602.8h0M79.9 615.5h0M87.6 598.8h0M69.3 593.3h0M71.8 590.5h0M75.1 596.7h0M67.0 593.3h0M65.4 596.5h0M64.0 593.5h0M87.6 607.1h0M66.3 607.4h0M76.2 618.0h0M64.1 594.4h0M69.1 605.4h0M82.0 607.6h0M70.6 611.2h0M76.5 612.3h0M69.4 605.5h0M65.2 597.5h0M74.6 617.7h0M89.2 604.7h0M71.6 615.7h0M82.1 612.1h0M63.0 615.3h0M70.4 601.8h0M67.5 602.8h0M64.4 599.5h0M80.3 590.1h0M78.0 594.0h0M64.3 614.5h0M67.5 600.4h0M86.0 601.2h0M61.2 594.5h0M82.0 598.0h0M74.4 605.2h0M63.9 596.0h0M68.5 599.2h0M62.6 615.5h0M75.3 616.1h0M83.4 602.9h0M84.3 601.9h0M60.7 595.7h0M83.0 603.5h0M63.0 610.8h0M83.8 603.6h0M70.8 616.5h0M82.3 613.0h0M61.0 609.3h0M75.6 594.9h0M88.6 605.8h0M71.7 617.1h0M76.7 589.1h0M72.6 613.8h0M81.3 604.1h0M65.9 598.4h0M66.2 595.1h0M73.1 591.4h0M74.1 597.7h0M63.8 602.5h0M70.6 614.6h0" stroke="#3b36c8" stroke-width="0.64" stroke-linecap="round" stroke-opacity="0.85"/>
<path d="M61.3 607.4h0M73.3 593.8h0M86.4 607.6h0M64.6 607.2h0M85.5 594.5h0M86.3 605.8h0M60.4 611.0h0M70.2 592.0h0M60.2 606.1h0M61.8 614.9h0M80.3 595.7h0M71.2 612.7h0M87.4 610.7h0M68.4 590.4h0M71.0 615.9h0M86.0 596.8h0M66.2 605.6h0M60.8 604.8h0M79.5 613.2h0M78.6 592.5h0M74.3 610.1h0M77.5 590.1h0M87.2 606.8h0M87.7 602.7h0M68.7 589.1h0M76.3 600.5h0M68.2 597.6h0M69.9 589.1h0M71.7 611.6h0M82.8 617.3h0M62.2 611.5h0M68.0 599.2h0M77.2 607.5h0M83.5 609.4h0M69.0 602.2h0M84.0 594.6h0M67.0 607.6h0M65.3 598.6h0M84.9 600.0h0M83.9 608.4h0M81.8 616.0h0M60.1 604.1h0M58.9 599.3h0M72.5 618.0h0M73.3 617.4h0M59.2 603.1h0M74.3 611.8h0M72.7 593.7h0M71.7 596.7h0M85.4 611.6h0M85.2 612.1h0M67.7 600.7h0M80.1 598.2h0M68.2 615.4h0M88.2 607.3h0M87.1 609.3h0M80.9 602.3h0M75.9 618.3h0M80.4 603.4h0M79.5 592.2h0M68.4 599.4h0M74.6 615.3h0M65.7 597.7h0M65.6 611.6h0M77.2 598.2h0M78.2 591.8h0M80.5 595.3h0M63.2 597.7h0M72.8 591.6h0M82.8 611.0h0M74.8 608.6h0M77.0 601.7h0M74.4 592.5h0M72.9 604.7h0M62.3 594.0h0M62.3 607.1h0M77.2 609.9h0M68.1 610.1h0M81.7 597.0h0M73.4 612.2h0M78.7 612.9h0M74.5 614.4h0M85.5 607.0h0M62.9 616.1h0M67.6 590.0h0M60.0 607.0h0M85.3 615.3h0M70.1 618.0h0M71.8 590.9h0M76.0 612.1h0M74.1 608.3h0M68.8 608.0h0M63.0 616.7h0M63.6 606.6h0M72.5 594.9h0M81.0 616.8h0M69.3 596.5h0M64.0 592.0h0M85.0 602.8h0M75.6 605.4h0M61.2 612.5h0M69.1 603.2h0M57.6 602.7h0M82.5 610.5h0M78.1 601.3h0M84.8 599.8h0M73.8 609.6h0M69.7 607.6h0M73.4 609.9h0M69.7 615.2h0M78.4 605.8h0M80.5 619.1h0M63.5 611.7h0M84.5 611.0h0M81.5 611.0h0M84.8 598.6h0M81.8 594.3h0M82.3 605.6h0M61.0 605.7h0M64.3 613.7h0M71.6 591.3h0M68.1 619.2h0M79.0 594.2h0M80.3 610.5h0M82.3 609.9h0M79.8 591.3h0M80.6 612.0h0M73.8 610.6h0M68.2 607.2h0M74.0 617.6h0M72.0 599.5h0M75.1 609.2h0M66.7 611.6h0M68.0 607.7h0M73.7 594.4h0M83.8 596.8h0M74.4 590.9h0M61.4 609.2h0M65.2 592.2h0M71.4 588.8h0M72.0 618.6h0M62.6 614.7h0M80.2 607.5h0M73.0 612.5h0M70.5 618.1h0M74.1 599.2h0M86.2 606.8h0M77.0 608.2h0" stroke="#3b36c8" stroke-width="1.04" stroke-linecap="round" stroke-opacity="0.85"/>
<circle cx="73.6" cy="604.6" r="16.2" fill="none" stroke="#4a42c8" stroke-opacity="0.45" stroke-width="0.8"/>
<path d="M88.8 599.9 A15.9 15.9 0 0 1 64.2 617.5" fill="none" stroke="#4a42c8" stroke-opacity="0.75" stroke-width="1.4"/>
<circle cx="73.6" cy="642.0" r="16.9" fill="url(#well)" stroke="#cfcde0" stroke-width="0.6"/>
<path d="M88.1 637.2h0M75.2 655.2h0M66.1 650.8h0M84.0 642.8h0M79.7 630.4h0M85.4 650.0h0M79.6 653.1h0M60.3 646.7h0M78.0 626.8h0M70.8 648.3h0M58.4 645.8h0M62.8 646.2h0M87.0 636.3h0M86.0 639.6h0M84.1 650.0h0M60.5 649.2h0M78.5 641.3h0M69.9 640.1h0M82.5 633.8h0M76.0 652.9h0M76.5 651.3h0M65.6 652.1h0M74.4 656.4h0M73.7 652.7h0M82.2 628.4h0M62.4 631.7h0M80.6 650.8h0M58.6 642.9h0M75.7 645.8h0M72.3 635.7h0M78.5 656.8h0M67.0 655.2h0M82.7 631.4h0M77.8 629.2h0M84.6 642.7h0M63.0 635.6h0M67.3 647.3h0M83.7 643.7h0M66.1 648.8h0M70.1 630.5h0M84.8 640.8h0M86.9 635.1h0M66.9 629.7h0M77.4 629.9h0M64.6 636.0h0M59.8 640.1h0M82.3 646.6h0M69.8 646.8h0M74.4 629.0h0M68.6 655.3h0M71.2 657.6h0M86.4 648.2h0M66.6 629.3h0M86.3 632.4h0M81.0 630.1h0M62.6 632.8h0M65.0 641.1h0M74.7 657.5h0M58.2 637.6h0M84.8 642.2h0M78.5 652.0h0M84.6 633.9h0M61.8 631.8h0M82.2 649.0h0M60.4 637.4h0M63.6 652.1h0M77.2 657.0h0M72.5 652.0h0M84.3 633.9h0M68.3 636.1h0M75.9 656.4h0M68.7 639.8h0M84.5 631.6h0M61.2 649.1h0M62.3 639.9h0M68.6 656.8h0M65.9 636.0h0M79.7 656.8h0M76.6 644.7h0M63.3 634.2h0M76.6 649.7h0M65.6 631.5h0M71.8 628.1h0M68.3 642.5h0M88.2 638.0h0M79.7 633.7h0M85.8 635.9h0M70.6 633.5h0M58.6 644.2h0M75.9 648.1h0M80.1 646.3h0M67.9 636.9h0M73.9 635.4h0M79.4 628.9h0M70.2 627.5h0M88.7 637.8h0M86.7 639.1h0M78.8 645.9h0M75.1 647.2h0M63.0 644.8h0M73.0 628.1h0M68.7 645.4h0M64.6 651.0h0M68.0 638.1h0M69.2 632.0h0M85.5 639.2h0M87.9 649.0h0M71.0 627.7h0M81.0 648.7h0M66.2 651.6h0M86.1 635.0h0M70.8 652.7h0M69.6 630.4h0M60.5 635.2h0M68.4 650.5h0M58.5 640.2h0M69.3 644.3h0M69.0 634.1h0M72.8 647.7h0M67.3 642.9h0M58.0 637.9h0M83.7 637.5h0M69.8 646.9h0M88.5 642.5h0M64.2 653.2h0M73.6 645.1h0M64.8 650.0h0M85.4 646.1h0M82.3 640.6h0M62.1 644.1h0M72.5 648.0h0M67.5 627.3h0M85.3 646.0h0M75.6 631.0h0M63.9 635.6h0M64.1 629.7h0" stroke="#3b36c8" stroke-width="0.64" stroke-linecap="round" stroke-opacity="0.85"/>
<path d="M86.8 645.0h0M74.0 638.4h0M81.6 633.9h0M86.6 634.4h0M84.6 641.9h0M84.9 632.9h0M75.1 634.6h0M84.9 640.0h0M77.0 657.8h0M72.1 653.4h0M70.9 653.7h0M83.5 651.7h0M65.9 644.1h0M69.4 645.9h0M85.3 631.7h0M82.0 643.0h0M88.2 638.3h0M82.3 652.0h0M81.6 637.6h0M89.1 645.1h0M66.2 645.6h0M73.8 632.4h0M75.3 631.2h0M66.0 641.1h0M68.8 626.7h0M78.3 646.0h0M64.0 651.6h0M62.8 643.5h0M86.4 639.2h0M65.3 638.2h0M64.5 639.3h0M83.2 652.7h0M70.3 630.4h0M73.9 639.7h0M62.1 641.7h0M77.1 629.2h0M68.5 642.0h0M70.3 644.9h0M84.1 643.4h0M64.1 645.1h0M85.8 635.8h0M62.9 640.0h0M86.7 636.6h0M89.4 640.8h0M78.6 650.7h0M87.5 649.4h0M72.6 630.3h0M64.0 650.1h0M68.8 657.0h0M79.7 630.8h0M69.2 647.9h0M62.4 637.1h0M65.3 644.5h0M78.1 644.8h0M80.1 650.3h0M72.3 658.0h0M75.6 632.5h0M72.5 656.4h0M63.0 631.3h0M65.9 634.0h0M72.8 651.2h0M59.3 647.8h0M80.5 655.9h0M80.5 644.4h0M60.3 636.6h0M76.0 642.7h0M58.6 642.5h0M88.5 645.8h0M83.3 650.8h0M62.7 632.8h0M76.0 655.1h0M85.8 652.2h0M71.4 637.1h0M79.3 644.6h0M66.5 632.4h0M70.8 626.8h0M70.1 637.6h0M84.6 652.4h0M72.8 656.5h0M83.6 642.1h0M59.1 640.6h0M58.4 645.3h0M75.2 649.5h0M82.6 638.9h0M80.9 646.5h0M83.0 647.1h0M65.3 634.0h0M79.8 654.2h0M66.2 642.4h0M60.4 646.6h0M84.7 635.2h0M72.8 649.4h0M61.7 639.2h0M59.0 636.7h0M61.6 648.7h0M81.2 629.4h0M81.3 648.2h0M67.7 649.4h0M72.2 657.4h0M65.0 631.6h0M85.5 652.6h0M66.1 654.5h0M69.2 637.2h0M60.4 634.5h0M78.4 641.1h0M66.4 633.6h0M72.6 656.2h0M68.2 652.0h0M79.4 644.5h0M61.6 649.6h0M87.8 647.9h0M77.9 651.1h0M77.6 626.7h0M58.1 641.4h0M67.9 645.3h0M82.4 643.5h0M70.4 654.5h0M67.0 641.5h0M88.5 636.7h0M83.1 649.2h0M84.6 651.6h0M84.5 648.4h0M58.0 637.7h0M72.0 653.5h0M86.2 639.8h0M76.5 653.2h0M84.4 635.9h0M66.2 633.8h0M66.4 655.9h0M58.9 639.3h0M80.6 644.4h0M58.1 645.4h0M83.8 636.2h0M60.6 642.0h0M73.2 632.2h0M64.4 643.7h0M62.1 633.1h0" stroke="#3b36c8" stroke-width="1.04" stroke-linecap="round" stroke-opacity="0.85"/>
<circle cx="73.6" cy="642.0" r="16.2" fill="none" stroke="#4a42c8" stroke-opacity="0.45" stroke-width="0.8"/>
<path d="M88.8 637.3 A15.9 15.9 0 0 1 64.2 654.9" fill="none" stroke="#4a42c8" stroke-opacity="0.75" stroke-width="1.4"/>
<circle cx="73.6" cy="680.6" r="16.9" fill="url(#well)" stroke="#cfcde0" stroke-width="0.6"/>
<path d="M70.7 672.5h0M85.0 689.2h0M84.4 692.6h0M80.3 684.8h0M65.0 672.6h0M81.5 693.6h0M84.7 689.2h0M73.4 693.7h0M83.8 684.1h0M83.8 690.5h0M66.1 693.1h0M65.2 670.5h0M82.1 671.9h0M70.5 696.0h0M81.1 673.3h0M67.3 684.1h0M84.9 678.9h0M69.6 674.7h0M71.6 666.2h0M74.6 680.2h0M79.7 672.5h0M61.5 687.2h0M66.8 667.1h0M72.4 670.1h0M70.6 668.6h0M77.4 667.8h0M65.8 680.9h0M73.9 679.5h0M81.2 668.1h0M69.1 679.6h0M82.4 688.8h0M82.1 679.2h0M74.7 695.8h0M64.8 668.4h0M66.8 671.9h0M72.3 689.5h0M72.2 678.5h0M73.1 667.6h0M62.3 685.5h0M72.7 670.5h0M64.6 674.4h0M60.0 685.6h0M86.5 685.9h0M78.7 672.6h0M80.7 683.2h0M73.9 677.6h0M67.2 682.3h0M77.4 669.6h0M61.7 679.0h0M74.6 677.1h0M63.2 670.4h0M62.2 670.7h0M82.0 669.2h0M86.9 682.3h0M89.0 679.6h0M81.4 684.0h0M82.1 686.8h0M82.8 686.4h0M82.5 680.8h0M70.0 691.6h0M62.7 689.8h0M81.2 678.3h0M67.8 666.2h0M66.4 685.7h0M63.7 687.0h0M70.0 681.6h0M68.5 666.9h0M67.4 666.7h0M83.6 670.0h0M77.8 665.5h0M67.5 671.0h0M83.8 671.4h0M60.3 685.5h0M69.7 688.0h0M69.7 672.1h0M78.8 694.3h0M80.4 670.0h0M82.6 686.7h0M65.0 690.7h0M71.8 687.9h0M74.9 682.4h0M82.7 687.7h0M71.6 680.0h0M81.6 666.8h0M82.8 675.9h0M77.1 685.4h0M75.7 681.4h0M74.2 667.4h0M77.6 669.2h0M83.9 674.8h0M60.7 677.5h0M66.4 684.2h0M78.8 670.1h0M71.1 689.3h0M87.1 687.0h0M76.0 693.0h0M62.2 672.9h0M72.8 674.3h0M68.7 690.8h0M76.3 665.6h0M69.1 671.5h0M66.6 679.8h0M69.8 676.0h0M63.3 668.8h0M69.1 680.2h0M62.4 684.8h0M72.3 688.1h0M84.2 685.7h0M74.2 694.4h0M81.9 685.9h0M82.7 676.4h0M81.8 686.2h0M83.6 677.0h0M70.2 685.7h0M70.0 672.7h0M83.3 687.5h0M66.4 694.1h0M60.3 684.7h0M87.9 686.1h0M71.6 689.4h0M77.8 672.0h0M66.6 690.7h0M80.6 670.4h0M61.2 684.5h0M63.3 671.5h0M63.5 685.6h0M66.9 683.3h0" stroke="#3b36c8" stroke-width="0.64" stroke-linecap="round" stroke-opacity="0.85"/>
<path d="M68.3 695.1h0M65.0 674.0h0M79.5 692.3h0M72.4 668.9h0M77.1 683.5h0M85.6 672.5h0M78.4 683.3h0M70.7 693.7h0M87.0 683.5h0M79.8 690.7h0M70.0 670.8h0M81.1 670.7h0M62.5 670.3h0M80.3 694.2h0M68.5 691.5h0M83.9 689.3h0M63.0 691.8h0M87.4 675.4h0M61.4 690.7h0M88.8 680.3h0M73.5 673.4h0M59.8 684.3h0M78.1 689.2h0M83.9 675.9h0M73.2 691.9h0M61.2 685.7h0M60.8 684.4h0M83.2 682.8h0M65.5 668.0h0M64.4 680.6h0M60.5 680.3h0M76.4 665.3h0M68.3 689.2h0M80.6 692.0h0M88.7 685.0h0M71.8 692.8h0M85.6 684.1h0M82.5 680.0h0M76.3 695.1h0M85.2 683.0h0M76.1 687.1h0M67.5 695.5h0M82.1 684.3h0M80.3 680.4h0M86.2 673.7h0M76.7 665.8h0M78.2 688.8h0M82.4 684.4h0M72.1 672.7h0M85.8 681.4h0M79.5 672.4h0M71.6 665.5h0M85.8 673.1h0M64.1 689.2h0M71.0 693.3h0M73.3 684.9h0M82.2 688.7h0M73.7 686.5h0M84.1 677.7h0M79.9 670.2h0M61.5 672.7h0M65.5 687.0h0M66.8 672.9h0M77.4 665.9h0M79.5 688.6h0M71.5 679.4h0M82.6 680.9h0M75.0 690.6h0M69.2 673.2h0M71.0 693.4h0M77.5 694.4h0M85.1 691.3h0M69.9 668.0h0M59.3 681.8h0M63.0 669.5h0M85.9 687.3h0M65.5 682.4h0M84.1 687.8h0M65.4 692.4h0M61.7 678.9h0M68.7 694.9h0M63.5 672.7h0M68.4 693.3h0M64.0 682.4h0M65.5 670.2h0M66.8 683.0h0M78.0 692.7h0M79.5 677.8h0M70.2 680.6h0M83.4 682.5h0M78.7 688.8h0M83.1 674.6h0M70.1 685.3h0M63.7 670.7h0M74.1 684.0h0M81.3 674.6h0M73.0 692.3h0M61.6 681.7h0M69.8 674.0h0M59.5 682.6h0M75.2 668.0h0M61.5 670.2h0M68.9 680.5h0M66.9 692.6h0M64.2 690.9h0M63.5 671.8h0M85.9 674.4h0M70.0 666.9h0M75.3 694.6h0M63.9 671.4h0M73.7 675.3h0M64.6 681.0h0M71.4 668.3h0M59.3 683.5h0M58.8 686.1h0M86.5 679.9h0M71.3 670.5h0M87.3 688.7h0M65.1 668.6h0M76.7 668.3h0M82.8 692.8h0M64.5 672.5h0M87.2 677.0h0M80.6 667.5h0M68.7 683.0h0M88.4 675.4h0M66.3 693.2h0" stroke="#3b36c8" stroke-width="1.04" stroke-linecap="round" stroke-opacity="0.85"/>
<circle cx="73.6" cy="680.6" r="16.2" fill="none" stroke="#4a42c8" stroke-opacity="0.45" stroke-width="0.8"/>
<path d="M88.8 675.9 A15.9 15.9 0 0 1 64.2 693.5" fill="none" stroke="#4a42c8" stroke-opacity="0.75" stroke-width="1.4"/>
<circle cx="111.6" cy="604.6" r="16.9" fill="url(#well)" stroke="#cfcde0" stroke-width="0.6"/>
<path d="M105.4 593.7h0M120.6 594.5h0M125.5 602.0h0M99.4 605.1h0M98.9 599.4h0M116.3 603.4h0M101.3 604.6h0M113.3 608.9h0M108.9 620.1h0M115.4 595.3h0M107.0 596.6h0M121.9 596.8h0M105.9 615.2h0M105.4 611.7h0M111.9 604.9h0M108.6 611.6h0M125.2 599.4h0M111.6 615.3h0M104.8 597.4h0M120.5 612.7h0M110.1 617.0h0M113.2 597.3h0M105.5 607.1h0M97.5 600.7h0M105.3 618.6h0M126.9 608.9h0M97.8 611.7h0M111.5 606.2h0M108.2 588.8h0M117.0 591.3h0M110.8 606.6h0M121.7 598.1h0M120.8 617.2h0M96.4 599.2h0M120.4 609.6h0M100.2 603.1h0M107.2 615.6h0M95.9 607.1h0M113.3 594.6h0M103.4 608.9h0M112.1 611.1h0M99.9 593.4h0M105.8 593.5h0M97.9 602.8h0M118.1 613.3h0M114.5 607.3h0M122.9 605.3h0M104.4 616.4h0M108.1 613.0h0M114.7 616.4h0M96.5 606.2h0M116.4 607.4h0M97.9 597.3h0M109.3 595.0h0M115.2 601.6h0M103.5 591.0h0M107.2 606.8h0M99.0 596.2h0M112.4 613.2h0M106.3 603.9h0M103.9 607.4h0M124.2 595.5h0M114.2 592.7h0M118.5 602.3h0M96.4 606.3h0M107.1 619.4h0M104.5 619.0h0M119.8 591.2h0M109.3 589.0h0M110.5 610.2h0M123.1 597.2h0M125.1 608.0h0M105.6 613.4h0M112.9 612.5h0M102.9 613.5h0M103.5 609.6h0M98.6 595.5h0M124.8 598.7h0M114.6 601.8h0M113.7 610.6h0M111.9 590.2h0M98.4 606.6h0M98.8 610.8h0M113.2 612.9h0M118.2 606.1h0M126.7 599.7h0M102.5 610.2h0M113.5 595.1h0M117.5 615.3h0M125.5 597.9h0M107.0 605.8h0M105.9 597.8h0M108.4 614.9h0M103.7 598.3h0M99.3 605.5h0M97.9 606.9h0M96.9 610.6h0M125.0 598.4h0M100.2 597.5h0M108.1 590.3h0M104.3 608.8h0M119.3 605.6h0M105.0 616.9h0M120.9 606.1h0M109.9 601.5h0M101.7 608.8h0M123.2 597.0h0M114.3 618.4h0M118.1 619.4h0M103.5 594.3h0M119.2 598.3h0M108.3 591.7h0M115.2 598.2h0M104.3 597.9h0M105.3 617.5h0M107.0 612.9h0M102.8 591.2h0M100.5 600.0h0M110.6 618.3h0M116.1 608.3h0M101.0 597.0h0M99.9 593.5h0M126.8 603.3h0M100.8 610.4h0M103.3 613.3h0M98.7 598.0h0M118.3 602.7h0M111.5 592.0h0M100.8 597.9h0M121.4 613.2h0M110.7 597.5h0M119.0 612.3h0M111.4 589.6h0M100.5 614.1h0M112.0 597.4h0M107.3 597.0h0M109.6 618.5h0M110.4 603.8h0M99.1 596.8h0M113.8 620.6h0M98.5 610.3h0M107.4 617.0h0M103.0 601.9h0M122.8 597.4h0M98.3 604.6h0M102.1 594.8h0M110.4 615.9h0M101.0 613.7h0M113.7 608.4h0M107.4 594.7h0M97.9 605.4h0M104.7 617.9h0M111.7 593.9h0M99.2 610.8h0M126.9 607.2h0M119.6 594.8h0M117.0 619.0h0M97.0 601.5h0M104.1 618.5h0M102.9 593.9h0M103.0 618.3h0M119.5 612.5h0M124.2 610.6h0M120.8 616.7h0M119.6 602.0h0M112.0 592.3h0M112.1 615.2h0M122.4 603.4h0M118.5 599.9h0M105.1 590.6h0M110.4 595.1h0M98.6 596.0h0M104.8 599.0h0M98.2 596.0h0M113.8 611.8h0M124.5 608.6h0M110.8 605.4h0M102.2 605.0h0M106.3 602.5h0M105.9 617.3h0M98.7 602.4h0M98.5 597.8h0M99.1 599.3h0M123.9 613.2h0M116.1 599.5h0M126.7 605.4h0M99.6 594.8h0M107.0 590.1h0M119.9 611.8h0M108.0 590.5h0M110.0 616.5h0M121.6 600.4h0M114.6 616.2h0M127.6 602.4h0M114.3 612.3h0M100.8 613.9h0M106.7 593.6h0M103.6 599.2h0M113.1 613.1h0M100.2 610.2h0M121.2 616.8h0M110.4 620.2h0M119.9 611.2h0M121.8 603.4h0M117.2 595.3h0M106.2 589.5h0M104.1 608.0h0M111.6 612.5h0M116.9 613.6h0M97.8 602.6h0M111.3 614.5h0M117.2 609.5h0M122.0 609.9h0M111.2 617.1h0M110.1 619.1h0M126.0 599.5h0M113.8 620.2h0M96.1 607.4h0M96.5 608.1h0M110.9 617.3h0M101.8 615.3h0M107.5 589.7h0M122.9 606.8h0M103.3 609.4h0M102.1 599.2h0M109.7 605.0h0M126.4 600.1h0M106.2 591.7h0M124.9 604.5h0M97.3 608.3h0M123.0 600.1h0M101.2 597.2h0M106.4 595.9h0M123.0 600.4h0M127.8 604.2h0M126.9 608.9h0M108.6 609.4h0M97.6 599.2h0M119.2 610.2h0M118.1 611.3h0M111.4 597.1h0M115.8 611.9h0M120.7 614.4h0M102.7 592.4h0M109.3 589.4h0M110.0 618.8h0M103.2 612.5h0M121.1 598.8h0M115.1 593.5h0" stroke="#3b36c8" stroke-width="0.64" stroke-linecap="round" stroke-opacity="0.85"/>
<path d="M123.3 611.3h0M103.9 600.5h0M113.2 619.3h0M104.9 611.1h0M101.2 610.3h0M99.4 594.7h0M106.2 612.7h0M118.2 615.1h0M121.8 609.0h0M120.8 594.4h0M98.9 595.7h0M101.3 600.5h0M117.3 616.1h0M98.9 604.8h0M103.7 607.6h0M102.1 592.9h0M112.3 615.0h0M98.8 600.2h0M101.8 606.4h0M103.7 596.5h0M100.9 615.6h0M99.9 599.8h0M112.2 618.4h0M119.8 600.3h0M108.4 597.8h0M102.1 605.1h0M112.4 616.4h0M119.4 602.5h0M114.4 608.0h0M101.7 615.0h0M113.0 596.3h0M115.8 620.1h0M100.4 613.2h0M98.3 595.3h0M103.5 591.3h0M104.9 607.2h0M119.7 616.2h0M117.7 604.2h0M102.4 591.8h0M110.0 599.5h0M114.9 588.8h0M98.4 609.8h0M123.7 598.6h0M122.6 610.1h0M118.8 602.4h0M124.6 599.0h0M117.6 609.2h0M99.1 610.7h0M112.9 616.5h0M114.5 590.3h0M98.7 610.7h0M101.9 612.0h0M106.1 615.2h0M123.2 601.8h0M121.4 615.8h0M117.5 592.1h0M119.7 597.8h0M125.9 611.4h0M101.8 613.8h0M100.2 601.0h0M101.2 593.4h0M111.7 620.1h0M100.1 613.9h0M114.3 596.8h0M113.6 617.5h0M96.1 605.4h0M125.4 603.3h0M101.6 601.8h0M108.8 617.0h0M123.9 601.9h0M110.2 618.6h0M101.2 595.4h0M106.4 595.0h0M113.7 593.8h0M116.6 594.7h0M116.3 613.4h0M118.9 612.0h0M127.0 604.2h0M112.3 616.0h0M120.8 592.2h0M108.4 613.3h0M119.9 613.7h0M104.6 609.8h0M115.9 610.1h0M107.4 617.2h0M126.8 600.8h0M109.4 618.3h0M103.9 616.9h0M98.0 611.7h0M111.7 590.6h0M111.8 590.5h0M117.7 613.2h0M122.1 601.8h0M110.7 608.8h0M102.2 608.3h0M118.8 618.1h0M118.1 605.3h0M110.1 594.2h0M104.4 595.2h0M103.7 614.1h0M122.6 607.5h0M109.9 588.8h0M113.5 610.7h0M96.9 603.9h0M111.8 590.2h0M114.9 597.9h0M117.1 611.1h0M117.4 591.4h0M104.0 611.2h0M107.7 618.4h0M123.3 604.0h0M118.3 602.1h0M127.1 604.3h0M114.6 613.4h0M117.1 614.9h0M97.4 597.8h0M96.5 605.4h0M123.4 601.2h0M112.7 611.6h0M98.7 596.5h0M126.3 604.1h0M100.3 595.3h0M97.4 601.7h0M107.6 612.5h0M96.1 602.0h0M109.0 601.4h0M100.2 593.1h0M99.8 607.9h0M101.5 595.7h0M121.6 597.7h0M114.7 589.5h0M108.8 590.6h0M103.1 605.1h0M114.3 613.8h0M113.5 620.4h0M119.1 591.7h0M122.8 606.3h0M106.6 598.2h0M102.9 615.8h0M118.5 615.9h0M114.3 591.2h0M98.0 598.9h0M124.6 604.8h0M103.6 609.9h0M116.7 607.1h0M105.1 590.0h0M106.8 592.6h0M101.5 593.1h0M102.6 611.8h0M127.0 600.0h0M114.8 597.7h0M104.1 615.9h0M109.4 618.5h0M98.2 599.4h0M123.9 609.1h0M126.6 600.3h0M107.7 618.6h0M122.2 614.1h0M104.4 615.1h0M108.6 616.2h0M106.4 606.8h0M115.7 612.7h0M119.0 612.0h0M115.1 604.0h0M115.6 601.4h0M119.9 612.5h0M100.0 604.1h0M106.7 603.2h0M110.9 606.8h0M119.5 592.9h0M104.8 609.1h0M105.3 619.2h0M111.7 611.5h0M103.0 617.3h0M124.3 599.3h0M115.9 617.3h0M106.1 615.4h0M102.5 596.6h0M105.6 589.7h0M116.2 593.1h0M115.9 616.2h0M109.8 618.3h0M104.9 610.2h0M123.5 607.0h0M122.1 602.0h0M103.2 613.7h0M107.8 593.4h0M101.4 611.5h0M109.5 617.5h0M99.2 611.0h0M103.4 616.1h0M116.1 617.4h0M99.5 605.2h0M113.7 606.8h0M112.7 592.8h0M119.9 592.2h0M126.2 601.5h0M116.5 611.5h0M113.5 597.5h0M108.2 612.2h0M117.8 600.6h0M112.4 613.2h0M107.8 592.0h0M107.7 602.5h0M99.7 600.4h0M115.3 592.7h0M121.2 593.1h0M121.7 607.3h0M123.4 606.6h0M98.2 606.3h0M118.8 592.1h0M106.6 591.2h0M110.0 594.3h0M114.2 617.9h0M96.5 607.2h0M115.7 616.5h0M96.7 607.1h0M119.5 592.5h0M100.9 598.2h0M112.5 616.5h0M124.6 597.5h0M115.7 605.5h0M122.1 610.4h0M105.2 614.4h0M113.1 595.5h0M123.1 598.4h0M105.4 610.3h0M113.5 591.4h0M116.1 615.2h0M101.5 600.0h0M102.3 591.6h0M119.2 591.5h0M100.0 604.2h0M109.1 589.7h0M115.8 615.0h0M107.8 618.4h0M111.5 614.1h0M103.1 593.5h0M98.2 596.2h0M120.7 596.5h0M105.4 600.7h0M103.6 618.6h0M117.4 609.6h0M111.2 600.8h0M116.5 594.3h0M126.5 607.1h0M110.7 614.7h0M121.0 606.3h0M106.6 612.5h0M100.0 602.3h0" stroke="#3b36c8" stroke-width="1.04" stroke-linecap="round" stroke-opacity="0.85"/>
<circle cx="111.6" cy="604.6" r="16.2" fill="none" stroke="#4a42c8" stroke-opacity="0.45" stroke-width="0.8"/>
<path d="M126.8 599.9 A15.9 15.9 0 0 1 102.2 617.5" fill="none" stroke="#4a42c8" stroke-opacity="0.75" stroke-width="1.4"/>
<circle cx="111.6" cy="642.0" r="16.9" fill="url(#well)" stroke="#cfcde0" stroke-width="0.6"/>
<path d="M116.0 647.0h0M107.9 657.1h0M107.3 653.9h0M125.8 635.8h0M122.4 649.2h0M108.5 631.5h0M109.2 654.7h0M122.0 646.2h0M116.7 631.9h0M100.7 644.3h0M109.8 634.3h0M103.0 649.5h0M107.4 656.0h0M107.9 637.5h0M125.2 646.7h0M119.6 635.0h0M101.3 648.8h0M109.9 649.0h0M122.9 635.3h0M125.1 639.3h0M121.9 646.8h0M104.6 649.9h0M116.1 644.5h0M124.0 632.4h0M117.9 645.6h0M119.6 655.9h0M113.1 651.9h0M120.1 643.7h0M113.5 630.2h0M106.0 642.3h0M113.3 635.0h0M122.6 631.0h0M119.5 651.8h0M124.5 648.0h0M107.1 655.9h0M108.2 657.1h0M97.2 642.4h0M102.5 642.5h0M118.1 651.6h0M99.1 639.4h0M104.1 653.9h0M115.9 654.7h0M112.4 654.5h0M116.9 655.7h0M120.6 646.2h0M101.9 639.4h0M118.1 648.2h0M105.9 656.4h0M104.5 647.2h0M111.3 626.9h0M96.7 637.6h0M101.1 641.9h0M109.5 637.3h0M124.6 634.3h0M102.5 630.0h0M107.8 656.4h0M118.3 653.0h0M95.8 640.8h0M119.7 641.2h0M114.7 655.0h0M101.0 631.2h0M121.3 632.7h0M109.8 652.1h0M115.3 654.4h0M97.7 644.0h0M117.6 648.0h0M104.6 638.4h0M116.1 627.0h0M97.7 635.8h0M104.4 655.0h0M120.5 635.8h0M104.9 635.4h0M123.8 646.2h0M115.4 629.6h0M98.1 649.6h0M126.7 645.7h0M105.0 627.9h0M97.5 646.8h0M117.6 630.3h0M115.2 650.1h0M121.9 631.8h0M103.0 639.4h0M107.0 653.5h0M108.5 656.8h0M99.1 649.7h0M118.9 640.2h0M117.7 646.5h0M109.3 645.2h0M113.7 645.2h0M111.2 657.8h0M114.8 655.8h0M114.5 642.1h0M118.3 640.0h0M111.6 653.9h0M108.6 638.3h0M115.9 651.3h0M108.8 630.7h0M101.8 638.0h0M103.8 639.0h0M115.6 639.9h0M97.6 634.8h0M102.0 649.2h0M98.9 635.2h0M98.3 646.9h0M109.7 630.9h0M107.1 648.9h0M114.1 650.8h0M105.8 656.1h0M125.3 646.3h0M96.2 645.1h0M122.9 650.9h0M116.6 629.7h0M119.8 647.4h0M112.9 631.0h0M125.0 647.7h0M120.5 636.8h0M120.1 647.1h0M118.1 628.1h0M107.7 630.9h0M119.1 629.6h0M110.6 633.7h0M115.4 626.7h0M101.8 649.7h0M127.7 641.3h0M96.7 641.4h0M122.5 631.0h0M119.9 651.1h0M120.4 652.0h0M102.1 637.6h0M104.0 632.3h0M125.8 637.2h0M121.3 639.1h0M105.6 650.4h0M125.9 639.8h0M115.1 630.1h0M105.6 655.8h0M124.0 636.9h0M114.0 644.4h0M97.5 635.8h0M114.7 631.0h0M119.1 651.0h0M112.3 631.4h0M98.0 642.4h0M114.3 641.9h0M110.6 647.8h0M125.2 636.4h0M101.3 651.4h0M104.5 629.4h0M114.5 629.3h0M99.2 639.0h0M113.2 632.7h0M117.1 645.7h0M124.5 645.9h0M117.0 656.4h0M110.9 653.9h0M102.6 633.9h0M103.5 639.7h0M121.1 655.0h0M114.6 650.3h0M118.2 642.5h0M127.1 638.3h0M113.8 638.2h0M115.0 654.6h0M123.1 652.3h0M105.2 630.0h0M112.8 656.0h0M106.4 636.4h0M103.8 635.9h0M125.7 644.9h0M125.7 640.1h0M101.5 636.9h0M119.2 634.9h0M118.8 647.2h0M100.0 646.2h0M115.3 654.4h0M96.2 638.6h0M111.4 630.9h0M115.5 639.9h0M111.0 657.1h0M123.1 644.9h0M126.2 639.5h0M124.7 640.2h0M119.7 633.1h0M125.1 635.2h0M99.7 641.4h0M115.6 640.7h0M106.2 639.0h0M117.7 653.8h0M108.3 652.1h0M109.6 643.5h0M109.4 631.2h0M124.9 637.5h0M111.0 657.3h0M106.9 629.5h0M121.0 653.4h0M103.7 635.1h0M120.4 636.8h0M108.6 631.0h0M116.0 638.7h0M127.3 638.5h0M116.9 632.9h0M124.2 652.0h0M108.7 637.1h0M127.5 645.1h0M103.5 629.2h0M119.1 651.4h0M99.2 642.1h0M118.5 637.0h0M118.9 654.4h0M100.7 634.2h0M127.3 640.1h0M126.2 647.2h0M118.1 651.4h0M124.2 649.2h0M100.4 632.0h0M124.4 637.4h0M109.9 626.8h0M98.7 638.1h0M123.9 644.2h0M108.4 634.2h0M100.7 645.5h0M100.1 651.9h0M116.4 628.5h0M113.0 657.0h0M98.6 644.7h0M122.8 648.8h0M111.8 650.3h0M114.6 627.6h0M102.9 635.2h0M100.2 639.3h0M106.3 649.9h0M123.6 631.4h0M116.7 646.7h0M97.2 647.3h0M100.8 633.8h0M122.6 634.6h0M116.5 636.1h0M120.0 646.3h0M101.7 641.1h0M98.6 634.8h0M117.6 656.9h0M101.8 637.1h0M107.2 629.6h0M121.6 649.3h0M115.7 627.9h0M113.8 636.8h0M110.8 640.1h0M107.7 654.8h0M111.3 648.2h0M98.5 639.2h0M118.6 655.2h0M107.2 654.7h0M113.4 646.2h0M115.2 647.7h0M115.9 641.3h0M112.1 631.2h0M100.1 641.2h0M120.4 638.8h0M120.0 639.8h0M121.2 630.9h0M118.0 641.5h0M99.6 635.5h0M99.4 646.3h0M127.4 640.1h0" stroke="#3b36c8" stroke-width="0.64" stroke-linecap="round" stroke-opacity="0.85"/>
<path d="M121.6 654.3h0M107.7 630.0h0M118.0 636.8h0M122.1 652.0h0M107.4 633.0h0M127.0 641.8h0M116.6 633.7h0M103.1 652.0h0M118.8 647.6h0M107.8 643.8h0M113.6 648.7h0M118.4 649.8h0M111.3 650.5h0M97.3 649.4h0M98.7 638.6h0M118.9 627.8h0M122.5 630.6h0M121.8 631.9h0M103.5 635.5h0M120.9 637.3h0M121.2 642.0h0M106.7 649.7h0M98.6 635.7h0M117.7 648.3h0M115.7 656.8h0M118.1 631.4h0M99.6 643.8h0M118.8 638.9h0M105.1 630.5h0M108.9 631.2h0M116.4 651.9h0M112.4 631.3h0M96.4 640.6h0M124.2 636.5h0M125.1 639.9h0M118.1 635.3h0M98.5 635.8h0M118.1 653.4h0M114.7 642.6h0M99.2 651.3h0M99.2 646.7h0M110.4 626.6h0M104.5 633.6h0M119.8 638.9h0M118.2 637.9h0M119.2 652.1h0M116.7 657.3h0M110.7 655.9h0M113.5 635.0h0M123.7 632.3h0M102.9 631.2h0M119.3 641.9h0M104.9 634.1h0M110.1 645.4h0M99.3 644.1h0M103.2 649.7h0M109.6 639.4h0M119.7 649.0h0M106.4 632.5h0M99.2 649.3h0M106.8 637.1h0M98.4 643.4h0M100.9 653.9h0M123.9 644.4h0M114.1 648.8h0M115.4 649.4h0M117.4 638.8h0M98.5 642.8h0M108.9 654.6h0M110.2 626.7h0M123.0 643.6h0M112.2 642.1h0M125.6 644.8h0M99.9 640.6h0M108.4 652.4h0M126.8 637.5h0M97.5 638.6h0M106.9 626.8h0M117.4 649.0h0M117.6 646.6h0M102.9 635.0h0M119.2 646.2h0M101.5 644.8h0M123.5 632.3h0M110.6 657.0h0M108.7 656.7h0M98.8 639.2h0M102.8 639.7h0M114.3 632.9h0M113.4 633.1h0M119.9 642.5h0M120.2 634.1h0M111.4 655.5h0M105.6 652.8h0M108.3 655.4h0M119.5 642.0h0M114.5 645.3h0M106.5 650.9h0M98.8 642.4h0M115.3 635.2h0M117.4 654.9h0M117.7 647.2h0M103.5 632.6h0M112.6 656.2h0M124.1 633.1h0M120.4 650.2h0M110.1 634.1h0M107.7 638.1h0M125.7 643.8h0M112.0 649.5h0M118.5 632.6h0M100.2 651.5h0M108.9 641.3h0M109.5 650.2h0M107.9 657.3h0M106.4 632.1h0M126.2 647.9h0M104.7 630.8h0M117.3 646.2h0M106.1 650.9h0M125.4 639.2h0M99.2 647.9h0M126.4 635.5h0M100.1 644.2h0M121.4 649.7h0M108.4 628.8h0M101.2 635.9h0M100.3 631.2h0M122.0 632.6h0M97.8 645.8h0M126.6 636.7h0M117.5 642.0h0M117.4 636.6h0M114.2 628.7h0M109.2 652.3h0M117.5 647.6h0M114.9 648.0h0M97.0 638.5h0M126.8 640.7h0M116.8 652.5h0M123.4 652.1h0M118.6 631.7h0M110.8 649.0h0M122.8 649.8h0M111.4 626.7h0M113.8 629.4h0M115.8 636.0h0M102.2 650.5h0M97.2 646.0h0M110.1 637.6h0M107.6 640.3h0M104.1 646.7h0M108.0 631.1h0M103.5 652.9h0M113.2 633.1h0M106.9 639.3h0M101.7 631.7h0M114.9 643.9h0M114.7 628.8h0M125.1 640.7h0M99.0 648.3h0M112.8 657.9h0M106.4 646.3h0M108.1 640.4h0M116.3 653.7h0M98.5 644.5h0M115.1 628.4h0M105.6 628.4h0M105.8 639.1h0M116.2 655.0h0M100.8 640.6h0M120.0 646.8h0M103.2 647.1h0M126.2 640.7h0M123.5 632.5h0M95.5 640.8h0M124.8 644.4h0M118.9 629.8h0M103.4 635.3h0M117.5 639.6h0M100.4 645.0h0M117.7 635.5h0M98.0 650.3h0M108.7 654.2h0M101.3 632.4h0M126.7 643.7h0M123.7 639.6h0M109.0 639.4h0M119.8 649.3h0M121.4 639.7h0M102.9 643.4h0M123.4 651.7h0M108.8 639.9h0M124.7 645.1h0M113.3 627.0h0M112.2 655.2h0M114.5 657.4h0M96.2 636.9h0M96.6 637.6h0M124.0 637.2h0M107.1 652.8h0M127.6 641.4h0M116.1 636.5h0M115.2 656.1h0M120.1 645.2h0M124.8 649.4h0M115.9 627.5h0M123.9 652.5h0M124.5 649.4h0M115.4 636.5h0M111.0 634.6h0M95.6 643.8h0M120.7 635.0h0M125.1 640.7h0M98.4 646.6h0M115.3 639.1h0M120.9 653.1h0M109.9 655.9h0M118.0 651.8h0M105.7 643.2h0M108.2 628.2h0M124.6 634.0h0M111.6 656.4h0M110.1 627.4h0M118.4 642.6h0M119.0 655.8h0M126.1 637.0h0M100.3 640.0h0M116.6 644.6h0M100.7 631.4h0M115.0 650.8h0M112.2 636.2h0M120.7 645.2h0M105.7 655.8h0M104.3 638.8h0M100.9 640.3h0M100.1 639.0h0M102.0 641.9h0M115.5 657.5h0M100.5 644.7h0M105.1 651.9h0M123.9 636.5h0M104.4 644.5h0M127.7 642.1h0M102.2 652.3h0M109.8 629.8h0M120.2 645.8h0M125.1 640.9h0M122.5 637.3h0M106.3 630.8h0M113.1 628.3h0M106.2 629.4h0M111.4 656.2h0M99.7 632.2h0M103.3 632.9h0M112.3 652.6h0M115.3 657.2h0M102.6 636.2h0M121.9 648.7h0M112.6 632.4h0M104.3 642.8h0M117.5 645.1h0M96.7 647.9h0M122.3 647.3h0M103.8 641.2h0" stroke="#3b36c8" stroke-width="1.04" stroke-linecap="round" stroke-opacity="0.85"/>
<circle cx="111.6" cy="642.0" r="16.2" fill="none" stroke="#4a42c8" stroke-opacity="0.45" stroke-width="0.8"/>
<path d="M126.8 637.3 A15.9 15.9 0 0 1 102.2 654.9" fill="none" stroke="#4a42c8" stroke-opacity="0.75" stroke-width="1.4"/>
<circle cx="111.6" cy="680.6" r="16.9" fill="url(#well)" stroke="#cfcde0" stroke-width="0.6"/>
<path d="M98.9 690.0h0M113.9 692.8h0M121.3 692.1h0M115.2 690.0h0M121.3 670.0h0M105.9 690.8h0M124.3 689.7h0M105.6 693.9h0M111.0 696.2h0M120.7 668.3h0M114.5 690.4h0M123.6 686.8h0M106.9 692.7h0M122.5 689.1h0M110.1 694.5h0M109.4 667.8h0M108.0 687.7h0M106.3 667.5h0M126.8 683.4h0M105.1 689.6h0M96.2 680.7h0M117.2 689.4h0M105.4 690.5h0M109.2 678.1h0M98.7 689.2h0M120.1 672.5h0M127.0 676.7h0M117.5 693.8h0M105.8 689.7h0M114.9 666.1h0M120.1 692.9h0M120.6 680.2h0M102.9 674.7h0M109.3 669.3h0M112.3 678.8h0M106.3 665.9h0M107.9 670.6h0M112.7 672.0h0M99.3 672.4h0M106.5 667.0h0M123.6 672.2h0M123.9 672.9h0M123.9 687.7h0M118.8 676.1h0M115.8 676.1h0M120.7 691.6h0M108.3 665.5h0M106.7 687.9h0M101.7 670.8h0M119.5 670.2h0M117.9 672.5h0M121.1 667.7h0M112.0 692.2h0M101.8 688.0h0M123.3 687.9h0M119.9 686.0h0M109.0 687.1h0M114.8 668.3h0M119.9 673.5h0M123.4 677.4h0M106.9 690.0h0M113.6 673.0h0M124.1 676.5h0M112.7 668.4h0M118.8 677.3h0M113.7 685.9h0M126.2 687.5h0M127.5 680.0h0M106.9 683.2h0M126.1 677.8h0M122.2 673.6h0M111.3 669.1h0M108.5 676.0h0M110.1 672.0h0M121.2 682.3h0M113.0 692.3h0M123.9 681.1h0M113.8 692.0h0M103.3 673.7h0M97.3 682.2h0M108.9 691.8h0M110.8 667.3h0M118.0 687.1h0M110.1 694.6h0M97.9 675.7h0M108.1 685.8h0M119.5 667.0h0M125.3 680.3h0M115.1 664.8h0M96.2 680.6h0M108.1 695.7h0M127.3 678.7h0M126.1 676.9h0M105.7 668.0h0M110.6 673.9h0M116.5 677.0h0M122.2 670.1h0M109.1 694.8h0M98.4 681.5h0M99.0 671.8h0M109.3 669.5h0M101.9 669.6h0M106.1 671.2h0M121.8 688.6h0M117.4 688.3h0M121.1 688.6h0M99.3 672.7h0M109.5 673.6h0M126.0 683.6h0M97.5 682.9h0M125.1 672.9h0M115.4 667.8h0M111.0 672.3h0M111.4 666.5h0M112.7 692.3h0M117.1 690.2h0M105.6 668.2h0M114.7 667.6h0M103.9 674.5h0M101.4 669.8h0M109.8 688.5h0M107.7 690.0h0M101.6 690.3h0M119.8 677.8h0M122.6 673.6h0M120.1 688.4h0M116.4 677.6h0M115.0 682.3h0M100.5 687.7h0M109.2 684.3h0M118.3 691.9h0M111.9 691.6h0M121.0 672.6h0M112.0 667.5h0M126.5 681.9h0M114.3 674.8h0M101.0 686.7h0M111.3 695.9h0M115.3 669.1h0M124.5 686.4h0M117.7 673.4h0M101.0 688.7h0M96.3 677.9h0M109.4 695.9h0M102.0 689.8h0M110.7 679.2h0M105.9 691.7h0M102.7 685.7h0M124.8 677.9h0M125.0 675.7h0M121.5 682.2h0M115.7 674.1h0M112.0 674.1h0M115.3 664.9h0M115.1 692.3h0M117.1 694.7h0M109.4 680.9h0M127.3 680.2h0M123.6 683.7h0M100.5 685.1h0M101.8 690.2h0M118.5 671.7h0M111.6 695.4h0M123.8 684.1h0M123.9 681.6h0M101.3 689.3h0M95.8 680.0h0M111.9 672.7h0M101.1 676.8h0M100.0 688.9h0M123.6 684.4h0M120.7 685.1h0M99.4 682.0h0M106.0 687.3h0M114.1 679.8h0M105.8 694.8h0M109.6 664.6h0M107.3 692.2h0M118.3 668.2h0M97.6 685.2h0M114.7 695.6h0M126.3 678.8h0M113.9 684.5h0M105.3 668.2h0M118.9 681.6h0M127.3 679.5h0M126.0 686.6h0M98.0 685.5h0M108.2 690.9h0M100.3 689.1h0M119.4 682.2h0M107.3 682.9h0M98.9 674.1h0M123.6 670.1h0M96.6 676.8h0M107.3 668.9h0M117.8 692.6h0M99.3 684.1h0M99.4 681.5h0M101.9 673.0h0M117.4 689.0h0M111.8 664.4h0M116.2 672.0h0M104.5 693.5h0M114.9 689.8h0M111.6 683.8h0M127.0 677.8h0M124.9 678.5h0M106.8 679.1h0M110.2 696.6h0M114.9 679.1h0M123.8 675.3h0M114.5 675.4h0M120.3 670.9h0M121.7 682.4h0M104.2 691.9h0M115.9 687.0h0M106.7 676.7h0M123.9 688.6h0M115.3 673.1h0M103.7 675.7h0M115.0 673.0h0M122.7 687.5h0M106.5 671.4h0M117.8 687.3h0M122.7 682.1h0M115.5 684.0h0M115.6 671.4h0M99.3 690.1h0M118.1 667.8h0M114.3 696.4h0M122.8 672.1h0M125.5 684.4h0M113.4 665.6h0M124.4 684.0h0M117.5 680.9h0M101.2 673.2h0M114.9 675.0h0M118.9 689.3h0M110.4 693.6h0M113.7 689.1h0M123.6 689.2h0M117.5 687.6h0M105.5 668.2h0M118.1 690.1h0M114.7 679.1h0M123.9 685.5h0M118.4 668.9h0M119.7 677.7h0M104.2 683.5h0M122.9 677.9h0M110.7 668.5h0M108.7 694.5h0M100.1 683.5h0M115.0 690.5h0M119.5 680.0h0M120.0 693.9h0M102.9 694.2h0M97.4 683.5h0M100.9 686.0h0" stroke="#3b36c8" stroke-width="0.64" stroke-linecap="round" stroke-opacity="0.85"/>
<path d="M107.5 680.1h0M119.8 676.1h0M109.0 693.8h0M98.5 673.1h0M110.5 667.1h0M114.6 694.6h0M110.9 665.3h0M111.0 666.1h0M120.6 679.5h0M123.9 673.4h0M108.2 689.8h0M127.0 680.4h0M120.0 691.9h0M102.1 678.0h0M110.3 682.7h0M123.2 674.8h0M122.5 671.8h0M117.6 674.4h0M111.5 689.4h0M112.0 694.3h0M110.8 677.9h0M108.1 676.4h0M105.1 680.3h0M98.1 688.2h0M118.3 675.2h0M96.1 683.1h0M112.1 695.0h0M112.1 683.9h0M114.4 667.7h0M116.3 686.4h0M111.0 690.6h0M111.6 669.9h0M111.2 669.8h0M123.4 673.6h0M124.5 678.3h0M101.1 677.5h0M114.0 688.8h0M118.1 672.1h0M96.6 684.7h0M106.6 690.0h0M99.1 683.9h0M105.5 665.6h0M101.7 676.3h0M123.2 677.6h0M114.3 672.8h0M103.9 686.7h0M111.6 685.1h0M110.7 690.8h0M121.4 690.0h0M101.9 677.9h0M100.8 674.1h0M111.1 688.6h0M126.2 679.7h0M118.4 684.7h0M127.0 680.4h0M122.6 678.0h0M122.3 673.0h0M116.1 681.2h0M96.8 683.7h0M112.6 674.0h0M112.0 681.6h0M110.9 666.2h0M102.0 672.7h0M110.8 693.8h0M103.9 673.2h0M113.8 671.8h0M100.7 669.4h0M109.9 688.3h0M99.2 685.0h0M122.7 681.9h0M103.7 688.5h0M118.4 680.0h0M125.9 677.4h0M107.8 672.2h0M111.8 694.8h0M109.3 667.6h0M99.0 676.9h0M110.7 689.9h0M101.3 680.6h0M114.7 691.6h0M116.8 680.3h0M119.7 673.5h0M119.7 693.8h0M112.6 688.8h0M111.9 682.1h0M107.5 667.9h0M103.7 679.2h0M109.3 667.2h0M112.2 666.7h0M115.8 685.0h0M98.1 685.3h0M109.6 666.6h0M108.2 666.4h0M121.0 673.9h0M97.9 682.1h0M103.3 693.1h0M102.8 674.7h0M117.5 695.6h0M119.5 686.6h0M98.1 682.6h0M104.1 690.0h0M102.1 675.4h0M103.9 681.6h0M104.1 680.1h0M101.2 687.1h0M114.8 670.9h0M102.6 679.1h0M100.9 692.5h0M106.9 670.1h0M114.0 668.6h0M113.1 696.0h0M99.5 682.7h0M103.9 671.6h0M110.0 688.8h0M103.1 684.2h0M108.5 690.3h0M99.9 669.8h0M120.0 686.5h0M100.8 672.5h0M124.0 684.2h0M115.5 667.9h0M105.3 669.3h0M103.8 687.9h0M112.4 671.2h0M97.6 677.0h0M108.3 692.5h0M127.2 684.5h0M107.0 692.7h0M126.1 677.6h0M109.3 667.7h0M120.2 680.0h0M119.8 672.1h0M109.7 683.9h0M118.2 693.0h0M110.4 682.9h0M120.7 669.9h0M104.7 676.0h0M112.9 665.3h0M98.1 681.4h0M110.2 689.5h0M107.4 692.8h0M111.8 694.7h0M114.9 693.6h0M122.0 671.3h0M98.1 688.1h0M121.7 692.7h0M109.1 691.5h0M122.1 684.4h0M102.7 674.5h0M98.0 685.5h0M104.5 666.6h0M119.2 668.4h0M112.6 669.9h0M108.8 692.4h0M107.9 667.3h0M110.5 675.9h0M127.2 683.9h0M97.4 687.8h0M99.3 690.4h0M105.0 670.8h0M112.6 690.6h0M104.4 692.3h0M110.7 684.2h0M110.2 665.1h0M104.4 680.2h0M117.7 692.4h0M126.4 678.2h0M114.8 667.3h0M111.7 691.9h0M121.4 670.8h0M120.0 692.2h0M125.0 671.5h0M114.7 694.2h0M117.6 686.0h0M97.6 676.1h0M119.0 694.9h0M109.6 691.2h0M113.1 665.5h0M97.3 681.0h0M103.9 686.3h0M110.0 674.0h0M98.7 677.3h0M122.0 691.9h0M122.1 689.0h0M106.2 672.9h0M120.3 671.7h0M105.9 687.5h0M108.4 691.1h0M104.4 692.5h0M114.1 669.6h0M108.3 675.8h0M101.2 687.1h0M117.2 690.9h0M110.2 673.6h0M111.7 690.9h0M105.8 674.4h0M100.6 671.8h0M108.2 681.9h0M116.7 690.8h0M99.8 688.8h0M96.5 681.2h0M117.8 673.8h0M108.6 684.8h0M119.9 687.5h0M107.3 693.5h0M125.0 672.2h0M113.1 684.9h0M107.8 667.3h0M106.9 688.3h0M126.4 674.2h0M108.4 670.2h0M102.7 667.3h0M122.1 676.0h0M105.7 668.9h0M126.3 685.8h0M117.7 683.3h0M121.2 678.9h0M102.3 691.4h0M99.3 685.5h0M104.7 690.6h0M111.3 664.9h0M107.6 677.3h0M99.7 691.0h0M118.4 682.8h0M102.8 689.7h0M106.4 668.9h0M102.5 673.3h0M99.7 674.9h0M114.7 692.7h0M107.2 672.0h0M124.1 690.3h0M106.9 682.1h0M123.2 669.8h0M104.9 674.8h0M113.5 675.3h0M116.8 678.7h0M107.7 690.6h0M119.5 687.6h0M114.2 691.0h0M107.5 681.4h0M112.4 665.5h0M120.8 689.4h0M111.2 692.5h0M120.3 672.5h0M103.3 678.9h0M100.4 684.9h0M116.4 677.8h0M114.8 695.8h0M96.9 684.9h0M106.1 694.8h0M116.7 680.2h0M122.0 683.4h0M107.2 688.3h0M126.3 677.5h0M118.6 687.3h0M118.5 680.0h0M119.8 689.4h0M101.5 679.8h0M98.4 677.8h0M97.8 685.4h0M105.6 666.7h0" stroke="#3b36c8" stroke-width="1.04" stroke-linecap="round" stroke-opacity="0.85"/>
<circle cx="111.6" cy="680.6" r="16.2" fill="none" stroke="#4a42c8" stroke-opacity="0.45" stroke-width="0.8"/>
<path d="M126.8 675.9 A15.9 15.9 0 0 1 102.2 693.5" fill="none" stroke="#4a42c8" stroke-opacity="0.75" stroke-width="1.4"/>
<circle cx="154.2" cy="604.6" r="16.9" fill="url(#well2)" stroke="#cfcde0" stroke-width="0.6"/>
<path d="M151.6 610.4h0M161.0 597.7h0M149.6 589.9h0M163.3 615.1h0M157.0 606.1h0M151.3 616.0h0M167.5 613.8h0M149.4 617.1h0M157.4 597.0h0M139.3 606.7h0M163.2 612.7h0M154.0 591.4h0M160.8 590.6h0M159.3 618.6h0" stroke="#5d55c8" stroke-width="0.64" stroke-linecap="round" stroke-opacity="0.85"/>
<path d="M167.5 612.9h0M145.4 602.0h0M145.1 593.7h0M151.2 591.6h0M165.1 607.6h0M145.6 599.9h0M142.5 612.6h0M161.9 594.4h0M141.0 606.4h0M163.2 611.4h0M165.0 602.8h0M142.2 607.5h0M156.1 618.2h0M154.6 616.3h0" stroke="#5d55c8" stroke-width="1.04" stroke-linecap="round" stroke-opacity="0.85"/>
<circle cx="154.2" cy="604.6" r="16.2" fill="none" stroke="#9088d0" stroke-opacity="0.33" stroke-width="0.8"/>
<path d="M169.4 599.9 A15.9 15.9 0 0 1 144.8 617.5" fill="none" stroke="#9088d0" stroke-opacity="0.55" stroke-width="1.4"/>
<circle cx="154.2" cy="642.0" r="16.9" fill="url(#well2)" stroke="#cfcde0" stroke-width="0.6"/>
<path d="M157.8 630.2h0M144.8 653.0h0M139.4 635.5h0M160.0 651.5h0M152.3 644.5h0M152.5 655.2h0M147.1 643.1h0M155.6 649.0h0M152.1 629.9h0M150.2 632.3h0M160.8 649.9h0M145.3 630.2h0M153.7 628.3h0" stroke="#5d55c8" stroke-width="0.64" stroke-linecap="round" stroke-opacity="0.85"/>
<path d="M165.6 647.0h0M146.9 640.1h0M167.6 645.1h0M166.5 634.7h0M164.1 633.2h0M154.4 629.8h0M150.5 641.2h0M157.8 628.0h0M141.1 650.7h0M154.0 637.2h0M169.3 636.3h0M169.3 644.2h0M166.5 635.5h0M146.8 635.2h0" stroke="#5d55c8" stroke-width="1.04" stroke-linecap="round" stroke-opacity="0.85"/>
<circle cx="154.2" cy="642.0" r="16.2" fill="none" stroke="#9088d0" stroke-opacity="0.33" stroke-width="0.8"/>
<path d="M169.4 637.3 A15.9 15.9 0 0 1 144.8 654.9" fill="none" stroke="#9088d0" stroke-opacity="0.55" stroke-width="1.4"/>
<circle cx="154.2" cy="680.6" r="16.9" fill="url(#well2)" stroke="#cfcde0" stroke-width="0.6"/>
<path d="M163.9 675.2h0M157.2 686.1h0M155.6 666.2h0M162.5 671.7h0M154.3 689.0h0M156.5 676.8h0M146.5 674.2h0M142.5 677.4h0M161.2 687.3h0M140.2 685.7h0M143.9 677.9h0M154.1 675.8h0M149.4 690.0h0M163.4 683.2h0" stroke="#5d55c8" stroke-width="0.64" stroke-linecap="round" stroke-opacity="0.85"/>
<path d="M147.1 668.2h0M139.6 683.2h0M141.6 689.2h0M159.2 669.0h0M144.3 682.5h0M164.3 684.3h0M163.3 667.4h0M168.9 681.7h0M165.0 691.9h0M143.5 692.0h0M154.4 677.4h0M155.9 677.3h0M157.6 674.2h0M157.5 683.9h0" stroke="#5d55c8" stroke-width="1.04" stroke-linecap="round" stroke-opacity="0.85"/>
<circle cx="154.2" cy="680.6" r="16.2" fill="none" stroke="#9088d0" stroke-opacity="0.33" stroke-width="0.8"/>
<path d="M169.4 675.9 A15.9 15.9 0 0 1 144.8 693.5" fill="none" stroke="#9088d0" stroke-opacity="0.55" stroke-width="1.4"/>
<circle cx="192.7" cy="604.6" r="16.9" fill="url(#well2)" stroke="#cfcde0" stroke-width="0.6"/>
<path d="M190.4 591.5h0M186.2 601.8h0M198.4 590.5h0M187.7 590.2h0M177.8 603.7h0M183.2 597.2h0M198.6 618.4h0M197.5 596.2h0M199.3 610.8h0M207.4 602.7h0M199.6 606.4h0M181.6 599.1h0M182.4 595.6h0M202.4 612.0h0M182.1 606.4h0M176.6 605.0h0M185.2 593.2h0M186.4 592.8h0M193.8 611.2h0M185.0 608.3h0M200.5 598.3h0M198.6 606.9h0M206.0 610.1h0M192.4 609.5h0M181.6 604.6h0M192.7 591.5h0M191.8 620.3h0M183.9 612.4h0M185.0 601.6h0M195.4 619.6h0M199.5 608.5h0M204.0 604.6h0M202.8 613.6h0M196.2 620.2h0M183.0 597.9h0M203.8 593.0h0M203.0 601.9h0M198.2 592.6h0M185.8 597.2h0M207.0 604.0h0M180.4 595.7h0M191.6 598.8h0M199.1 601.7h0M203.3 592.7h0M187.4 600.7h0M195.4 591.3h0M203.3 615.6h0M201.2 604.8h0M176.7 606.3h0M201.7 594.9h0M188.8 612.0h0M185.2 616.0h0M180.8 612.6h0M180.2 600.6h0M203.6 602.8h0M189.6 619.3h0M182.6 596.8h0M197.6 612.2h0M182.9 598.6h0M178.3 599.9h0M180.8 607.5h0M191.0 608.7h0M183.6 593.1h0M197.3 600.7h0M201.9 592.2h0M185.8 617.4h0M186.1 611.4h0M203.5 608.4h0M189.5 596.8h0M206.5 610.9h0M193.1 612.7h0M177.9 606.9h0M185.2 598.1h0M180.0 598.0h0M196.6 592.0h0M184.5 594.8h0M200.4 596.1h0M178.1 598.7h0M202.6 595.7h0M188.7 610.2h0M183.8 599.1h0M180.3 596.8h0M194.9 591.9h0M187.4 595.2h0M178.4 607.5h0M207.1 606.2h0M190.8 591.4h0M203.7 613.3h0M184.5 595.2h0M206.1 600.2h0M194.2 611.2h0M206.0 608.2h0M203.8 608.2h0M183.6 594.7h0M196.8 609.9h0M188.8 614.4h0M182.3 598.2h0M203.0 606.0h0" stroke="#5d55c8" stroke-width="0.64" stroke-linecap="round" stroke-opacity="0.85"/>
<path d="M195.9 600.4h0M200.5 601.6h0M198.3 614.7h0M204.2 610.6h0M184.9 599.6h0M202.2 610.0h0M192.6 618.3h0M198.3 619.5h0M191.0 612.4h0M203.3 594.2h0M195.0 619.3h0M181.8 601.8h0M204.2 599.5h0M178.0 604.2h0M200.1 604.4h0M199.7 590.0h0M192.6 590.1h0M192.8 588.8h0M180.1 601.1h0M205.3 608.9h0M203.6 612.4h0M204.7 614.2h0M192.5 594.9h0M195.5 611.8h0M204.0 600.0h0M206.5 612.8h0M194.2 607.4h0M183.9 592.7h0M177.6 603.9h0M198.3 594.5h0M197.4 594.8h0M203.0 612.6h0M188.8 605.0h0M203.1 603.5h0M187.9 605.2h0M187.0 617.9h0M182.3 613.8h0M200.6 608.6h0M186.5 593.0h0M186.0 615.6h0M195.6 610.4h0M181.5 615.1h0M199.1 616.2h0M201.1 608.4h0M191.2 620.7h0M198.9 614.4h0M204.2 602.6h0M203.7 604.9h0M183.9 597.4h0M202.9 607.1h0M179.9 610.1h0M208.0 601.9h0M193.7 591.3h0M205.5 611.2h0M194.4 591.5h0M180.1 597.1h0M197.5 591.0h0M194.6 619.5h0M204.5 593.7h0M190.8 610.6h0M186.7 603.6h0M185.7 607.4h0M183.4 599.3h0M200.5 611.2h0M193.7 603.9h0M185.7 596.0h0M197.8 607.0h0M184.5 595.0h0M191.2 620.3h0M207.9 602.0h0M182.9 599.8h0M189.7 599.2h0M199.9 591.7h0M186.2 616.2h0M186.1 607.9h0M205.8 607.8h0M199.2 596.5h0M204.2 598.1h0M185.9 604.2h0M186.8 597.6h0M182.1 592.5h0M193.9 588.7h0M196.9 597.0h0M185.7 592.6h0M203.4 616.0h0M201.6 593.1h0M191.2 603.7h0M181.1 608.8h0M201.3 610.4h0M200.8 595.0h0M207.3 606.2h0M185.0 615.2h0M198.5 590.2h0M191.6 615.7h0M189.1 606.3h0M193.9 596.7h0M180.3 604.1h0M197.0 609.1h0M197.1 611.7h0" stroke="#5d55c8" stroke-width="1.04" stroke-linecap="round" stroke-opacity="0.85"/>
<circle cx="192.7" cy="604.6" r="16.2" fill="none" stroke="#9088d0" stroke-opacity="0.33" stroke-width="0.8"/>
<path d="M207.9 599.9 A15.9 15.9 0 0 1 183.3 617.5" fill="none" stroke="#9088d0" stroke-opacity="0.55" stroke-width="1.4"/>
<circle cx="192.7" cy="642.0" r="16.9" fill="url(#well2)" stroke="#cfcde0" stroke-width="0.6"/>
<path d="M182.7 639.2h0M182.0 648.2h0M204.3 646.3h0M186.6 632.4h0M190.9 639.0h0M208.2 639.5h0M186.2 656.6h0M201.5 647.0h0M190.0 637.4h0M204.4 645.2h0M200.6 630.1h0M181.7 649.9h0M202.7 645.0h0M202.1 641.3h0M200.2 655.2h0M207.8 644.1h0M186.9 647.9h0M195.9 634.5h0M194.9 627.4h0M184.3 631.7h0M198.1 627.2h0M206.5 642.0h0M190.7 642.9h0M192.7 629.6h0M185.7 644.1h0M183.5 633.3h0M178.3 644.9h0M199.2 656.6h0M179.3 634.6h0M204.9 633.9h0M202.8 630.8h0M196.3 652.8h0M181.1 642.9h0M187.9 630.3h0M207.9 646.4h0M193.1 649.3h0M186.2 650.7h0M193.9 644.9h0M184.4 639.4h0M198.3 633.7h0M192.1 639.8h0M195.7 631.6h0M200.8 638.2h0M197.6 648.9h0M186.2 627.9h0M179.1 647.3h0M205.7 633.2h0M197.7 627.9h0M201.7 654.9h0M201.1 654.5h0M190.9 655.6h0M191.2 653.1h0M185.8 640.8h0M183.2 654.1h0M195.6 634.3h0M200.3 647.7h0M191.2 637.4h0M186.7 627.2h0M189.3 629.4h0M207.2 641.2h0M200.5 653.1h0M186.4 627.1h0M201.7 635.3h0M180.6 651.7h0M199.1 651.5h0M188.2 626.8h0M195.5 655.4h0M206.3 637.2h0M177.9 645.8h0M189.0 637.2h0M188.2 644.1h0M203.1 637.3h0M203.0 652.1h0M185.2 631.7h0M184.7 637.4h0M192.2 637.1h0M204.2 635.5h0M188.0 656.9h0M190.0 637.7h0M191.9 628.1h0M184.1 647.6h0M180.7 633.1h0" stroke="#5d55c8" stroke-width="0.64" stroke-linecap="round" stroke-opacity="0.85"/>
<path d="M200.0 648.4h0M188.5 655.5h0M201.1 628.6h0M195.3 653.4h0M189.1 641.1h0M204.7 649.7h0M184.6 650.2h0M182.7 635.3h0M188.7 630.9h0M191.8 633.1h0M182.3 635.7h0M203.6 634.3h0M208.7 643.4h0M178.9 639.0h0M194.0 655.5h0M182.6 647.8h0M202.5 636.3h0M183.2 645.2h0M190.4 646.1h0M185.5 647.9h0M190.7 649.5h0M182.5 644.4h0M185.0 632.9h0M179.3 644.2h0M181.3 640.9h0M184.2 652.7h0M198.4 626.9h0M202.1 653.9h0M186.2 636.0h0M178.1 646.7h0M180.7 633.1h0M194.4 641.7h0M181.4 652.8h0M196.9 656.3h0M184.1 631.5h0M199.4 633.1h0M195.7 648.4h0M190.8 629.2h0M191.1 638.8h0M183.9 640.7h0M191.5 629.8h0M194.7 630.9h0M202.3 638.8h0M198.1 651.3h0M202.3 638.3h0M186.4 654.5h0M190.2 635.8h0M202.0 652.7h0M197.0 632.0h0M205.7 639.0h0M198.9 653.8h0M190.3 629.8h0M186.7 657.1h0M196.5 635.5h0M202.4 652.3h0M204.3 638.6h0M181.4 639.0h0M199.0 641.3h0M182.2 639.0h0M202.1 638.5h0M186.0 632.7h0M198.5 628.3h0M199.1 631.4h0M184.8 653.7h0M181.2 637.9h0M186.8 630.6h0M198.1 631.9h0M200.1 655.4h0M200.0 654.6h0M193.3 631.2h0M196.6 641.4h0M198.1 635.0h0M180.1 639.1h0M183.6 654.9h0M191.8 626.1h0M180.6 643.9h0M206.8 646.7h0M187.3 649.2h0M205.3 635.7h0M200.6 653.3h0M207.8 640.0h0M188.3 656.1h0M203.3 652.2h0" stroke="#5d55c8" stroke-width="1.04" stroke-linecap="round" stroke-opacity="0.85"/>
<circle cx="192.7" cy="642.0" r="16.2" fill="none" stroke="#9088d0" stroke-opacity="0.33" stroke-width="0.8"/>
<path d="M207.9 637.3 A15.9 15.9 0 0 1 183.3 654.9" fill="none" stroke="#9088d0" stroke-opacity="0.55" stroke-width="1.4"/>
<circle cx="192.7" cy="680.6" r="16.9" fill="url(#well2)" stroke="#cfcde0" stroke-width="0.6"/>
<path d="M178.9 677.2h0M183.0 676.9h0M180.0 684.8h0M196.2 689.8h0M207.4 674.6h0M195.6 687.2h0M198.2 669.1h0M205.8 679.6h0M183.9 686.4h0M193.9 672.7h0M193.2 689.7h0M200.4 694.3h0M199.4 672.6h0M194.5 689.9h0M205.6 672.0h0M188.2 670.9h0M194.6 667.4h0M201.7 691.0h0M200.2 692.4h0M206.0 687.7h0M184.4 680.5h0M183.5 692.5h0M199.1 689.7h0M187.9 693.7h0M202.8 681.8h0M197.6 688.6h0M194.3 687.2h0M177.6 679.9h0M178.0 675.1h0M181.6 675.5h0M195.8 694.3h0M186.7 673.3h0M179.0 680.2h0M198.8 670.7h0M198.4 685.3h0M195.9 667.2h0M202.8 678.1h0M192.5 690.6h0M180.2 675.0h0M196.1 682.6h0M188.8 686.1h0M192.8 676.9h0M180.2 675.4h0M198.0 688.5h0M177.5 685.1h0M183.1 683.2h0M202.7 672.7h0M191.4 693.1h0M196.6 676.2h0M188.4 666.3h0M199.4 674.9h0M189.0 669.0h0M188.6 680.3h0M197.9 666.8h0M179.2 686.8h0M198.8 673.5h0M206.8 673.9h0M203.4 674.1h0M194.9 678.9h0M195.5 688.5h0M186.0 671.2h0M195.8 689.6h0M179.2 673.8h0M194.1 669.0h0M204.5 673.6h0M199.2 689.7h0M189.8 675.8h0M202.5 683.6h0M182.7 672.9h0M188.7 695.7h0M201.9 675.2h0M201.0 691.7h0M197.2 690.6h0M186.3 668.0h0M204.2 683.9h0M192.9 693.0h0M194.8 692.8h0M197.0 676.9h0M198.6 668.5h0M205.9 683.5h0M193.0 696.8h0M191.6 684.4h0M187.7 684.1h0M178.7 679.9h0M204.7 679.4h0M204.2 677.0h0M180.7 687.7h0M196.5 695.4h0M199.8 675.9h0M182.2 683.2h0M204.9 674.3h0M205.1 677.3h0M183.1 670.3h0M192.4 694.0h0M195.1 695.8h0" stroke="#5d55c8" stroke-width="0.64" stroke-linecap="round" stroke-opacity="0.85"/>
<path d="M190.6 665.1h0M198.8 689.3h0M186.0 667.5h0M198.8 694.4h0M195.7 688.0h0M193.2 668.2h0M201.3 687.3h0M181.3 684.9h0M207.7 679.7h0M190.7 692.9h0M201.1 681.0h0M194.3 683.9h0M185.2 686.0h0M203.1 669.7h0M183.1 668.8h0M208.0 675.5h0M185.5 687.1h0M208.8 679.6h0M192.6 691.2h0M206.0 687.1h0M196.9 696.1h0M181.4 671.1h0M200.9 671.9h0M190.4 671.7h0M193.8 671.6h0M185.9 669.1h0M178.3 684.1h0M198.3 668.1h0M181.8 669.5h0M187.6 681.5h0M187.7 665.9h0M193.5 672.7h0M203.5 690.2h0M185.9 677.5h0M201.6 681.6h0M206.2 673.6h0M193.0 696.6h0M207.0 687.7h0M184.2 692.4h0M205.0 679.0h0M184.0 692.0h0M180.7 688.6h0M204.5 685.0h0M208.1 685.6h0M192.7 682.5h0M192.2 666.6h0M190.7 687.1h0M203.8 675.0h0M197.5 688.0h0M197.7 689.8h0M206.7 673.1h0M190.8 677.2h0M200.7 687.8h0M189.3 695.3h0M192.7 683.3h0M200.3 693.4h0M178.3 673.2h0M197.9 666.6h0M186.6 667.4h0M197.9 675.1h0M189.0 685.2h0M194.2 664.9h0M202.1 678.9h0M205.0 686.7h0M186.9 692.0h0M206.1 688.6h0M194.9 693.0h0M200.5 691.6h0M196.3 673.4h0M180.7 685.5h0M197.1 682.6h0M188.8 693.3h0M194.0 695.8h0M206.8 674.2h0M189.3 681.2h0M185.5 671.3h0M208.2 684.1h0M178.6 686.9h0M188.6 670.5h0M200.8 686.9h0M196.6 681.8h0M201.3 694.3h0M179.6 685.8h0M196.5 695.8h0M194.7 687.9h0M204.4 682.5h0M181.6 683.4h0M194.2 667.0h0M194.7 695.6h0M207.7 678.6h0M189.2 696.0h0M197.1 694.1h0M178.0 676.6h0M197.5 689.3h0M202.8 693.0h0M198.3 676.2h0" stroke="#5d55c8" stroke-width="1.04" stroke-linecap="round" stroke-opacity="0.85"/>
<circle cx="192.7" cy="680.6" r="16.2" fill="none" stroke="#9088d0" stroke-opacity="0.33" stroke-width="0.8"/>
<path d="M207.9 675.9 A15.9 15.9 0 0 1 183.3 693.5" fill="none" stroke="#9088d0" stroke-opacity="0.55" stroke-width="1.4"/>
<rect x="54.5" y="585.0" width="79.3" height="117.1" fill="none" stroke="#111" stroke-width="1.3"/>
<rect x="134.0" y="585.0" width="79.3" height="117.1" fill="none" stroke="#111" stroke-width="1.3"/>
<text x="65.7" y="716.8" font-size="12.6" text-anchor="end" stroke="#000" stroke-width="0.25">FOXA2-OE</text>
<text x="65.7" y="731.8" font-size="12.6" text-anchor="end" stroke="#000" stroke-width="0.25">ORY1001</text>
<text x="73.0" y="716.8" font-size="12.6" text-anchor="middle" stroke="#000" stroke-width="0.25">-</text>
<text x="73.0" y="731.8" font-size="12.6" text-anchor="middle" stroke="#000" stroke-width="0.25">-</text>
<text x="113.9" y="716.8" font-size="12.6" text-anchor="middle" stroke="#000" stroke-width="0.25">+</text>
<text x="113.9" y="731.8" font-size="12.6" text-anchor="middle" stroke="#000" stroke-width="0.25">-</text>
<text x="156.2" y="716.8" font-size="12.6" text-anchor="middle" stroke="#000" stroke-width="0.25">-</text>
<text x="156.2" y="731.8" font-size="12.6" text-anchor="middle" stroke="#000" stroke-width="0.25">+</text>
<text x="194.5" y="716.8" font-size="12.6" text-anchor="middle" stroke="#000" stroke-width="0.25">+</text>
<text x="194.5" y="731.8" font-size="12.6" text-anchor="middle" stroke="#000" stroke-width="0.25">+</text>
<text x="8.8" y="757.5" font-size="17" stroke="#000" stroke-width="0.25" font-weight="bold">l</text>
<text x="85.8" y="757.2" font-size="12.6" text-anchor="middle" stroke="#000" stroke-width="0.25">Control</text>
<text x="182.5" y="757.2" font-size="12.6" text-anchor="middle" stroke="#000" stroke-width="0.25">FOXA2-OE</text>
<text x="37.0" y="787.4" font-size="12.6" text-anchor="middle" stroke="#000" stroke-width="0.25" transform="rotate(-90 37.0 787.4)">Veh</text>
<text x="37.0" y="854.5" font-size="12.6" text-anchor="middle" stroke="#000" stroke-width="0.25" transform="rotate(-90 37.0 854.5)">ORY1001</text>
<rect x="39.4" y="760.0" width="92.7" height="60.3" fill="#030a03"/>
<g><circle cx="41.5" cy="767.6" r="0.87" fill="rgb(45,228,34)"/><circle cx="53.0" cy="767.6" r="0.76" fill="rgb(46,234,35)"/><circle cx="53.8" cy="804.2" r="1.06" fill="rgb(36,181,27)"/><circle cx="89.0" cy="787.1" r="0.89" fill="rgb(50,254,38)"/><circle cx="48.8" cy="762.2" r="1.26" fill="rgb(40,204,30)"/><circle cx="58.4" cy="780.3" r="0.86" fill="rgb(50,251,37)"/><circle cx="59.5" cy="773.6" r="1.01" fill="rgb(43,216,32)"/><circle cx="126.9" cy="809.9" r="0.85" fill="rgb(37,187,28)"/><circle cx="116.3" cy="818.7" r="0.62" fill="rgb(46,232,34)"/><circle cx="119.2" cy="799.0" r="0.75" fill="rgb(47,237,35)"/><circle cx="106.6" cy="772.3" r="1.05" fill="rgb(37,188,28)"/><circle cx="44.2" cy="780.6" r="0.83" fill="rgb(40,203,30)"/><circle cx="99.1" cy="809.7" r="1.27" fill="rgb(50,252,37)"/><circle cx="130.5" cy="807.0" r="0.81" fill="rgb(36,184,27)"/><circle cx="97.0" cy="792.8" r="1.07" fill="rgb(35,177,26)"/><circle cx="57.9" cy="814.7" r="1.02" fill="rgb(45,229,34)"/><circle cx="49.1" cy="784.3" r="1.24" fill="rgb(45,225,33)"/><circle cx="130.3" cy="772.5" r="0.92" fill="rgb(47,238,35)"/><circle cx="80.7" cy="807.0" r="0.99" fill="rgb(36,180,27)"/><circle cx="49.4" cy="818.3" r="0.68" fill="rgb(37,186,27)"/><circle cx="70.8" cy="802.6" r="1.20" fill="rgb(42,210,31)"/><circle cx="85.6" cy="807.0" r="0.79" fill="rgb(40,201,30)"/><circle cx="96.0" cy="798.1" r="0.63" fill="rgb(35,179,26)"/><circle cx="52.9" cy="803.3" r="1.09" fill="rgb(50,252,37)"/><circle cx="110.0" cy="775.9" r="1.14" fill="rgb(50,253,37)"/><circle cx="72.0" cy="761.7" r="0.86" fill="rgb(38,194,29)"/><circle cx="56.4" cy="763.6" r="0.69" fill="rgb(48,243,36)"/><circle cx="44.9" cy="796.8" r="0.74" fill="rgb(37,186,27)"/><circle cx="114.8" cy="778.4" r="0.73" fill="rgb(41,208,31)"/><circle cx="103.4" cy="791.6" r="1.20" fill="rgb(40,204,30)"/><circle cx="87.9" cy="802.8" r="0.92" fill="rgb(46,230,34)"/><circle cx="82.7" cy="768.8" r="0.69" fill="rgb(47,236,35)"/><circle cx="108.0" cy="816.0" r="1.08" fill="rgb(43,219,32)"/><circle cx="55.5" cy="810.7" r="0.68" fill="rgb(41,206,30)"/><circle cx="53.2" cy="783.2" r="0.82" fill="rgb(41,206,30)"/><circle cx="104.9" cy="792.6" r="0.77" fill="rgb(47,236,35)"/><circle cx="107.1" cy="809.2" r="0.62" fill="rgb(44,222,33)"/><circle cx="121.6" cy="776.1" r="0.74" fill="rgb(47,239,35)"/><circle cx="73.4" cy="784.4" r="1.17" fill="rgb(40,202,30)"/><circle cx="58.4" cy="773.5" r="0.84" fill="rgb(45,229,34)"/><circle cx="73.8" cy="806.0" r="0.65" fill="rgb(38,191,28)"/><circle cx="97.1" cy="789.0" r="0.95" fill="rgb(49,249,37)"/><circle cx="65.6" cy="771.6" r="0.62" fill="rgb(42,211,31)"/><circle cx="67.4" cy="788.6" r="0.60" fill="rgb(34,170,25)"/><circle cx="74.8" cy="805.2" r="0.81" fill="rgb(49,247,37)"/><circle cx="93.0" cy="784.5" r="1.14" fill="rgb(37,189,28)"/><circle cx="95.3" cy="810.4" r="0.98" fill="rgb(39,197,29)"/><circle cx="49.1" cy="794.5" r="0.73" fill="rgb(40,201,30)"/><circle cx="89.6" cy="815.9" r="1.07" fill="rgb(42,214,32)"/><circle cx="118.3" cy="779.0" r="0.87" fill="rgb(45,227,34)"/><circle cx="90.7" cy="773.9" r="0.89" fill="rgb(47,239,35)"/><circle cx="62.4" cy="802.1" r="0.63" fill="rgb(50,251,37)"/><circle cx="102.4" cy="779.9" r="1.29" fill="rgb(47,237,35)"/><circle cx="46.0" cy="775.5" r="0.94" fill="rgb(50,254,38)"/><circle cx="53.2" cy="763.8" r="0.82" fill="rgb(34,173,25)"/><circle cx="77.5" cy="792.4" r="0.91" fill="rgb(36,182,27)"/><circle cx="42.5" cy="807.8" r="0.91" fill="rgb(42,210,31)"/><circle cx="83.8" cy="801.0" r="1.23" fill="rgb(48,240,36)"/><circle cx="106.4" cy="780.8" r="0.72" fill="rgb(35,177,26)"/><circle cx="118.3" cy="764.3" r="1.00" fill="rgb(49,247,37)"/><circle cx="69.6" cy="783.7" r="0.89" fill="rgb(50,250,37)"/><circle cx="102.5" cy="809.9" r="0.63" fill="rgb(46,232,34)"/><circle cx="81.3" cy="784.4" r="1.17" fill="rgb(46,232,34)"/><circle cx="123.0" cy="804.1" r="1.24" fill="rgb(41,206,30)"/><circle cx="90.8" cy="806.8" r="0.92" fill="rgb(36,181,27)"/><circle cx="93.5" cy="811.8" r="1.21" fill="rgb(36,180,27)"/><circle cx="75.0" cy="774.3" r="0.84" fill="rgb(50,251,37)"/><circle cx="78.6" cy="779.3" r="0.79" fill="rgb(41,207,31)"/><circle cx="101.1" cy="781.0" r="0.73" fill="rgb(37,189,28)"/><circle cx="64.0" cy="813.8" r="0.72" fill="rgb(46,234,35)"/></g>
<text x="111.3" y="810.0" font-size="10.2" text-anchor="middle" fill="#fff" stroke="#fff" stroke-width="0.15">400 μm</text>
<line x1="92.9" y1="814.0" x2="124.7" y2="814.0" stroke="#d8d8d8" stroke-width="0.8"/>
<rect x="135.0" y="760.0" width="92.0" height="60.3" fill="#030a03"/>
<g><circle cx="143.0" cy="773.5" r="0.81" fill="rgb(49,246,36)"/><circle cx="180.7" cy="803.0" r="0.67" fill="rgb(42,213,31)"/><circle cx="211.9" cy="791.5" r="1.26" fill="rgb(48,244,36)"/><circle cx="169.4" cy="761.0" r="1.13" fill="rgb(36,180,27)"/><circle cx="136.8" cy="803.6" r="1.19" fill="rgb(48,241,36)"/><circle cx="221.8" cy="772.8" r="0.66" fill="rgb(36,180,27)"/><circle cx="224.0" cy="767.5" r="0.71" fill="rgb(34,171,25)"/><circle cx="140.4" cy="763.2" r="0.85" fill="rgb(36,183,27)"/><circle cx="163.9" cy="815.1" r="0.72" fill="rgb(47,239,35)"/><circle cx="202.5" cy="794.1" r="1.00" fill="rgb(47,235,35)"/><circle cx="188.8" cy="774.4" r="0.83" fill="rgb(38,190,28)"/><circle cx="172.1" cy="818.6" r="0.90" fill="rgb(35,175,26)"/><circle cx="178.9" cy="808.4" r="0.91" fill="rgb(45,229,34)"/><circle cx="144.2" cy="764.6" r="1.06" fill="rgb(34,174,26)"/><circle cx="163.2" cy="783.4" r="0.74" fill="rgb(34,173,25)"/><circle cx="136.6" cy="816.5" r="1.08" fill="rgb(50,250,37)"/><circle cx="180.3" cy="816.6" r="1.20" fill="rgb(44,222,33)"/><circle cx="183.3" cy="790.7" r="0.76" fill="rgb(40,201,30)"/><circle cx="201.1" cy="772.4" r="1.19" fill="rgb(42,213,31)"/><circle cx="190.4" cy="808.9" r="1.05" fill="rgb(36,181,27)"/><circle cx="158.3" cy="761.1" r="0.62" fill="rgb(50,250,37)"/><circle cx="189.4" cy="817.5" r="1.15" fill="rgb(39,196,29)"/><circle cx="223.0" cy="814.8" r="0.92" fill="rgb(35,177,26)"/><circle cx="164.7" cy="770.7" r="0.86" fill="rgb(35,177,26)"/><circle cx="200.2" cy="818.1" r="0.75" fill="rgb(47,236,35)"/><circle cx="188.6" cy="789.1" r="1.24" fill="rgb(40,202,30)"/><circle cx="209.9" cy="763.0" r="1.28" fill="rgb(37,185,27)"/><circle cx="136.3" cy="812.4" r="1.10" fill="rgb(45,227,34)"/><circle cx="204.9" cy="783.0" r="0.68" fill="rgb(39,197,29)"/><circle cx="221.8" cy="818.2" r="0.76" fill="rgb(41,207,31)"/><circle cx="176.6" cy="813.7" r="0.60" fill="rgb(48,240,36)"/><circle cx="158.8" cy="793.0" r="0.69" fill="rgb(35,177,26)"/><circle cx="215.5" cy="790.3" r="1.28" fill="rgb(48,243,36)"/><circle cx="203.7" cy="765.4" r="1.01" fill="rgb(50,254,38)"/><circle cx="181.3" cy="764.8" r="0.73" fill="rgb(50,253,37)"/><circle cx="223.9" cy="775.4" r="0.82" fill="rgb(46,230,34)"/><circle cx="181.7" cy="771.8" r="1.29" fill="rgb(44,222,33)"/><circle cx="168.9" cy="762.3" r="0.96" fill="rgb(46,233,34)"/><circle cx="152.0" cy="766.1" r="1.11" fill="rgb(49,248,37)"/><circle cx="169.9" cy="788.6" r="1.05" fill="rgb(42,214,32)"/><circle cx="147.6" cy="777.0" r="0.74" fill="rgb(37,186,27)"/><circle cx="143.9" cy="783.8" r="0.75" fill="rgb(48,242,36)"/><circle cx="165.0" cy="817.2" r="1.17" fill="rgb(38,192,28)"/><circle cx="149.9" cy="794.4" r="0.93" fill="rgb(43,215,32)"/><circle cx="147.1" cy="792.0" r="1.13" fill="rgb(41,207,31)"/><circle cx="159.0" cy="814.8" r="0.81" fill="rgb(50,254,38)"/><circle cx="198.0" cy="761.1" r="0.91" fill="rgb(36,182,27)"/><circle cx="206.8" cy="785.5" r="0.66" fill="rgb(50,250,37)"/><circle cx="207.9" cy="796.4" r="1.00" fill="rgb(35,176,26)"/><circle cx="224.4" cy="778.6" r="0.97" fill="rgb(42,211,31)"/><circle cx="178.5" cy="762.1" r="1.23" fill="rgb(42,211,31)"/><circle cx="171.4" cy="811.2" r="1.20" fill="rgb(46,231,34)"/><circle cx="217.7" cy="781.4" r="0.67" fill="rgb(39,199,29)"/><circle cx="190.1" cy="806.9" r="1.11" fill="rgb(44,223,33)"/><circle cx="190.1" cy="799.8" r="1.00" fill="rgb(34,171,25)"/><circle cx="185.2" cy="777.1" r="0.65" fill="rgb(44,222,33)"/><circle cx="211.7" cy="777.5" r="1.07" fill="rgb(44,223,33)"/><circle cx="197.3" cy="811.8" r="1.09" fill="rgb(35,176,26)"/><circle cx="191.5" cy="781.3" r="0.89" fill="rgb(45,227,34)"/><circle cx="151.6" cy="797.6" r="1.26" fill="rgb(35,176,26)"/><circle cx="212.6" cy="802.3" r="0.88" fill="rgb(47,235,35)"/><circle cx="143.1" cy="770.4" r="1.30" fill="rgb(44,222,33)"/><circle cx="151.1" cy="768.5" r="0.91" fill="rgb(43,216,32)"/><circle cx="225.1" cy="771.9" r="1.04" fill="rgb(41,207,31)"/><circle cx="186.1" cy="815.9" r="0.68" fill="rgb(48,240,36)"/><circle cx="201.8" cy="776.6" r="0.68" fill="rgb(46,233,34)"/><circle cx="212.8" cy="781.1" r="0.70" fill="rgb(43,217,32)"/><circle cx="196.4" cy="781.9" r="0.89" fill="rgb(35,178,26)"/><circle cx="148.7" cy="774.0" r="1.13" fill="rgb(36,180,27)"/><circle cx="153.8" cy="788.1" r="0.75" fill="rgb(38,190,28)"/><circle cx="202.3" cy="774.6" r="0.99" fill="rgb(35,177,26)"/><circle cx="182.6" cy="801.7" r="0.91" fill="rgb(37,186,27)"/><circle cx="138.7" cy="777.0" r="0.89" fill="rgb(35,178,26)"/><circle cx="174.4" cy="790.6" r="0.64" fill="rgb(45,226,33)"/><circle cx="222.0" cy="802.0" r="0.91" fill="rgb(48,240,36)"/><circle cx="221.0" cy="816.4" r="1.27" fill="rgb(47,235,35)"/><circle cx="220.9" cy="805.4" r="0.83" fill="rgb(36,181,27)"/><circle cx="179.8" cy="802.0" r="0.79" fill="rgb(40,200,30)"/><circle cx="143.4" cy="763.4" r="0.78" fill="rgb(48,242,36)"/><circle cx="141.4" cy="769.7" r="0.88" fill="rgb(50,252,37)"/><circle cx="155.6" cy="763.5" r="0.63" fill="rgb(39,199,29)"/><circle cx="136.5" cy="800.1" r="0.64" fill="rgb(37,186,27)"/><circle cx="142.9" cy="776.7" r="0.66" fill="rgb(36,183,27)"/><circle cx="153.4" cy="774.6" r="1.04" fill="rgb(40,201,30)"/><circle cx="154.7" cy="761.7" r="1.21" fill="rgb(48,242,36)"/><circle cx="221.3" cy="802.4" r="0.90" fill="rgb(39,197,29)"/><circle cx="153.5" cy="786.7" r="0.89" fill="rgb(49,249,37)"/><circle cx="154.0" cy="801.8" r="1.11" fill="rgb(45,225,33)"/><circle cx="191.2" cy="763.5" r="0.70" fill="rgb(42,214,32)"/><circle cx="190.3" cy="817.1" r="1.15" fill="rgb(37,188,28)"/><circle cx="149.3" cy="806.1" r="0.61" fill="rgb(49,247,37)"/><circle cx="143.8" cy="795.9" r="1.19" fill="rgb(35,177,26)"/><circle cx="145.2" cy="797.8" r="1.10" fill="rgb(34,170,25)"/><circle cx="178.2" cy="807.3" r="1.14" fill="rgb(40,203,30)"/><circle cx="136.7" cy="797.0" r="0.98" fill="rgb(41,205,30)"/><circle cx="189.7" cy="795.1" r="0.94" fill="rgb(43,216,32)"/><circle cx="186.5" cy="806.0" r="1.15" fill="rgb(34,171,25)"/><circle cx="206.6" cy="775.2" r="0.90" fill="rgb(37,188,28)"/><circle cx="163.7" cy="784.2" r="0.92" fill="rgb(35,179,26)"/><circle cx="162.5" cy="787.6" r="0.87" fill="rgb(43,215,32)"/><circle cx="142.2" cy="793.6" r="1.23" fill="rgb(46,232,34)"/><circle cx="186.2" cy="808.0" r="0.87" fill="rgb(37,185,27)"/><circle cx="191.1" cy="775.2" r="0.79" fill="rgb(47,235,35)"/><circle cx="181.8" cy="771.2" r="0.75" fill="rgb(46,232,34)"/><circle cx="194.5" cy="813.4" r="1.12" fill="rgb(38,194,29)"/><circle cx="199.2" cy="812.4" r="1.22" fill="rgb(49,247,37)"/><circle cx="149.0" cy="775.6" r="0.72" fill="rgb(47,239,35)"/><circle cx="198.4" cy="793.5" r="0.74" fill="rgb(40,204,30)"/><circle cx="198.1" cy="762.9" r="1.22" fill="rgb(45,229,34)"/><circle cx="216.5" cy="816.3" r="0.96" fill="rgb(39,195,29)"/><circle cx="170.2" cy="789.4" r="1.02" fill="rgb(38,193,28)"/><circle cx="162.0" cy="790.9" r="1.12" fill="rgb(34,171,25)"/><circle cx="217.1" cy="798.9" r="0.95" fill="rgb(43,217,32)"/><circle cx="210.0" cy="786.0" r="0.83" fill="rgb(35,177,26)"/><circle cx="166.1" cy="764.5" r="0.78" fill="rgb(44,224,33)"/><circle cx="168.2" cy="814.1" r="0.93" fill="rgb(48,241,36)"/><circle cx="154.7" cy="818.0" r="1.20" fill="rgb(49,246,36)"/><circle cx="208.5" cy="791.2" r="0.71" fill="rgb(48,241,36)"/><circle cx="222.1" cy="787.7" r="1.14" fill="rgb(44,223,33)"/><circle cx="205.3" cy="814.0" r="1.06" fill="rgb(36,182,27)"/><circle cx="175.4" cy="792.6" r="0.76" fill="rgb(45,229,34)"/><circle cx="165.5" cy="766.1" r="0.85" fill="rgb(46,232,34)"/><circle cx="193.2" cy="779.9" r="0.89" fill="rgb(45,228,34)"/><circle cx="212.5" cy="767.3" r="0.74" fill="rgb(41,205,30)"/><circle cx="155.6" cy="771.5" r="0.81" fill="rgb(36,182,27)"/><circle cx="139.3" cy="785.9" r="0.91" fill="rgb(44,222,33)"/><circle cx="219.8" cy="815.8" r="0.93" fill="rgb(38,193,28)"/><circle cx="191.6" cy="786.9" r="1.01" fill="rgb(49,248,37)"/><circle cx="204.3" cy="818.5" r="1.17" fill="rgb(47,235,35)"/><circle cx="225.6" cy="803.9" r="1.12" fill="rgb(45,227,34)"/><circle cx="223.2" cy="792.0" r="0.87" fill="rgb(44,222,33)"/><circle cx="153.2" cy="806.9" r="0.97" fill="rgb(40,200,30)"/><circle cx="196.9" cy="802.4" r="1.03" fill="rgb(39,196,29)"/><circle cx="182.7" cy="761.7" r="0.89" fill="rgb(34,171,25)"/><circle cx="189.6" cy="765.5" r="0.76" fill="rgb(47,236,35)"/><circle cx="199.6" cy="773.9" r="0.62" fill="rgb(50,251,37)"/><circle cx="174.8" cy="764.4" r="0.97" fill="rgb(47,239,35)"/><circle cx="189.5" cy="777.9" r="0.96" fill="rgb(40,201,30)"/><circle cx="221.1" cy="807.4" r="0.75" fill="rgb(44,222,33)"/><circle cx="208.6" cy="772.9" r="0.70" fill="rgb(43,218,32)"/><circle cx="193.5" cy="785.7" r="0.98" fill="rgb(44,220,33)"/><circle cx="198.8" cy="766.8" r="0.84" fill="rgb(36,182,27)"/><circle cx="156.0" cy="814.3" r="1.04" fill="rgb(48,240,36)"/><circle cx="172.3" cy="773.5" r="0.66" fill="rgb(47,235,35)"/><circle cx="213.5" cy="803.7" r="0.75" fill="rgb(46,234,35)"/><circle cx="216.2" cy="778.9" r="0.95" fill="rgb(50,253,37)"/><circle cx="154.1" cy="799.0" r="1.14" fill="rgb(43,218,32)"/><circle cx="218.4" cy="790.2" r="0.71" fill="rgb(40,200,30)"/><circle cx="164.3" cy="790.6" r="0.86" fill="rgb(48,240,36)"/><circle cx="192.3" cy="807.6" r="1.02" fill="rgb(35,176,26)"/><circle cx="152.1" cy="768.3" r="1.10" fill="rgb(40,200,30)"/><circle cx="210.1" cy="813.0" r="1.20" fill="rgb(45,226,33)"/><circle cx="157.3" cy="765.8" r="0.94" fill="rgb(47,237,35)"/><circle cx="215.3" cy="765.5" r="0.64" fill="rgb(41,205,30)"/><circle cx="190.5" cy="779.8" r="1.08" fill="rgb(46,234,35)"/><circle cx="210.8" cy="815.1" r="0.72" fill="rgb(50,250,37)"/><circle cx="142.2" cy="796.5" r="1.14" fill="rgb(35,179,26)"/><circle cx="160.0" cy="800.9" r="0.90" fill="rgb(35,179,26)"/><circle cx="140.5" cy="796.4" r="0.70" fill="rgb(36,182,27)"/><circle cx="159.7" cy="792.2" r="0.66" fill="rgb(39,198,29)"/><circle cx="161.6" cy="775.7" r="1.12" fill="rgb(41,209,31)"/><circle cx="206.7" cy="815.3" r="1.26" fill="rgb(38,190,28)"/><circle cx="197.2" cy="769.0" r="0.63" fill="rgb(44,223,33)"/><circle cx="183.7" cy="770.5" r="0.81" fill="rgb(46,230,34)"/><circle cx="190.9" cy="767.4" r="1.20" fill="rgb(34,171,25)"/><circle cx="172.4" cy="796.6" r="0.77" fill="rgb(36,183,27)"/><circle cx="183.0" cy="813.8" r="0.71" fill="rgb(35,179,26)"/><circle cx="163.7" cy="817.3" r="0.63" fill="rgb(44,220,33)"/><circle cx="194.3" cy="816.3" r="0.69" fill="rgb(46,233,34)"/><circle cx="174.5" cy="813.2" r="1.25" fill="rgb(44,222,33)"/><circle cx="192.5" cy="767.7" r="0.82" fill="rgb(49,247,37)"/><circle cx="193.7" cy="776.1" r="0.73" fill="rgb(47,239,35)"/><circle cx="207.3" cy="798.5" r="1.17" fill="rgb(37,187,28)"/><circle cx="179.8" cy="811.7" r="1.11" fill="rgb(40,202,30)"/><circle cx="170.9" cy="811.4" r="1.08" fill="rgb(37,185,27)"/><circle cx="166.5" cy="775.4" r="0.85" fill="rgb(41,208,31)"/><circle cx="138.3" cy="761.5" r="1.11" fill="rgb(41,207,31)"/><circle cx="137.1" cy="787.6" r="1.05" fill="rgb(39,199,29)"/><circle cx="154.4" cy="811.9" r="1.16" fill="rgb(42,212,31)"/><circle cx="196.4" cy="800.2" r="1.00" fill="rgb(39,198,29)"/><circle cx="170.1" cy="774.7" r="0.85" fill="rgb(35,176,26)"/><circle cx="207.7" cy="778.4" r="0.62" fill="rgb(37,187,28)"/><circle cx="209.3" cy="795.3" r="0.74" fill="rgb(34,174,26)"/><circle cx="171.8" cy="793.5" r="1.02" fill="rgb(36,180,27)"/><circle cx="205.2" cy="809.7" r="0.98" fill="rgb(50,252,37)"/><circle cx="157.0" cy="775.1" r="0.74" fill="rgb(49,245,36)"/><circle cx="213.3" cy="773.4" r="1.11" fill="rgb(39,199,29)"/><circle cx="208.6" cy="778.3" r="1.03" fill="rgb(44,222,33)"/><circle cx="190.0" cy="811.1" r="1.03" fill="rgb(37,189,28)"/><circle cx="168.9" cy="776.9" r="0.96" fill="rgb(41,206,30)"/><circle cx="180.8" cy="779.6" r="1.16" fill="rgb(41,208,31)"/><circle cx="178.2" cy="787.0" r="0.95" fill="rgb(40,200,30)"/><circle cx="178.3" cy="762.1" r="0.95" fill="rgb(37,188,28)"/><circle cx="171.2" cy="767.4" r="0.66" fill="rgb(40,200,30)"/><circle cx="191.9" cy="761.1" r="1.24" fill="rgb(37,187,28)"/><circle cx="164.2" cy="775.8" r="1.26" fill="rgb(48,243,36)"/><circle cx="222.9" cy="804.5" r="1.14" fill="rgb(35,178,26)"/><circle cx="161.1" cy="813.4" r="0.91" fill="rgb(36,183,27)"/><circle cx="171.6" cy="788.3" r="1.07" fill="rgb(45,227,34)"/><circle cx="180.7" cy="774.5" r="1.01" fill="rgb(45,226,33)"/><circle cx="169.6" cy="819.1" r="0.92" fill="rgb(35,177,26)"/><circle cx="170.3" cy="791.6" r="0.84" fill="rgb(47,236,35)"/><circle cx="200.2" cy="786.5" r="1.11" fill="rgb(47,237,35)"/><circle cx="156.3" cy="819.1" r="0.60" fill="rgb(50,251,37)"/><circle cx="204.1" cy="808.3" r="0.60" fill="rgb(48,241,36)"/><circle cx="155.9" cy="776.2" r="1.22" fill="rgb(42,211,31)"/><circle cx="222.9" cy="801.3" r="1.22" fill="rgb(44,222,33)"/><circle cx="222.6" cy="798.2" r="0.87" fill="rgb(38,194,29)"/><circle cx="185.7" cy="775.3" r="1.30" fill="rgb(49,249,37)"/><circle cx="217.4" cy="806.0" r="1.20" fill="rgb(44,222,33)"/><circle cx="225.3" cy="767.9" r="0.75" fill="rgb(42,210,31)"/><circle cx="147.1" cy="763.7" r="1.06" fill="rgb(47,235,35)"/><circle cx="220.6" cy="803.2" r="1.24" fill="rgb(38,194,29)"/><circle cx="158.5" cy="788.7" r="0.60" fill="rgb(35,177,26)"/><circle cx="165.6" cy="795.7" r="1.22" fill="rgb(41,209,31)"/><circle cx="189.7" cy="771.9" r="1.25" fill="rgb(46,231,34)"/><circle cx="172.6" cy="761.8" r="1.12" fill="rgb(40,202,30)"/><circle cx="205.6" cy="773.7" r="1.21" fill="rgb(44,221,33)"/><circle cx="182.3" cy="785.1" r="0.80" fill="rgb(39,199,29)"/><circle cx="165.9" cy="793.3" r="0.66" fill="rgb(36,181,27)"/><circle cx="208.5" cy="769.4" r="0.60" fill="rgb(49,248,37)"/><circle cx="157.9" cy="805.3" r="0.82" fill="rgb(50,251,37)"/><circle cx="147.1" cy="775.8" r="1.06" fill="rgb(36,184,27)"/><circle cx="167.7" cy="785.1" r="1.17" fill="rgb(45,225,33)"/><circle cx="178.8" cy="776.2" r="0.65" fill="rgb(50,253,37)"/><circle cx="167.7" cy="767.9" r="0.90" fill="rgb(36,180,27)"/><circle cx="171.7" cy="773.5" r="1.04" fill="rgb(42,213,31)"/><circle cx="222.7" cy="816.0" r="0.82" fill="rgb(44,220,33)"/><circle cx="148.2" cy="818.6" r="1.20" fill="rgb(41,206,30)"/><circle cx="202.0" cy="773.3" r="0.61" fill="rgb(34,171,25)"/><circle cx="164.5" cy="790.5" r="0.78" fill="rgb(37,189,28)"/><circle cx="199.9" cy="774.3" r="0.81" fill="rgb(39,198,29)"/><circle cx="138.6" cy="815.7" r="1.05" fill="rgb(34,174,26)"/><circle cx="139.3" cy="774.6" r="0.70" fill="rgb(38,191,28)"/><circle cx="203.4" cy="811.1" r="1.13" fill="rgb(34,171,25)"/><circle cx="200.7" cy="801.3" r="1.02" fill="rgb(37,186,27)"/><circle cx="190.4" cy="768.3" r="0.96" fill="rgb(47,239,35)"/><circle cx="202.7" cy="809.8" r="1.24" fill="rgb(39,195,29)"/><circle cx="156.6" cy="781.4" r="1.09" fill="rgb(38,192,28)"/><circle cx="146.9" cy="797.6" r="1.15" fill="rgb(34,172,25)"/><circle cx="187.1" cy="781.1" r="0.86" fill="rgb(45,227,34)"/><circle cx="209.7" cy="781.8" r="0.73" fill="rgb(37,188,28)"/><circle cx="222.8" cy="770.4" r="0.98" fill="rgb(40,201,30)"/><circle cx="206.4" cy="784.5" r="1.14" fill="rgb(50,253,37)"/><circle cx="146.6" cy="794.3" r="1.23" fill="rgb(47,239,35)"/><circle cx="213.9" cy="800.1" r="0.97" fill="rgb(38,193,28)"/><circle cx="185.4" cy="766.7" r="1.01" fill="rgb(42,210,31)"/><circle cx="218.1" cy="815.8" r="0.91" fill="rgb(40,202,30)"/><circle cx="214.1" cy="785.3" r="1.01" fill="rgb(37,186,27)"/><circle cx="210.6" cy="798.3" r="0.92" fill="rgb(34,170,25)"/><circle cx="171.2" cy="810.5" r="1.17" fill="rgb(50,253,37)"/><circle cx="161.0" cy="788.4" r="0.74" fill="rgb(46,233,34)"/><circle cx="172.4" cy="763.7" r="0.94" fill="rgb(37,185,27)"/><circle cx="210.3" cy="804.9" r="0.63" fill="rgb(43,215,32)"/><circle cx="185.2" cy="786.0" r="0.65" fill="rgb(39,198,29)"/><circle cx="144.2" cy="818.3" r="0.69" fill="rgb(34,174,26)"/><circle cx="163.2" cy="792.5" r="0.82" fill="rgb(46,231,34)"/><circle cx="215.7" cy="781.3" r="0.79" fill="rgb(35,177,26)"/><circle cx="177.0" cy="779.8" r="0.66" fill="rgb(44,221,33)"/><circle cx="221.3" cy="803.9" r="0.76" fill="rgb(46,233,34)"/><circle cx="190.2" cy="809.4" r="0.62" fill="rgb(41,207,31)"/><circle cx="188.4" cy="772.5" r="0.72" fill="rgb(38,190,28)"/><circle cx="182.3" cy="810.4" r="1.04" fill="rgb(42,210,31)"/><circle cx="192.3" cy="780.3" r="0.81" fill="rgb(44,223,33)"/><circle cx="183.9" cy="767.3" r="1.25" fill="rgb(39,195,29)"/><circle cx="159.2" cy="777.0" r="1.22" fill="rgb(49,246,36)"/><circle cx="193.8" cy="761.9" r="0.79" fill="rgb(34,174,26)"/><circle cx="183.5" cy="773.0" r="0.76" fill="rgb(46,234,35)"/><circle cx="142.2" cy="810.9" r="0.72" fill="rgb(50,252,37)"/><circle cx="196.5" cy="809.9" r="0.81" fill="rgb(43,219,32)"/><circle cx="200.3" cy="813.8" r="0.95" fill="rgb(35,179,26)"/><circle cx="224.9" cy="768.7" r="1.01" fill="rgb(40,204,30)"/><circle cx="194.8" cy="769.5" r="0.67" fill="rgb(39,196,29)"/><circle cx="152.1" cy="770.7" r="0.86" fill="rgb(42,214,32)"/><circle cx="222.3" cy="797.3" r="0.65" fill="rgb(49,249,37)"/><circle cx="225.3" cy="765.5" r="1.11" fill="rgb(44,221,33)"/><circle cx="196.9" cy="801.1" r="0.83" fill="rgb(46,230,34)"/><circle cx="209.8" cy="780.8" r="0.70" fill="rgb(47,238,35)"/><circle cx="185.4" cy="817.4" r="0.67" fill="rgb(34,171,25)"/><circle cx="195.1" cy="788.6" r="0.79" fill="rgb(43,216,32)"/><circle cx="218.2" cy="778.8" r="1.13" fill="rgb(39,198,29)"/><circle cx="203.7" cy="789.8" r="0.70" fill="rgb(45,228,34)"/><circle cx="179.4" cy="810.2" r="1.29" fill="rgb(36,182,27)"/><circle cx="174.3" cy="807.6" r="0.71" fill="rgb(35,178,26)"/><circle cx="224.7" cy="766.5" r="0.96" fill="rgb(45,225,33)"/><circle cx="193.9" cy="788.1" r="1.04" fill="rgb(37,189,28)"/><circle cx="199.5" cy="782.1" r="0.76" fill="rgb(34,174,26)"/><circle cx="154.5" cy="811.6" r="0.95" fill="rgb(49,248,37)"/><circle cx="170.6" cy="789.7" r="1.26" fill="rgb(42,212,31)"/><circle cx="160.9" cy="770.5" r="1.29" fill="rgb(34,174,26)"/><circle cx="208.8" cy="778.7" r="1.18" fill="rgb(42,214,32)"/><circle cx="159.8" cy="816.2" r="1.10" fill="rgb(48,241,36)"/><circle cx="145.9" cy="809.8" r="0.73" fill="rgb(39,198,29)"/><circle cx="140.6" cy="792.8" r="1.08" fill="rgb(46,233,34)"/><circle cx="136.2" cy="768.3" r="0.89" fill="rgb(47,239,35)"/><circle cx="158.5" cy="813.6" r="0.78" fill="rgb(41,205,30)"/><circle cx="197.1" cy="773.4" r="0.61" fill="rgb(35,178,26)"/><circle cx="215.5" cy="812.0" r="0.75" fill="rgb(34,170,25)"/><circle cx="181.3" cy="815.7" r="1.26" fill="rgb(34,171,25)"/><circle cx="152.4" cy="803.9" r="1.04" fill="rgb(46,230,34)"/><circle cx="202.8" cy="771.6" r="1.05" fill="rgb(46,230,34)"/><circle cx="212.5" cy="814.3" r="0.72" fill="rgb(45,228,34)"/><circle cx="171.7" cy="769.6" r="1.18" fill="rgb(39,196,29)"/><circle cx="161.3" cy="799.5" r="0.71" fill="rgb(49,245,36)"/><circle cx="165.6" cy="780.3" r="1.06" fill="rgb(36,183,27)"/><circle cx="223.5" cy="804.8" r="0.63" fill="rgb(36,184,27)"/><circle cx="208.7" cy="807.7" r="0.60" fill="rgb(46,231,34)"/><circle cx="176.6" cy="799.6" r="0.94" fill="rgb(36,183,27)"/><circle cx="215.3" cy="798.1" r="0.62" fill="rgb(38,194,29)"/><circle cx="214.6" cy="813.5" r="1.19" fill="rgb(46,230,34)"/><circle cx="172.9" cy="807.8" r="1.01" fill="rgb(50,254,38)"/><circle cx="162.2" cy="813.3" r="1.03" fill="rgb(37,185,27)"/><circle cx="163.5" cy="797.5" r="0.73" fill="rgb(45,227,34)"/><circle cx="169.2" cy="770.0" r="1.14" fill="rgb(50,250,37)"/><circle cx="208.1" cy="797.4" r="0.90" fill="rgb(42,212,31)"/><circle cx="203.2" cy="813.9" r="1.13" fill="rgb(41,207,31)"/><circle cx="141.3" cy="808.0" r="0.81" fill="rgb(50,251,37)"/><circle cx="197.2" cy="788.0" r="0.79" fill="rgb(43,218,32)"/><circle cx="216.9" cy="789.0" r="1.20" fill="rgb(46,233,34)"/><circle cx="198.5" cy="799.4" r="0.70" fill="rgb(49,248,37)"/><circle cx="137.9" cy="812.0" r="0.79" fill="rgb(45,226,33)"/><circle cx="208.3" cy="769.0" r="0.68" fill="rgb(45,229,34)"/><circle cx="187.1" cy="813.7" r="1.04" fill="rgb(44,223,33)"/><circle cx="163.9" cy="772.0" r="1.04" fill="rgb(50,252,37)"/><circle cx="181.4" cy="781.2" r="1.24" fill="rgb(46,232,34)"/><circle cx="207.6" cy="803.3" r="0.78" fill="rgb(50,253,37)"/><circle cx="180.4" cy="791.7" r="0.84" fill="rgb(38,193,28)"/><circle cx="203.5" cy="800.6" r="1.22" fill="rgb(44,222,33)"/><circle cx="163.8" cy="783.5" r="1.04" fill="rgb(50,251,37)"/><circle cx="147.8" cy="765.8" r="0.83" fill="rgb(38,190,28)"/></g>
<text x="206.2" y="810.0" font-size="10.2" text-anchor="middle" fill="#fff" stroke="#fff" stroke-width="0.15">400 μm</text>
<line x1="187.8" y1="814.0" x2="219.6" y2="814.0" stroke="#d8d8d8" stroke-width="0.8"/>
<rect x="39.4" y="823.2" width="92.7" height="61.0" fill="#030a03"/>
<g><circle cx="92.1" cy="861.5" r="1.17" fill="rgb(23,116,17)"/><circle cx="99.5" cy="876.8" r="1.24" fill="rgb(22,111,16)"/><circle cx="99.5" cy="860.6" r="0.95" fill="rgb(30,151,22)"/><circle cx="88.3" cy="850.5" r="1.26" fill="rgb(26,134,20)"/><circle cx="67.7" cy="842.4" r="0.95" fill="rgb(20,104,15)"/><circle cx="95.5" cy="867.6" r="0.90" fill="rgb(29,145,21)"/><circle cx="124.6" cy="857.0" r="1.08" fill="rgb(21,107,16)"/><circle cx="45.5" cy="882.0" r="0.80" fill="rgb(22,112,16)"/><circle cx="121.7" cy="868.4" r="0.69" fill="rgb(23,118,17)"/><circle cx="62.4" cy="840.3" r="0.60" fill="rgb(25,128,19)"/><circle cx="68.0" cy="847.5" r="0.73" fill="rgb(21,107,16)"/><circle cx="43.4" cy="875.7" r="1.12" fill="rgb(26,130,19)"/><circle cx="51.6" cy="833.0" r="0.68" fill="rgb(23,118,17)"/><circle cx="45.6" cy="840.4" r="0.74" fill="rgb(22,111,16)"/><circle cx="99.7" cy="851.2" r="0.93" fill="rgb(24,120,18)"/><circle cx="89.3" cy="870.5" r="0.82" fill="rgb(21,105,15)"/><circle cx="84.0" cy="846.6" r="1.15" fill="rgb(21,107,16)"/><circle cx="119.6" cy="825.1" r="0.98" fill="rgb(24,124,18)"/></g>
<text x="111.3" y="873.9" font-size="10.2" text-anchor="middle" fill="#fff" stroke="#fff" stroke-width="0.15">400 μm</text>
<line x1="92.9" y1="877.9" x2="124.7" y2="877.9" stroke="#d8d8d8" stroke-width="0.8"/>
<rect x="135.0" y="823.2" width="92.0" height="61.0" fill="#030a03"/>
<g><circle cx="183.6" cy="858.8" r="1.19" fill="rgb(36,184,27)"/><circle cx="215.4" cy="845.7" r="1.26" fill="rgb(30,154,23)"/><circle cx="163.6" cy="829.8" r="0.96" fill="rgb(27,137,20)"/><circle cx="160.7" cy="860.2" r="1.14" fill="rgb(35,175,26)"/><circle cx="143.8" cy="827.8" r="0.78" fill="rgb(32,162,24)"/><circle cx="211.5" cy="871.4" r="1.25" fill="rgb(33,165,24)"/><circle cx="193.3" cy="841.4" r="0.82" fill="rgb(28,140,21)"/><circle cx="184.2" cy="860.0" r="1.00" fill="rgb(30,152,22)"/><circle cx="174.2" cy="838.9" r="1.17" fill="rgb(32,164,24)"/><circle cx="203.4" cy="872.1" r="0.80" fill="rgb(26,134,20)"/><circle cx="161.5" cy="877.7" r="1.15" fill="rgb(30,153,22)"/><circle cx="205.9" cy="844.4" r="1.21" fill="rgb(26,133,19)"/><circle cx="202.7" cy="882.0" r="0.89" fill="rgb(31,156,23)"/><circle cx="147.8" cy="840.4" r="0.76" fill="rgb(29,146,21)"/><circle cx="142.2" cy="841.9" r="0.67" fill="rgb(32,160,24)"/><circle cx="172.6" cy="837.6" r="1.26" fill="rgb(29,147,22)"/><circle cx="183.8" cy="877.0" r="1.13" fill="rgb(37,189,28)"/><circle cx="190.8" cy="875.6" r="0.65" fill="rgb(34,174,26)"/><circle cx="166.2" cy="843.1" r="1.14" fill="rgb(34,174,26)"/><circle cx="166.8" cy="845.6" r="0.80" fill="rgb(37,187,28)"/><circle cx="191.3" cy="839.5" r="0.97" fill="rgb(26,131,19)"/><circle cx="160.3" cy="853.8" r="1.28" fill="rgb(36,182,27)"/><circle cx="185.3" cy="869.2" r="0.78" fill="rgb(34,171,25)"/><circle cx="225.7" cy="833.3" r="1.25" fill="rgb(38,190,28)"/><circle cx="169.1" cy="872.2" r="1.29" fill="rgb(27,136,20)"/><circle cx="177.8" cy="859.2" r="1.16" fill="rgb(28,144,21)"/><circle cx="203.7" cy="865.7" r="1.20" fill="rgb(34,174,26)"/><circle cx="213.5" cy="859.8" r="0.98" fill="rgb(31,156,23)"/><circle cx="172.6" cy="851.5" r="0.95" fill="rgb(30,152,22)"/><circle cx="149.1" cy="847.7" r="1.26" fill="rgb(29,147,22)"/><circle cx="224.4" cy="873.3" r="0.92" fill="rgb(28,141,21)"/><circle cx="215.1" cy="880.5" r="0.82" fill="rgb(34,170,25)"/><circle cx="203.8" cy="860.8" r="0.68" fill="rgb(28,142,21)"/><circle cx="200.9" cy="861.7" r="1.07" fill="rgb(29,145,21)"/><circle cx="215.2" cy="870.0" r="0.94" fill="rgb(36,181,27)"/><circle cx="163.2" cy="855.7" r="0.96" fill="rgb(37,189,28)"/><circle cx="220.4" cy="844.3" r="1.15" fill="rgb(29,146,21)"/><circle cx="215.5" cy="876.8" r="1.08" fill="rgb(25,129,19)"/><circle cx="163.5" cy="834.3" r="0.95" fill="rgb(25,129,19)"/><circle cx="141.6" cy="830.1" r="1.21" fill="rgb(33,165,24)"/><circle cx="214.0" cy="879.9" r="1.00" fill="rgb(36,181,27)"/><circle cx="175.1" cy="860.1" r="0.72" fill="rgb(31,155,23)"/><circle cx="144.7" cy="851.5" r="1.27" fill="rgb(38,190,28)"/><circle cx="203.5" cy="826.8" r="1.29" fill="rgb(32,161,24)"/><circle cx="196.8" cy="848.2" r="1.14" fill="rgb(29,147,22)"/><circle cx="145.9" cy="851.3" r="0.73" fill="rgb(28,141,21)"/><circle cx="153.8" cy="865.6" r="1.08" fill="rgb(28,141,21)"/><circle cx="197.8" cy="825.9" r="1.26" fill="rgb(28,142,21)"/><circle cx="182.0" cy="846.0" r="1.20" fill="rgb(31,155,23)"/><circle cx="151.1" cy="875.0" r="1.01" fill="rgb(28,144,21)"/><circle cx="200.2" cy="877.1" r="1.12" fill="rgb(35,178,26)"/><circle cx="167.8" cy="838.1" r="0.64" fill="rgb(36,184,27)"/><circle cx="156.9" cy="845.9" r="1.16" fill="rgb(26,134,20)"/><circle cx="219.6" cy="857.3" r="0.72" fill="rgb(35,179,26)"/><circle cx="196.3" cy="827.9" r="0.94" fill="rgb(34,172,25)"/><circle cx="160.5" cy="844.0" r="1.20" fill="rgb(27,136,20)"/><circle cx="158.7" cy="831.5" r="0.94" fill="rgb(31,155,23)"/><circle cx="160.7" cy="829.7" r="0.69" fill="rgb(35,175,26)"/><circle cx="188.3" cy="871.5" r="0.68" fill="rgb(37,188,28)"/><circle cx="198.0" cy="858.2" r="1.18" fill="rgb(26,132,19)"/></g>
<text x="206.2" y="873.9" font-size="10.2" text-anchor="middle" fill="#fff" stroke="#fff" stroke-width="0.15">400 μm</text>
<line x1="187.8" y1="877.9" x2="219.6" y2="877.9" stroke="#d8d8d8" stroke-width="0.8"/>
<text x="246.7" y="578.9" font-size="17" stroke="#000" stroke-width="0.25" font-weight="bold">m</text>
<text x="387.7" y="592.3" font-size="12.6" text-anchor="middle" stroke="#000" stroke-width="0.25">PC-3 Xenograft</text>
<line x1="344.2" y1="594.1" x2="431.2" y2="594.1" stroke="#000" stroke-width="0.9"/>
<line x1="314.6" y1="593.8" x2="314.6" y2="715.6" stroke="#222" stroke-width="1.0"/>
<line x1="314.6" y1="715.1" x2="459.7" y2="715.1" stroke="#222" stroke-width="1.0"/>
<line x1="311.6" y1="594.2" x2="314.6" y2="594.2" stroke="#222" stroke-width="1"/>
<text x="310.6" y="598.6" font-size="12.6" text-anchor="end" stroke="#000" stroke-width="0.25">600</text>
<line x1="311.6" y1="634.5" x2="314.6" y2="634.5" stroke="#222" stroke-width="1"/>
<text x="310.6" y="638.9" font-size="12.6" text-anchor="end" stroke="#000" stroke-width="0.25">400</text>
<line x1="311.6" y1="674.8" x2="314.6" y2="674.8" stroke="#222" stroke-width="1"/>
<text x="310.6" y="679.2" font-size="12.6" text-anchor="end" stroke="#000" stroke-width="0.25">200</text>
<line x1="311.6" y1="715.1" x2="314.6" y2="715.1" stroke="#222" stroke-width="1"/>
<text x="310.6" y="719.5" font-size="12.6" text-anchor="end" stroke="#000" stroke-width="0.25">0</text>
<text x="272.0" y="647.5" font-size="12.6" text-anchor="middle" stroke="#000" stroke-width="0.25" transform="rotate(-90 272.0 647.5)">Tumor Volume (mm<tspan font-size="8" dy="-4">3</tspan><tspan dy="4">)</tspan></text>
<text x="320.0" y="729.5" font-size="10.5" text-anchor="middle" stroke="#000" stroke-width="0.15">0</text>
<text x="334.6" y="729.5" font-size="10.5" text-anchor="middle" stroke="#000" stroke-width="0.15">5</text>
<text x="349.2" y="729.5" font-size="10.5" text-anchor="middle" stroke="#000" stroke-width="0.15">7</text>
<text x="363.6" y="729.5" font-size="10.5" text-anchor="middle" stroke="#000" stroke-width="0.15">9</text>
<text x="378.0" y="729.5" font-size="10.5" text-anchor="middle" stroke="#000" stroke-width="0.15">11</text>
<text x="392.6" y="729.5" font-size="10.5" text-anchor="middle" stroke="#000" stroke-width="0.15">13</text>
<text x="407.4" y="729.5" font-size="10.5" text-anchor="middle" stroke="#000" stroke-width="0.15">15</text>
<text x="422.0" y="729.5" font-size="10.5" text-anchor="middle" stroke="#000" stroke-width="0.15">17</text>
<text x="436.5" y="729.5" font-size="10.5" text-anchor="middle" stroke="#000" stroke-width="0.15">19</text>
<text x="451.0" y="729.5" font-size="10.5" text-anchor="middle" stroke="#000" stroke-width="0.15">21</text>
<line x1="334.6" y1="691.3" x2="334.6" y2="694.5" stroke="#777" stroke-width="0.9"/>
<line x1="331.6" y1="691.3" x2="337.6" y2="691.3" stroke="#777" stroke-width="0.9"/>
<line x1="331.6" y1="694.5" x2="337.6" y2="694.5" stroke="#777" stroke-width="0.9"/>
<line x1="349.2" y1="684.3" x2="349.2" y2="687.5" stroke="#777" stroke-width="0.9"/>
<line x1="346.2" y1="684.3" x2="352.2" y2="684.3" stroke="#777" stroke-width="0.9"/>
<line x1="346.2" y1="687.5" x2="352.2" y2="687.5" stroke="#777" stroke-width="0.9"/>
<line x1="363.6" y1="677.8" x2="363.6" y2="683.9" stroke="#777" stroke-width="0.9"/>
<line x1="360.6" y1="677.8" x2="366.6" y2="677.8" stroke="#777" stroke-width="0.9"/>
<line x1="360.6" y1="683.9" x2="366.6" y2="683.9" stroke="#777" stroke-width="0.9"/>
<line x1="378.0" y1="666.7" x2="378.0" y2="674.0" stroke="#777" stroke-width="0.9"/>
<line x1="375.0" y1="666.7" x2="381.0" y2="666.7" stroke="#777" stroke-width="0.9"/>
<line x1="375.0" y1="674.0" x2="381.0" y2="674.0" stroke="#777" stroke-width="0.9"/>
<line x1="392.6" y1="660.7" x2="392.6" y2="668.8" stroke="#777" stroke-width="0.9"/>
<line x1="389.6" y1="660.7" x2="395.6" y2="660.7" stroke="#777" stroke-width="0.9"/>
<line x1="389.6" y1="668.8" x2="395.6" y2="668.8" stroke="#777" stroke-width="0.9"/>
<line x1="407.4" y1="653.6" x2="407.4" y2="661.7" stroke="#777" stroke-width="0.9"/>
<line x1="404.4" y1="653.6" x2="410.4" y2="653.6" stroke="#777" stroke-width="0.9"/>
<line x1="404.4" y1="661.7" x2="410.4" y2="661.7" stroke="#777" stroke-width="0.9"/>
<line x1="422.0" y1="639.5" x2="422.0" y2="649.6" stroke="#777" stroke-width="0.9"/>
<line x1="419.0" y1="639.5" x2="425.0" y2="639.5" stroke="#777" stroke-width="0.9"/>
<line x1="419.0" y1="649.6" x2="425.0" y2="649.6" stroke="#777" stroke-width="0.9"/>
<line x1="436.5" y1="617.4" x2="436.5" y2="631.5" stroke="#777" stroke-width="0.9"/>
<line x1="433.5" y1="617.4" x2="439.5" y2="617.4" stroke="#777" stroke-width="0.9"/>
<line x1="433.5" y1="631.5" x2="439.5" y2="631.5" stroke="#777" stroke-width="0.9"/>
<line x1="451.0" y1="605.3" x2="451.0" y2="621.4" stroke="#777" stroke-width="0.9"/>
<line x1="448.0" y1="605.3" x2="454.0" y2="605.3" stroke="#777" stroke-width="0.9"/>
<line x1="448.0" y1="621.4" x2="454.0" y2="621.4" stroke="#777" stroke-width="0.9"/>
<path d="M320.0 715.1L334.6 692.9L349.2 685.9L363.6 680.8L378.0 670.4L392.6 664.7L407.4 657.7L422.0 644.6L436.5 624.4L451.0 613.3" fill="none" stroke="#4472c4" stroke-width="1.8"/>
<circle cx="320.0" cy="715.1" r="2.60" fill="#4472c4"/>
<circle cx="334.6" cy="692.9" r="2.60" fill="#4472c4"/>
<circle cx="349.2" cy="685.9" r="2.60" fill="#4472c4"/>
<circle cx="363.6" cy="680.8" r="2.60" fill="#4472c4"/>
<circle cx="378.0" cy="670.4" r="2.60" fill="#4472c4"/>
<circle cx="392.6" cy="664.7" r="2.60" fill="#4472c4"/>
<circle cx="407.4" cy="657.7" r="2.60" fill="#4472c4"/>
<circle cx="422.0" cy="644.6" r="2.60" fill="#4472c4"/>
<circle cx="436.5" cy="624.4" r="2.60" fill="#4472c4"/>
<circle cx="451.0" cy="613.3" r="2.60" fill="#4472c4"/>
<line x1="334.6" y1="705.0" x2="334.6" y2="709.9" stroke="#777" stroke-width="0.9"/>
<line x1="331.6" y1="705.0" x2="337.6" y2="705.0" stroke="#777" stroke-width="0.9"/>
<line x1="331.6" y1="709.9" x2="337.6" y2="709.9" stroke="#777" stroke-width="0.9"/>
<line x1="349.2" y1="700.4" x2="349.2" y2="707.6" stroke="#777" stroke-width="0.9"/>
<line x1="346.2" y1="700.4" x2="352.2" y2="700.4" stroke="#777" stroke-width="0.9"/>
<line x1="346.2" y1="707.6" x2="352.2" y2="707.6" stroke="#777" stroke-width="0.9"/>
<line x1="363.6" y1="697.0" x2="363.6" y2="703.0" stroke="#777" stroke-width="0.9"/>
<line x1="360.6" y1="697.0" x2="366.6" y2="697.0" stroke="#777" stroke-width="0.9"/>
<line x1="360.6" y1="703.0" x2="366.6" y2="703.0" stroke="#777" stroke-width="0.9"/>
<line x1="378.0" y1="698.2" x2="378.0" y2="703.0" stroke="#777" stroke-width="0.9"/>
<line x1="375.0" y1="698.2" x2="381.0" y2="698.2" stroke="#777" stroke-width="0.9"/>
<line x1="375.0" y1="703.0" x2="381.0" y2="703.0" stroke="#777" stroke-width="0.9"/>
<line x1="392.6" y1="694.3" x2="392.6" y2="700.4" stroke="#777" stroke-width="0.9"/>
<line x1="389.6" y1="694.3" x2="395.6" y2="694.3" stroke="#777" stroke-width="0.9"/>
<line x1="389.6" y1="700.4" x2="395.6" y2="700.4" stroke="#777" stroke-width="0.9"/>
<line x1="407.4" y1="692.1" x2="407.4" y2="697.0" stroke="#777" stroke-width="0.9"/>
<line x1="404.4" y1="692.1" x2="410.4" y2="692.1" stroke="#777" stroke-width="0.9"/>
<line x1="404.4" y1="697.0" x2="410.4" y2="697.0" stroke="#777" stroke-width="0.9"/>
<line x1="422.0" y1="680.8" x2="422.0" y2="684.9" stroke="#777" stroke-width="0.9"/>
<line x1="419.0" y1="680.8" x2="425.0" y2="680.8" stroke="#777" stroke-width="0.9"/>
<line x1="419.0" y1="684.9" x2="425.0" y2="684.9" stroke="#777" stroke-width="0.9"/>
<line x1="436.5" y1="663.1" x2="436.5" y2="670.4" stroke="#777" stroke-width="0.9"/>
<line x1="433.5" y1="663.1" x2="439.5" y2="663.1" stroke="#777" stroke-width="0.9"/>
<line x1="433.5" y1="670.4" x2="439.5" y2="670.4" stroke="#777" stroke-width="0.9"/>
<line x1="451.0" y1="664.7" x2="451.0" y2="672.0" stroke="#777" stroke-width="0.9"/>
<line x1="448.0" y1="664.7" x2="454.0" y2="664.7" stroke="#777" stroke-width="0.9"/>
<line x1="448.0" y1="672.0" x2="454.0" y2="672.0" stroke="#777" stroke-width="0.9"/>
<path d="M320.0 715.1L334.6 707.4L349.2 704.0L363.6 700.0L378.0 700.6L392.6 697.4L407.4 694.5L422.0 682.9L436.5 666.7L451.0 668.4" fill="none" stroke="#c00000" stroke-width="1.8"/>
<path d="M320.0 712.3L322.8 717.2L317.2 717.2Z" fill="#c00000"/>
<path d="M334.6 704.6L337.4 709.5L331.8 709.5Z" fill="#c00000"/>
<path d="M349.2 701.2L352.0 706.1L346.4 706.1Z" fill="#c00000"/>
<path d="M363.6 697.2L366.4 702.1L360.8 702.1Z" fill="#c00000"/>
<path d="M378.0 697.8L380.8 702.7L375.2 702.7Z" fill="#c00000"/>
<path d="M392.6 694.6L395.4 699.5L389.8 699.5Z" fill="#c00000"/>
<path d="M407.4 691.7L410.2 696.6L404.6 696.6Z" fill="#c00000"/>
<path d="M422.0 680.1L424.8 685.0L419.2 685.0Z" fill="#c00000"/>
<path d="M436.5 663.9L439.3 668.8L433.7 668.8Z" fill="#c00000"/>
<path d="M451.0 665.6L453.8 670.5L448.2 670.5Z" fill="#c00000"/>
<line x1="317.3" y1="609.7" x2="340.3" y2="609.7" stroke="#4472c4" stroke-width="1.8"/>
<circle cx="328.8" cy="609.7" r="2.60" fill="#4472c4"/>
<text x="343.8" y="614.1" font-size="12.6" stroke="#000" stroke-width="0.25">shCon</text>
<line x1="317.3" y1="628.6" x2="340.3" y2="628.6" stroke="#c00000" stroke-width="1.8"/>
<path d="M328.8 625.8L331.6 630.7L326.0 630.7Z" fill="#c00000"/>
<text x="343.8" y="633.0" font-size="12.6" stroke="#000" stroke-width="0.25">shFOXA2_20</text>
<text x="447.7" y="650.0" font-size="12.5" text-anchor="middle" fill="#222" stroke="#222" stroke-width="0.25">****</text>
<text x="291.0" y="729.0" font-size="12.6" text-anchor="middle" stroke="#000" stroke-width="0.25">Day</text>
<text x="479.4" y="579.0" font-size="17" stroke="#000" stroke-width="0.25" font-weight="bold">n</text>
<text x="604.5" y="593.8" font-size="12.6" text-anchor="middle" stroke="#000" stroke-width="0.25">PC-3 Xenograft</text>
<line x1="560.5" y1="595.6" x2="648.5" y2="595.6" stroke="#000" stroke-width="0.9"/>
<line x1="543.8" y1="593.0" x2="543.8" y2="717.2" stroke="#222" stroke-width="1.0"/>
<line x1="543.8" y1="716.7" x2="678.5" y2="716.7" stroke="#222" stroke-width="1.0"/>
<line x1="540.8" y1="593.4" x2="543.8" y2="593.4" stroke="#222" stroke-width="1"/>
<text x="539.8" y="597.8" font-size="12.6" text-anchor="end" stroke="#000" stroke-width="0.25">600</text>
<line x1="540.8" y1="634.5" x2="543.8" y2="634.5" stroke="#222" stroke-width="1"/>
<text x="539.8" y="638.9" font-size="12.6" text-anchor="end" stroke="#000" stroke-width="0.25">400</text>
<line x1="540.8" y1="675.6" x2="543.8" y2="675.6" stroke="#222" stroke-width="1"/>
<text x="539.8" y="680.0" font-size="12.6" text-anchor="end" stroke="#000" stroke-width="0.25">200</text>
<line x1="540.8" y1="716.7" x2="543.8" y2="716.7" stroke="#222" stroke-width="1"/>
<text x="539.8" y="721.1" font-size="12.6" text-anchor="end" stroke="#000" stroke-width="0.25">0</text>
<text x="507.0" y="655.3" font-size="12.6" text-anchor="middle" stroke="#000" stroke-width="0.25" transform="rotate(-90 507.0 655.3)">Tumor Volume (mm<tspan font-size="8" dy="-4">3</tspan><tspan dy="4">)</tspan></text>
<line x1="557.0" y1="716.7" x2="557.0" y2="719.7" stroke="#222" stroke-width="1"/>
<text x="550.3" y="732.2" font-size="11.8" text-anchor="middle" stroke="#000" stroke-width="0.25">0</text>
<line x1="570.4" y1="716.7" x2="570.4" y2="719.7" stroke="#222" stroke-width="1"/>
<line x1="583.8" y1="716.7" x2="583.8" y2="719.7" stroke="#222" stroke-width="1"/>
<text x="577.1" y="732.2" font-size="11.8" text-anchor="middle" stroke="#000" stroke-width="0.25">4</text>
<line x1="597.2" y1="716.7" x2="597.2" y2="719.7" stroke="#222" stroke-width="1"/>
<line x1="610.6" y1="716.7" x2="610.6" y2="719.7" stroke="#222" stroke-width="1"/>
<text x="603.9" y="732.2" font-size="11.8" text-anchor="middle" stroke="#000" stroke-width="0.25">8</text>
<line x1="624.0" y1="716.7" x2="624.0" y2="719.7" stroke="#222" stroke-width="1"/>
<line x1="637.4" y1="716.7" x2="637.4" y2="719.7" stroke="#222" stroke-width="1"/>
<text x="630.7" y="732.2" font-size="11.8" text-anchor="middle" stroke="#000" stroke-width="0.25">12</text>
<line x1="650.8" y1="716.7" x2="650.8" y2="719.7" stroke="#222" stroke-width="1"/>
<line x1="664.2" y1="716.7" x2="664.2" y2="719.7" stroke="#222" stroke-width="1"/>
<text x="657.5" y="732.2" font-size="11.8" text-anchor="middle" stroke="#000" stroke-width="0.25">16</text>
<line x1="677.6" y1="716.7" x2="677.6" y2="719.7" stroke="#222" stroke-width="1"/>
<line x1="550.3" y1="693.5" x2="550.3" y2="703.8" stroke="#777" stroke-width="0.9"/>
<line x1="547.3" y1="693.5" x2="553.3" y2="693.5" stroke="#777" stroke-width="0.9"/>
<line x1="547.3" y1="703.8" x2="553.3" y2="703.8" stroke="#777" stroke-width="0.9"/>
<line x1="563.7" y1="689.0" x2="563.7" y2="701.3" stroke="#777" stroke-width="0.9"/>
<line x1="560.7" y1="689.0" x2="566.7" y2="689.0" stroke="#777" stroke-width="0.9"/>
<line x1="560.7" y1="701.3" x2="566.7" y2="701.3" stroke="#777" stroke-width="0.9"/>
<line x1="577.1" y1="686.1" x2="577.1" y2="695.1" stroke="#777" stroke-width="0.9"/>
<line x1="574.1" y1="686.1" x2="580.1" y2="686.1" stroke="#777" stroke-width="0.9"/>
<line x1="574.1" y1="695.1" x2="580.1" y2="695.1" stroke="#777" stroke-width="0.9"/>
<line x1="590.5" y1="677.7" x2="590.5" y2="687.9" stroke="#777" stroke-width="0.9"/>
<line x1="587.5" y1="677.7" x2="593.5" y2="677.7" stroke="#777" stroke-width="0.9"/>
<line x1="587.5" y1="687.9" x2="593.5" y2="687.9" stroke="#777" stroke-width="0.9"/>
<line x1="603.9" y1="664.3" x2="603.9" y2="686.9" stroke="#777" stroke-width="0.9"/>
<line x1="600.9" y1="664.3" x2="606.9" y2="664.3" stroke="#777" stroke-width="0.9"/>
<line x1="600.9" y1="686.9" x2="606.9" y2="686.9" stroke="#777" stroke-width="0.9"/>
<line x1="617.3" y1="650.9" x2="617.3" y2="681.8" stroke="#777" stroke-width="0.9"/>
<line x1="614.3" y1="650.9" x2="620.3" y2="650.9" stroke="#777" stroke-width="0.9"/>
<line x1="614.3" y1="681.8" x2="620.3" y2="681.8" stroke="#777" stroke-width="0.9"/>
<line x1="630.7" y1="636.6" x2="630.7" y2="671.5" stroke="#777" stroke-width="0.9"/>
<line x1="627.7" y1="636.6" x2="633.7" y2="636.6" stroke="#777" stroke-width="0.9"/>
<line x1="627.7" y1="671.5" x2="633.7" y2="671.5" stroke="#777" stroke-width="0.9"/>
<line x1="644.1" y1="619.1" x2="644.1" y2="660.2" stroke="#777" stroke-width="0.9"/>
<line x1="641.1" y1="619.1" x2="647.1" y2="619.1" stroke="#777" stroke-width="0.9"/>
<line x1="641.1" y1="660.2" x2="647.1" y2="660.2" stroke="#777" stroke-width="0.9"/>
<line x1="657.5" y1="615.6" x2="657.5" y2="644.4" stroke="#777" stroke-width="0.9"/>
<line x1="654.5" y1="615.6" x2="660.5" y2="615.6" stroke="#777" stroke-width="0.9"/>
<line x1="654.5" y1="644.4" x2="660.5" y2="644.4" stroke="#777" stroke-width="0.9"/>
<line x1="670.9" y1="605.3" x2="670.9" y2="634.1" stroke="#777" stroke-width="0.9"/>
<line x1="667.9" y1="605.3" x2="673.9" y2="605.3" stroke="#777" stroke-width="0.9"/>
<line x1="667.9" y1="634.1" x2="673.9" y2="634.1" stroke="#777" stroke-width="0.9"/>
<path d="M550.3 698.6L563.7 695.1L577.1 690.6L590.5 682.8L603.9 675.6L617.3 666.4L630.7 654.0L644.1 639.6L657.5 630.0L670.9 619.7" fill="none" stroke="#5b8fd4" stroke-width="1.8"/>
<circle cx="550.3" cy="698.6" r="2.60" fill="#5b8fd4"/>
<circle cx="563.7" cy="695.1" r="2.60" fill="#5b8fd4"/>
<circle cx="577.1" cy="690.6" r="2.60" fill="#5b8fd4"/>
<circle cx="590.5" cy="682.8" r="2.60" fill="#5b8fd4"/>
<circle cx="603.9" cy="675.6" r="2.60" fill="#5b8fd4"/>
<circle cx="617.3" cy="666.4" r="2.60" fill="#5b8fd4"/>
<circle cx="630.7" cy="654.0" r="2.60" fill="#5b8fd4"/>
<circle cx="644.1" cy="639.6" r="2.60" fill="#5b8fd4"/>
<circle cx="657.5" cy="630.0" r="2.60" fill="#5b8fd4"/>
<circle cx="670.9" cy="619.7" r="2.60" fill="#5b8fd4"/>
<line x1="550.3" y1="695.5" x2="550.3" y2="701.7" stroke="#777" stroke-width="0.9"/>
<line x1="547.3" y1="695.5" x2="553.3" y2="695.5" stroke="#777" stroke-width="0.9"/>
<line x1="547.3" y1="701.7" x2="553.3" y2="701.7" stroke="#777" stroke-width="0.9"/>
<line x1="563.7" y1="703.3" x2="563.7" y2="709.5" stroke="#777" stroke-width="0.9"/>
<line x1="560.7" y1="703.3" x2="566.7" y2="703.3" stroke="#777" stroke-width="0.9"/>
<line x1="560.7" y1="709.5" x2="566.7" y2="709.5" stroke="#777" stroke-width="0.9"/>
<line x1="577.1" y1="701.3" x2="577.1" y2="709.5" stroke="#777" stroke-width="0.9"/>
<line x1="574.1" y1="701.3" x2="580.1" y2="701.3" stroke="#777" stroke-width="0.9"/>
<line x1="574.1" y1="709.5" x2="580.1" y2="709.5" stroke="#777" stroke-width="0.9"/>
<line x1="590.5" y1="696.1" x2="590.5" y2="706.4" stroke="#777" stroke-width="0.9"/>
<line x1="587.5" y1="696.1" x2="593.5" y2="696.1" stroke="#777" stroke-width="0.9"/>
<line x1="587.5" y1="706.4" x2="593.5" y2="706.4" stroke="#777" stroke-width="0.9"/>
<line x1="603.9" y1="696.8" x2="603.9" y2="707.0" stroke="#777" stroke-width="0.9"/>
<line x1="600.9" y1="696.8" x2="606.9" y2="696.8" stroke="#777" stroke-width="0.9"/>
<line x1="600.9" y1="707.0" x2="606.9" y2="707.0" stroke="#777" stroke-width="0.9"/>
<line x1="617.3" y1="690.6" x2="617.3" y2="702.9" stroke="#777" stroke-width="0.9"/>
<line x1="614.3" y1="690.6" x2="620.3" y2="690.6" stroke="#777" stroke-width="0.9"/>
<line x1="614.3" y1="702.9" x2="620.3" y2="702.9" stroke="#777" stroke-width="0.9"/>
<line x1="630.7" y1="686.3" x2="630.7" y2="700.7" stroke="#777" stroke-width="0.9"/>
<line x1="627.7" y1="686.3" x2="633.7" y2="686.3" stroke="#777" stroke-width="0.9"/>
<line x1="627.7" y1="700.7" x2="633.7" y2="700.7" stroke="#777" stroke-width="0.9"/>
<line x1="644.1" y1="679.1" x2="644.1" y2="693.5" stroke="#777" stroke-width="0.9"/>
<line x1="641.1" y1="679.1" x2="647.1" y2="679.1" stroke="#777" stroke-width="0.9"/>
<line x1="641.1" y1="693.5" x2="647.1" y2="693.5" stroke="#777" stroke-width="0.9"/>
<line x1="657.5" y1="668.4" x2="657.5" y2="682.8" stroke="#777" stroke-width="0.9"/>
<line x1="654.5" y1="668.4" x2="660.5" y2="668.4" stroke="#777" stroke-width="0.9"/>
<line x1="654.5" y1="682.8" x2="660.5" y2="682.8" stroke="#777" stroke-width="0.9"/>
<line x1="670.9" y1="658.7" x2="670.9" y2="683.4" stroke="#777" stroke-width="0.9"/>
<line x1="667.9" y1="658.7" x2="673.9" y2="658.7" stroke="#777" stroke-width="0.9"/>
<line x1="667.9" y1="683.4" x2="673.9" y2="683.4" stroke="#777" stroke-width="0.9"/>
<path d="M550.3 698.6L563.7 706.4L577.1 705.4L590.5 701.3L603.9 701.9L617.3 696.8L630.7 693.5L644.1 686.3L657.5 675.6L670.9 671.1" fill="none" stroke="#c0100c" stroke-width="1.8"/>
<path d="M550.3 695.8L553.1 700.7L547.5 700.7Z" fill="#c0100c"/>
<path d="M563.7 703.6L566.5 708.5L560.9 708.5Z" fill="#c0100c"/>
<path d="M577.1 702.6L579.9 707.5L574.3 707.5Z" fill="#c0100c"/>
<path d="M590.5 698.5L593.3 703.4L587.7 703.4Z" fill="#c0100c"/>
<path d="M603.9 699.1L606.7 704.0L601.1 704.0Z" fill="#c0100c"/>
<path d="M617.3 694.0L620.1 698.9L614.5 698.9Z" fill="#c0100c"/>
<path d="M630.7 690.7L633.5 695.6L627.9 695.6Z" fill="#c0100c"/>
<path d="M644.1 683.5L646.9 688.4L641.3 688.4Z" fill="#c0100c"/>
<path d="M657.5 672.8L660.3 677.7L654.7 677.7Z" fill="#c0100c"/>
<path d="M670.9 668.3L673.7 673.2L668.1 673.2Z" fill="#c0100c"/>
<line x1="560.2" y1="623.4" x2="583.2" y2="623.4" stroke="#5b8fd4" stroke-width="1.8"/>
<circle cx="571.7" cy="623.4" r="2.60" fill="#5b8fd4"/>
<text x="584.2" y="627.0" font-size="10.2" stroke="#000" stroke-width="0.15">DMSO</text>
<line x1="560.2" y1="639.5" x2="583.2" y2="639.5" stroke="#c0100c" stroke-width="1.8"/>
<path d="M571.7 636.7L574.5 641.6L568.9 641.6Z" fill="#c0100c"/>
<text x="584.2" y="643.1" font-size="10.2" stroke="#000" stroke-width="0.15">ORY1001</text>
<text x="669.6" y="655.0" font-size="12.5" text-anchor="middle" fill="#222" stroke="#222" stroke-width="0.25">***</text>
<text x="527.3" y="731.2" font-size="12.6" text-anchor="middle" stroke="#000" stroke-width="0.25">Day</text>
<defs><filter id="fb" x="-30%" y="-30%" width="160%" height="160%"><feGaussianBlur stdDeviation="1.0"/></filter><filter id="fb2" x="-30%" y="-30%" width="160%" height="160%"><feGaussianBlur stdDeviation="1.8"/></filter><filter id="fb0" x="-30%" y="-30%" width="160%" height="160%"><feGaussianBlur stdDeviation="0.5"/></filter><radialGradient id="yolk" cx="0.55" cy="0.45" r="0.55"><stop offset="0" stop-color="#b8b058"/><stop offset="0.75" stop-color="#a89f4a"/><stop offset="1" stop-color="#8e863a"/></radialGradient><radialGradient id="grn" cx="0.5" cy="0.55" r="0.5"><stop offset="0" stop-color="#48f050"/><stop offset="0.6" stop-color="#38d83c" stop-opacity="0.9"/><stop offset="1" stop-color="#30c030" stop-opacity="0"/></radialGradient><radialGradient id="grnc" cx="0.5" cy="0.5" r="0.5"><stop offset="0" stop-color="#40f8b0"/><stop offset="0.6" stop-color="#38e070" stop-opacity="0.9"/><stop offset="1" stop-color="#30c040" stop-opacity="0"/></radialGradient></defs>
<text x="238.5" y="755.6" font-size="17" stroke="#000" stroke-width="0.25" font-weight="bold">o</text>
<text x="372.5" y="757.2" font-size="12.6" text-anchor="middle" stroke="#000" stroke-width="0.25">PC-3</text>
<text x="274.7" y="788.3" font-size="12.6" text-anchor="middle" stroke="#000" stroke-width="0.25">shNTC</text>
<text x="274.7" y="801.8" font-size="10.2" text-anchor="middle" stroke="#000" stroke-width="0.15">(9/10 invaded)</text>
<text x="274.7" y="842.3" font-size="12.6" text-anchor="middle" stroke="#000" stroke-width="0.25">shFOXA2</text>
<text x="274.7" y="856.0" font-size="10.2" text-anchor="middle" stroke="#000" stroke-width="0.15">(2/10 invaded)</text>
<rect x="309.2" y="762.2" width="136.6" height="54.0" fill="#5c5520"/>
<svg x="309.2" y="762.2" width="136.6" height="54.0" viewBox="309.2 762.2 136.6 54.0" overflow="hidden">
<g filter="url(#fb)"><path d="M333.0 779.0 Q385.0 777.5 437.0 777.3 L437.0 779.7 Q385.0 787.0 333.0 786.0 Z" fill="#67612c"/><path d="M333.0 779.0 Q385.0 777.5 437.0 777.3" fill="none" stroke="#3c3818" stroke-width="0.8"/><path d="M341.0 782.5 Q385.0 782.0 433.0 778.5" fill="none" stroke="#4a4420" stroke-width="0.6" stroke-dasharray="3 2"/><ellipse cx="328.5" cy="793.5" rx="9.0" ry="10.0" fill="#57521f"/></g>
<path d="M362.0 784.7 L392.0 783.7 Q393.3 785.0 392.0 786.3 L362.0 787.3 Z" fill="#a89e4c" filter="url(#fb)"/>
<ellipse cx="351.0" cy="793.0" rx="14.5" ry="12.2" fill="url(#yolk)" filter="url(#fb)"/>
<circle cx="328.3" cy="794.0" r="5.0" fill="#352f14" filter="url(#fb)"/>
<ellipse cx="347.0" cy="793.5" rx="12.5" ry="12.5" fill="url(#grn)"/>
<g fill="#5af85a" fill-opacity="0.8"><circle cx="343.5" cy="796.8" r="0.48"/><circle cx="353.5" cy="789.6" r="0.75"/><circle cx="341.1" cy="791.5" r="0.77"/><circle cx="339.2" cy="789.4" r="0.73"/><circle cx="350.5" cy="787.9" r="0.48"/><circle cx="352.0" cy="800.4" r="0.48"/><circle cx="342.6" cy="787.0" r="0.43"/><circle cx="347.4" cy="791.7" r="0.83"/><circle cx="349.5" cy="789.6" r="0.76"/><circle cx="346.6" cy="790.0" r="0.73"/><circle cx="353.8" cy="800.2" r="0.74"/><circle cx="349.3" cy="793.2" r="0.56"/><circle cx="341.3" cy="788.2" r="0.49"/><circle cx="354.0" cy="787.5" r="0.55"/><circle cx="352.0" cy="800.0" r="0.60"/><circle cx="343.4" cy="787.5" r="0.60"/><circle cx="350.6" cy="794.0" r="0.63"/><circle cx="346.1" cy="787.0" r="0.77"/><circle cx="337.9" cy="791.2" r="0.73"/><circle cx="345.4" cy="796.9" r="0.43"/><circle cx="356.0" cy="795.8" r="0.84"/><circle cx="347.0" cy="790.2" r="0.73"/><circle cx="353.6" cy="800.3" r="0.73"/><circle cx="347.0" cy="785.7" r="0.61"/><circle cx="352.7" cy="785.5" r="0.52"/><circle cx="339.1" cy="796.8" r="0.74"/><circle cx="341.3" cy="797.1" r="0.88"/><circle cx="346.3" cy="798.0" r="0.74"/><circle cx="345.4" cy="802.8" r="0.56"/><circle cx="352.5" cy="790.7" r="0.84"/><circle cx="347.1" cy="784.9" r="0.51"/><circle cx="347.9" cy="795.0" r="0.49"/><circle cx="345.7" cy="791.3" r="0.52"/><circle cx="343.4" cy="791.9" r="0.56"/><circle cx="348.1" cy="801.6" r="0.46"/><circle cx="354.7" cy="793.4" r="0.76"/><circle cx="340.3" cy="791.2" r="0.89"/><circle cx="354.1" cy="787.9" r="0.41"/><circle cx="338.8" cy="788.3" r="0.72"/><circle cx="339.0" cy="792.8" r="0.49"/></g>
<g fill="#34e83c"><circle cx="429.2" cy="781.8" r="0.53"/><circle cx="423.7" cy="780.8" r="0.62"/><circle cx="428.0" cy="782.6" r="0.82"/><circle cx="418.7" cy="778.3" r="0.80"/><circle cx="426.3" cy="782.1" r="0.80"/><circle cx="418.0" cy="780.7" r="0.61"/><circle cx="430.9" cy="781.3" r="0.58"/><circle cx="423.5" cy="780.8" r="0.58"/><circle cx="415.6" cy="780.1" r="0.53"/><circle cx="423.4" cy="782.7" r="0.79"/><circle cx="412.4" cy="782.0" r="0.75"/><circle cx="428.7" cy="777.6" r="0.77"/><circle cx="415.9" cy="781.9" r="0.61"/><circle cx="420.2" cy="778.4" r="0.80"/><circle cx="416.5" cy="782.3" r="0.68"/><circle cx="414.7" cy="781.1" r="0.69"/><circle cx="411.7" cy="782.0" r="0.59"/><circle cx="411.6" cy="781.7" r="0.75"/><circle cx="420.6" cy="778.5" r="0.68"/><circle cx="425.7" cy="781.3" r="0.67"/><circle cx="425.2" cy="781.5" r="0.57"/><circle cx="415.5" cy="780.2" r="0.76"/><circle cx="431.1" cy="782.2" r="0.65"/><circle cx="428.8" cy="778.1" r="0.64"/><circle cx="412.7" cy="782.1" r="0.85"/><circle cx="427.7" cy="781.6" r="0.63"/><circle cx="430.9" cy="778.0" r="0.63"/><circle cx="419.8" cy="782.3" r="0.56"/><circle cx="415.0" cy="778.0" r="0.80"/><circle cx="418.9" cy="782.5" r="0.61"/><circle cx="398.1" cy="783.6" r="0.82"/><circle cx="401.4" cy="785.6" r="0.74"/><circle cx="399.5" cy="785.7" r="0.84"/><circle cx="384.6" cy="785.5" r="0.77"/><circle cx="386.3" cy="783.5" r="0.81"/></g>
</svg>
<rect x="309.2" y="819.4" width="136.6" height="50.8" fill="#5c5520"/>
<svg x="309.2" y="819.4" width="136.6" height="50.8" viewBox="309.2 819.4 136.6 50.8" overflow="hidden">
<g filter="url(#fb)"><path d="M330.0 830.0 Q386.5 828.5 443.0 849.8 L443.0 852.2 Q386.5 837.0 330.0 836.0 Z" fill="#67612c"/><path d="M330.0 830.0 Q386.5 828.5 443.0 849.8" fill="none" stroke="#3c3818" stroke-width="0.8"/><path d="M338.0 833.0 Q386.5 832.5 439.0 851.0" fill="none" stroke="#4a4420" stroke-width="0.6" stroke-dasharray="3 2"/><ellipse cx="322.5" cy="838.0" rx="9.0" ry="10.5" fill="#57521f"/></g>
<path d="M362.0 842.6 L391.0 844.6 Q392.9 846.5 391.0 848.4 L362.0 846.4 Z" fill="#a89c48" filter="url(#fb)"/>
<ellipse cx="345.0" cy="842.5" rx="17.0" ry="15.0" fill="url(#yolk)" filter="url(#fb)"/>
<circle cx="322.0" cy="837.4" r="5.0" fill="#352f14" filter="url(#fb)"/>
<ellipse cx="343.5" cy="839.5" rx="14.5" ry="11.5" fill="url(#grn)"/>
<g fill="#5af85a" fill-opacity="0.8"><circle cx="342.3" cy="838.4" r="0.54"/><circle cx="345.2" cy="847.3" r="0.74"/><circle cx="346.2" cy="837.8" r="0.61"/><circle cx="348.8" cy="840.3" r="0.65"/><circle cx="348.6" cy="840.2" r="0.72"/><circle cx="338.3" cy="838.3" r="0.69"/><circle cx="343.8" cy="838.8" r="0.80"/><circle cx="341.3" cy="834.4" r="0.48"/><circle cx="350.0" cy="838.1" r="0.45"/><circle cx="352.3" cy="844.3" r="0.70"/><circle cx="347.0" cy="832.1" r="0.67"/><circle cx="350.5" cy="838.5" r="0.68"/><circle cx="347.9" cy="833.1" r="0.83"/><circle cx="334.9" cy="835.9" r="0.42"/><circle cx="344.4" cy="844.4" r="0.44"/><circle cx="343.9" cy="842.4" r="0.54"/><circle cx="338.9" cy="835.3" r="0.59"/><circle cx="345.0" cy="844.1" r="0.87"/><circle cx="338.1" cy="833.7" r="0.49"/><circle cx="342.9" cy="835.8" r="0.59"/><circle cx="352.8" cy="839.0" r="0.68"/><circle cx="339.2" cy="831.8" r="0.79"/><circle cx="343.8" cy="841.1" r="0.56"/><circle cx="342.9" cy="843.7" r="0.87"/><circle cx="348.1" cy="835.9" r="0.73"/><circle cx="334.7" cy="844.9" r="0.63"/><circle cx="343.0" cy="844.0" r="0.68"/><circle cx="342.8" cy="846.5" r="0.85"/><circle cx="339.1" cy="842.0" r="0.90"/><circle cx="340.0" cy="839.3" r="0.42"/><circle cx="350.6" cy="844.1" r="0.80"/><circle cx="340.9" cy="840.6" r="0.59"/><circle cx="351.9" cy="839.3" r="0.89"/><circle cx="344.3" cy="838.7" r="0.76"/><circle cx="340.0" cy="833.4" r="0.53"/><circle cx="341.0" cy="837.1" r="0.62"/><circle cx="332.6" cy="842.1" r="0.84"/><circle cx="342.8" cy="846.0" r="0.49"/><circle cx="352.7" cy="835.0" r="0.55"/><circle cx="337.7" cy="834.0" r="0.48"/></g>
</svg>
<text x="310.8" y="772.0" font-size="10.2" fill="#fff" stroke="#fff" stroke-width="0.15">Injected</text>
<text x="310.8" y="828.6" font-size="10.2" fill="#fff" stroke="#fff" stroke-width="0.15">Injected</text>
<path d="M376.6 771.7L441.1 771.7L441.1 794.0L376.6 794.0Z" fill="none" stroke="#f4f4f4" stroke-width="0.9" stroke-dasharray="2.2 1.4"/>
<text x="410.2" y="805.4" font-size="10.2" text-anchor="middle" fill="#fff" stroke="#fff" stroke-width="0.15">Invaded cells</text>
<path d="M379.4 831.0L444.6 841.3L442.8 861.2L377.0 851.6Z" fill="none" stroke="#f4f4f4" stroke-width="0.9" stroke-dasharray="2.2 1.4"/>
<text x="374.2" y="882.3" font-size="10.2" text-anchor="middle" stroke="#000" stroke-width="0.15">(P&lt;0.0055)</text>
<text x="478.2" y="758.0" font-size="17" stroke="#000" stroke-width="0.25" font-weight="bold">p</text>
<text x="609.5" y="759.5" font-size="12.6" text-anchor="middle" stroke="#000" stroke-width="0.25">PC-3</text>
<text x="499.3" y="788.0" font-size="12.6" text-anchor="middle" stroke="#000" stroke-width="0.25">Veh</text>
<text x="499.3" y="800.4" font-size="10.2" text-anchor="middle" stroke="#000" stroke-width="0.15">(12/15 invaded)</text>
<text x="500.4" y="844.3" font-size="12.6" text-anchor="middle" stroke="#000" stroke-width="0.25">ORY</text>
<text x="500.4" y="856.9" font-size="10.2" text-anchor="middle" stroke="#000" stroke-width="0.15">(2/24 invaded)</text>
<rect x="535.6" y="762.3" width="141.0" height="51.5" fill="#5a5620"/>
<svg x="535.6" y="762.3" width="141.0" height="51.5" viewBox="535.6 762.3 141.0 51.5" overflow="hidden">
<g filter="url(#fb)"><path d="M563.0 773.0 Q610.5 771.5 658.0 777.2 L658.0 779.6 Q610.5 782.0 563.0 781.0 Z" fill="#67612c"/><path d="M563.0 773.0 Q610.5 771.5 658.0 777.2" fill="none" stroke="#3c3818" stroke-width="0.8"/><path d="M571.0 777.0 Q610.5 776.5 654.0 778.4" fill="none" stroke="#4a4420" stroke-width="0.6" stroke-dasharray="3 2"/><ellipse cx="557.0" cy="790.0" rx="8.0" ry="10.0" fill="#57521f"/></g>
<path d="M592.0 778.8 L621.0 778.8 Q622.8 780.5 621.0 782.2 L592.0 782.2 Z" fill="#a89e4c" filter="url(#fb)"/>
<ellipse cx="577.5" cy="788.0" rx="13.0" ry="12.5" fill="url(#yolk)" filter="url(#fb)"/>
<circle cx="558.8" cy="790.2" r="4.7" fill="#352f14" filter="url(#fb)"/>
<ellipse cx="575.0" cy="789.0" rx="13.5" ry="13.0" fill="url(#grn)"/>
<g fill="#5af85a" fill-opacity="0.8"><circle cx="575.3" cy="796.4" r="0.48"/><circle cx="577.2" cy="784.5" r="0.68"/><circle cx="581.1" cy="786.1" r="0.88"/><circle cx="574.1" cy="781.4" r="0.71"/><circle cx="569.4" cy="785.8" r="0.90"/><circle cx="566.2" cy="794.9" r="0.83"/><circle cx="580.4" cy="789.9" r="0.64"/><circle cx="576.8" cy="785.0" r="0.71"/><circle cx="568.6" cy="795.8" r="0.86"/><circle cx="575.4" cy="784.4" r="0.78"/><circle cx="565.9" cy="792.6" r="0.64"/><circle cx="583.9" cy="783.3" r="0.81"/><circle cx="579.5" cy="780.6" r="0.70"/><circle cx="579.9" cy="798.2" r="0.63"/><circle cx="582.1" cy="789.7" r="0.61"/><circle cx="578.2" cy="798.7" r="0.46"/><circle cx="581.6" cy="784.6" r="0.49"/><circle cx="570.4" cy="794.4" r="0.46"/><circle cx="575.7" cy="780.6" r="0.89"/><circle cx="579.6" cy="780.9" r="0.90"/><circle cx="582.9" cy="785.5" r="0.67"/><circle cx="565.4" cy="787.6" r="0.86"/><circle cx="579.8" cy="780.7" r="0.41"/><circle cx="572.2" cy="790.5" r="0.69"/><circle cx="567.9" cy="785.2" r="0.83"/><circle cx="576.4" cy="797.8" r="0.69"/><circle cx="577.5" cy="799.0" r="0.43"/><circle cx="567.3" cy="790.7" r="0.70"/><circle cx="583.0" cy="788.1" r="0.84"/><circle cx="572.9" cy="795.9" r="0.47"/><circle cx="570.5" cy="783.8" r="0.79"/><circle cx="580.6" cy="793.6" r="0.88"/><circle cx="583.8" cy="789.6" r="0.74"/><circle cx="573.8" cy="781.3" r="0.65"/><circle cx="580.6" cy="787.6" r="0.75"/><circle cx="570.5" cy="781.3" r="0.64"/><circle cx="584.5" cy="790.0" r="0.54"/><circle cx="577.2" cy="778.9" r="0.79"/><circle cx="566.8" cy="794.5" r="0.59"/><circle cx="571.5" cy="796.1" r="0.73"/></g>
<g fill="#34e83c"><circle cx="637.3" cy="777.9" r="0.64"/><circle cx="640.1" cy="777.1" r="0.71"/><circle cx="603.3" cy="776.5" r="0.80"/><circle cx="613.8" cy="777.4" r="0.52"/><circle cx="641.3" cy="777.1" r="0.52"/><circle cx="616.7" cy="779.3" r="0.76"/><circle cx="603.2" cy="779.3" r="0.53"/><circle cx="627.2" cy="777.9" r="0.77"/><circle cx="610.1" cy="778.9" r="0.60"/><circle cx="639.9" cy="779.2" r="0.71"/><circle cx="603.1" cy="778.3" r="0.65"/><circle cx="639.5" cy="778.7" r="0.54"/><circle cx="631.4" cy="778.3" r="0.82"/><circle cx="633.7" cy="778.2" r="0.77"/><circle cx="611.0" cy="779.0" r="0.70"/><circle cx="634.8" cy="776.5" r="0.68"/><circle cx="623.5" cy="776.7" r="0.83"/><circle cx="645.3" cy="777.6" r="0.53"/><circle cx="652.2" cy="776.4" r="0.68"/><circle cx="631.3" cy="779.0" r="0.73"/><circle cx="633.2" cy="777.8" r="0.84"/><circle cx="644.0" cy="777.2" r="0.78"/><circle cx="650.4" cy="777.7" r="0.53"/><circle cx="606.4" cy="779.4" r="0.57"/><circle cx="643.2" cy="776.7" r="0.58"/><circle cx="611.0" cy="778.9" r="0.53"/><circle cx="626.6" cy="778.8" r="0.68"/><circle cx="603.5" cy="776.1" r="0.79"/><circle cx="618.0" cy="776.3" r="0.68"/><circle cx="642.2" cy="777.1" r="0.55"/><circle cx="612.3" cy="777.7" r="0.77"/><circle cx="607.1" cy="778.7" r="0.74"/><circle cx="630.9" cy="777.3" r="0.51"/><circle cx="628.2" cy="777.4" r="0.74"/><circle cx="606.1" cy="776.6" r="0.51"/><circle cx="627.3" cy="776.2" r="0.69"/><circle cx="624.8" cy="777.2" r="0.57"/><circle cx="649.0" cy="777.7" r="0.54"/><circle cx="631.9" cy="778.7" r="0.67"/><circle cx="647.6" cy="778.9" r="0.74"/></g>
</svg>
<rect x="535.6" y="818.1" width="141.0" height="52.7" fill="#5e5c25"/>
<svg x="535.6" y="818.1" width="141.0" height="52.7" viewBox="535.6 818.1 141.0 52.7" overflow="hidden">
<g filter="url(#fb)"><path d="M560.0 836.0 Q612.0 834.5 664.0 825.8 L664.0 828.2 Q612.0 843.0 560.0 842.0 Z" fill="#67612c"/><path d="M560.0 836.0 Q612.0 834.5 664.0 825.8" fill="none" stroke="#3c3818" stroke-width="0.8"/><path d="M568.0 839.0 Q612.0 838.5 660.0 827.0" fill="none" stroke="#4a4420" stroke-width="0.6" stroke-dasharray="3 2"/><ellipse cx="552.0" cy="853.5" rx="9.0" ry="12.0" fill="#57521f"/></g>
<path d="M586.0 836.5 L619.0 835.0 Q621.0 837.0 619.0 839.0 L586.0 840.5 Z" fill="#b0a85c" filter="url(#fb)"/>
<ellipse cx="571.6" cy="852.0" rx="16.0" ry="14.5" fill="url(#yolk)" filter="url(#fb)"/>
<circle cx="552.3" cy="854.6" r="5.2" fill="#352f14" filter="url(#fb)"/>
<ellipse cx="564.5" cy="850.0" rx="11.5" ry="11.5" fill="url(#grnc)"/>
<g fill="#5af85a" fill-opacity="0.8"><circle cx="566.6" cy="849.7" r="0.76"/><circle cx="555.6" cy="850.9" r="0.60"/><circle cx="567.7" cy="848.2" r="0.90"/><circle cx="561.1" cy="852.0" r="0.57"/><circle cx="563.3" cy="848.8" r="0.59"/><circle cx="566.9" cy="850.2" r="0.49"/><circle cx="565.1" cy="854.8" r="0.79"/><circle cx="557.1" cy="854.3" r="0.85"/><circle cx="571.6" cy="844.5" r="0.69"/><circle cx="560.4" cy="842.4" r="0.67"/><circle cx="568.7" cy="855.2" r="0.67"/><circle cx="565.7" cy="852.5" r="0.49"/><circle cx="561.8" cy="842.2" r="0.73"/><circle cx="563.1" cy="850.7" r="0.40"/><circle cx="560.7" cy="844.5" r="0.63"/><circle cx="566.0" cy="852.8" r="0.49"/><circle cx="569.4" cy="855.1" r="0.55"/><circle cx="558.8" cy="848.0" r="0.67"/><circle cx="564.2" cy="841.9" r="0.47"/><circle cx="572.7" cy="847.9" r="0.81"/><circle cx="555.9" cy="852.6" r="0.81"/><circle cx="565.0" cy="857.6" r="0.82"/><circle cx="564.7" cy="841.3" r="0.66"/><circle cx="563.3" cy="847.8" r="0.73"/><circle cx="569.2" cy="856.2" r="0.85"/><circle cx="562.8" cy="851.8" r="0.42"/><circle cx="560.9" cy="849.6" r="0.77"/><circle cx="559.5" cy="845.9" r="0.74"/><circle cx="568.1" cy="855.1" r="0.42"/><circle cx="556.7" cy="847.6" r="0.48"/><circle cx="561.0" cy="841.5" r="0.56"/><circle cx="565.7" cy="854.5" r="0.82"/><circle cx="571.6" cy="853.9" r="0.53"/><circle cx="564.8" cy="841.3" r="0.82"/><circle cx="566.9" cy="856.4" r="0.56"/><circle cx="568.0" cy="846.5" r="0.48"/><circle cx="562.3" cy="851.5" r="0.51"/><circle cx="563.0" cy="845.0" r="0.49"/><circle cx="568.8" cy="848.1" r="0.80"/><circle cx="561.7" cy="843.7" r="0.72"/></g>
</svg>
<text x="539.0" y="772.3" font-size="10.2" fill="#fff" stroke="#fff" stroke-width="0.15">Injected</text>
<text x="539.0" y="827.7" font-size="10.2" fill="#fff" stroke="#fff" stroke-width="0.15">Injected</text>
<path d="M599.4 767.6L660.5 767.6L660.5 785.4L599.4 785.4Z" fill="none" stroke="#f4f4f4" stroke-width="0.9" stroke-dasharray="2.2 1.4"/>
<text x="631.3" y="800.6" font-size="10.2" text-anchor="middle" fill="#fff" stroke="#fff" stroke-width="0.15">Invaded cells</text>
<path d="M602.7 822.3L664.9 822.3L664.9 842.5L602.7 842.5Z" fill="none" stroke="#f4f4f4" stroke-width="0.9" stroke-dasharray="2.2 1.4"/>
<text x="616.2" y="883.3" font-size="10.2" text-anchor="middle" stroke="#000" stroke-width="0.15"><tspan font-style="italic">P</tspan>&lt;0.0001</text></svg></body></html>
